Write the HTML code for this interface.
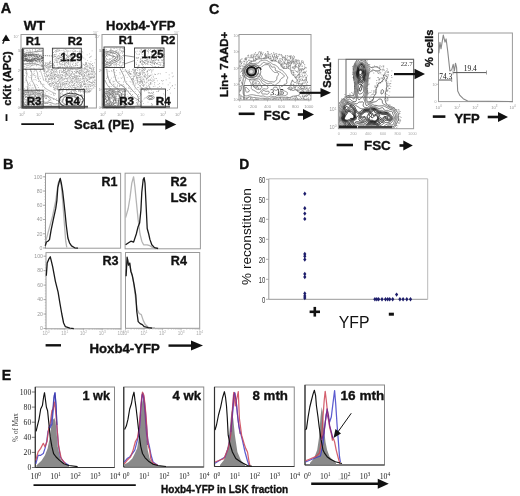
<!DOCTYPE html><html><head><meta charset="utf-8"><style>html,body{margin:0;padding:0;background:#fff;}svg{display:block;will-change:transform;filter:blur(0.3px);}</style></head><body>
<svg width="520" height="496" viewBox="0 0 520 496">
<rect width="520" height="496" fill="#fff"/>
<defs>
<clipPath id="cA1"><rect x="21" y="34.5" width="75.4" height="73.5"/></clipPath>
<clipPath id="cA2"><rect x="102" y="34.5" width="75.5" height="73.5"/></clipPath>
<clipPath id="cC1"><rect x="239" y="34.5" width="72" height="65.5"/></clipPath>
<clipPath id="cC2"><rect x="338.4" y="59.3" width="74.6" height="69.4"/></clipPath>
</defs>
<path d="M49.5,60.8h0.8v0.8h-0.8zM50.2,60.9h0.8v0.8h-0.8zM44.8,61.9h0.8v0.8h-0.8zM46.9,62.4h0.8v0.8h-0.8zM48.8,62.3h0.8v0.8h-0.8zM49.6,61.9h0.8v0.8h-0.8zM86.3,62.5h0.8v0.8h-0.8zM45.2,63.2h0.8v0.8h-0.8zM46.0,62.7h0.8v0.8h-0.8zM47.7,63.3h0.8v0.8h-0.8zM49.4,62.6h0.8v0.8h-0.8zM50.2,62.9h0.8v0.8h-0.8zM50.7,63.0h0.8v0.8h-0.8zM52.4,63.2h0.8v0.8h-0.8zM85.3,62.6h0.8v0.8h-0.8zM86.1,62.8h0.8v0.8h-0.8zM88.3,62.7h0.8v0.8h-0.8zM89.0,63.4h0.8v0.8h-0.8zM91.9,63.2h0.8v0.8h-0.8zM45.1,64.2h0.8v0.8h-0.8zM47.4,64.0h0.8v0.8h-0.8zM48.4,64.1h0.8v0.8h-0.8zM48.9,63.6h0.8v0.8h-0.8zM51.9,63.8h0.8v0.8h-0.8zM52.9,64.1h0.8v0.8h-0.8zM82.4,63.8h0.8v0.8h-0.8zM83.0,64.3h0.8v0.8h-0.8zM85.1,64.3h0.8v0.8h-0.8zM85.7,63.6h0.8v0.8h-0.8zM89.4,63.7h0.8v0.8h-0.8zM90.2,63.5h0.8v0.8h-0.8zM91.2,64.0h0.8v0.8h-0.8zM44.2,64.7h0.8v0.8h-0.8zM45.2,64.8h0.8v0.8h-0.8zM45.8,65.1h0.8v0.8h-0.8zM46.9,64.6h0.8v0.8h-0.8zM49.3,65.4h0.8v0.8h-0.8zM50.0,65.0h0.8v0.8h-0.8zM51.4,65.1h0.8v0.8h-0.8zM52.3,64.8h0.8v0.8h-0.8zM53.4,64.9h0.8v0.8h-0.8zM54.0,65.2h0.8v0.8h-0.8zM81.3,65.3h0.8v0.8h-0.8zM81.7,65.2h0.8v0.8h-0.8zM84.2,64.7h0.8v0.8h-0.8zM84.5,65.2h0.8v0.8h-0.8zM85.9,64.5h0.8v0.8h-0.8zM87.3,64.8h0.8v0.8h-0.8zM92.2,64.9h0.8v0.8h-0.8zM44.1,65.5h0.8v0.8h-0.8zM45.0,66.3h0.8v0.8h-0.8zM46.5,65.7h0.8v0.8h-0.8zM47.5,66.4h0.8v0.8h-0.8zM48.0,65.8h0.8v0.8h-0.8zM49.4,66.1h0.8v0.8h-0.8zM49.8,66.3h0.8v0.8h-0.8zM52.9,66.4h0.8v0.8h-0.8zM79.9,66.3h0.8v0.8h-0.8zM81.4,66.4h0.8v0.8h-0.8zM81.8,66.4h0.8v0.8h-0.8zM85.4,66.0h0.8v0.8h-0.8zM86.3,66.2h0.8v0.8h-0.8zM87.3,65.8h0.8v0.8h-0.8zM88.6,65.6h0.8v0.8h-0.8zM89.9,65.6h0.8v0.8h-0.8zM92.2,65.5h0.8v0.8h-0.8zM92.7,65.5h0.8v0.8h-0.8zM43.4,66.6h0.8v0.8h-0.8zM44.6,67.4h0.8v0.8h-0.8zM46.2,67.3h0.8v0.8h-0.8zM46.7,66.8h0.8v0.8h-0.8zM48.1,67.2h0.8v0.8h-0.8zM49.1,66.9h0.8v0.8h-0.8zM50.2,67.0h0.8v0.8h-0.8zM50.6,66.6h0.8v0.8h-0.8zM52.3,67.3h0.8v0.8h-0.8zM53.2,67.2h0.8v0.8h-0.8zM54.2,66.9h0.8v0.8h-0.8zM57.7,67.4h0.8v0.8h-0.8zM58.8,67.2h0.8v0.8h-0.8zM59.8,67.2h0.8v0.8h-0.8zM77.9,67.4h0.8v0.8h-0.8zM80.3,67.2h0.8v0.8h-0.8zM81.1,67.2h0.8v0.8h-0.8zM82.0,66.8h0.8v0.8h-0.8zM84.3,67.3h0.8v0.8h-0.8zM84.6,67.5h0.8v0.8h-0.8zM86.8,66.8h0.8v0.8h-0.8zM88.8,67.1h0.8v0.8h-0.8zM89.8,67.3h0.8v0.8h-0.8zM91.7,66.9h0.8v0.8h-0.8zM93.4,67.4h0.8v0.8h-0.8zM93.7,67.0h0.8v0.8h-0.8zM43.3,68.3h0.8v0.8h-0.8zM44.0,68.5h0.8v0.8h-0.8zM44.7,67.6h0.8v0.8h-0.8zM46.0,67.5h0.8v0.8h-0.8zM47.3,68.0h0.8v0.8h-0.8zM47.7,67.9h0.8v0.8h-0.8zM48.8,68.5h0.8v0.8h-0.8zM57.3,67.6h0.8v0.8h-0.8zM58.1,68.3h0.8v0.8h-0.8zM64.3,68.2h0.8v0.8h-0.8zM79.1,67.6h0.8v0.8h-0.8zM79.9,68.4h0.8v0.8h-0.8zM81.9,68.3h0.8v0.8h-0.8zM83.2,68.4h0.8v0.8h-0.8zM84.4,68.0h0.8v0.8h-0.8zM84.7,67.6h0.8v0.8h-0.8zM85.6,67.7h0.8v0.8h-0.8zM89.4,68.1h0.8v0.8h-0.8zM90.0,68.1h0.8v0.8h-0.8zM91.4,67.9h0.8v0.8h-0.8zM93.1,67.9h0.8v0.8h-0.8zM43.0,69.0h0.8v0.8h-0.8zM43.7,69.4h0.8v0.8h-0.8zM44.6,69.2h0.8v0.8h-0.8zM47.5,69.5h0.8v0.8h-0.8zM48.5,69.0h0.8v0.8h-0.8zM50.9,69.0h0.8v0.8h-0.8zM51.8,69.0h0.8v0.8h-0.8zM53.1,68.5h0.8v0.8h-0.8zM54.4,69.3h0.8v0.8h-0.8zM55.1,68.8h0.8v0.8h-0.8zM55.9,68.5h0.8v0.8h-0.8zM56.6,69.0h0.8v0.8h-0.8zM62.9,69.1h0.8v0.8h-0.8zM65.0,69.1h0.8v0.8h-0.8zM65.6,68.8h0.8v0.8h-0.8zM67.9,69.2h0.8v0.8h-0.8zM68.8,68.6h0.8v0.8h-0.8zM69.9,68.5h0.8v0.8h-0.8zM70.6,68.8h0.8v0.8h-0.8zM72.3,68.9h0.8v0.8h-0.8zM73.0,68.7h0.8v0.8h-0.8zM74.4,68.6h0.8v0.8h-0.8zM74.6,68.7h0.8v0.8h-0.8zM76.0,69.3h0.8v0.8h-0.8zM77.1,69.3h0.8v0.8h-0.8zM79.7,68.8h0.8v0.8h-0.8zM81.2,68.9h0.8v0.8h-0.8zM81.8,68.5h0.8v0.8h-0.8zM84.3,68.8h0.8v0.8h-0.8zM85.0,68.7h0.8v0.8h-0.8zM86.2,68.9h0.8v0.8h-0.8zM86.9,68.7h0.8v0.8h-0.8zM87.6,69.0h0.8v0.8h-0.8zM91.3,68.8h0.8v0.8h-0.8zM91.6,69.3h0.8v0.8h-0.8zM93.4,68.9h0.8v0.8h-0.8zM43.3,70.2h0.8v0.8h-0.8zM44.0,69.7h0.8v0.8h-0.8zM44.6,70.3h0.8v0.8h-0.8zM47.7,70.1h0.8v0.8h-0.8zM49.6,69.6h0.8v0.8h-0.8zM51.0,69.6h0.8v0.8h-0.8zM52.0,69.6h0.8v0.8h-0.8zM52.6,70.2h0.8v0.8h-0.8zM56.0,70.2h0.8v0.8h-0.8zM59.0,70.2h0.8v0.8h-0.8zM60.4,69.8h0.8v0.8h-0.8zM60.9,69.7h0.8v0.8h-0.8zM63.0,70.1h0.8v0.8h-0.8zM64.1,70.3h0.8v0.8h-0.8zM64.9,69.6h0.8v0.8h-0.8zM67.2,69.6h0.8v0.8h-0.8zM68.5,69.9h0.8v0.8h-0.8zM69.2,70.5h0.8v0.8h-0.8zM69.9,69.6h0.8v0.8h-0.8zM71.5,69.5h0.8v0.8h-0.8zM75.1,69.5h0.8v0.8h-0.8zM76.5,70.3h0.8v0.8h-0.8zM78.3,69.5h0.8v0.8h-0.8zM79.0,70.3h0.8v0.8h-0.8zM80.0,70.4h0.8v0.8h-0.8zM80.8,70.1h0.8v0.8h-0.8zM81.9,69.7h0.8v0.8h-0.8zM83.7,69.7h0.8v0.8h-0.8zM86.8,70.2h0.8v0.8h-0.8zM87.5,70.4h0.8v0.8h-0.8zM89.4,69.9h0.8v0.8h-0.8zM91.2,70.4h0.8v0.8h-0.8zM91.7,70.5h0.8v0.8h-0.8zM93.1,69.6h0.8v0.8h-0.8zM43.2,70.7h0.8v0.8h-0.8zM44.3,71.1h0.8v0.8h-0.8zM45.9,71.0h0.8v0.8h-0.8zM47.4,71.0h0.8v0.8h-0.8zM47.6,71.1h0.8v0.8h-0.8zM50.0,71.5h0.8v0.8h-0.8zM50.7,71.2h0.8v0.8h-0.8zM53.2,71.2h0.8v0.8h-0.8zM54.3,70.6h0.8v0.8h-0.8zM55.4,71.1h0.8v0.8h-0.8zM55.7,71.3h0.8v0.8h-0.8zM57.4,71.4h0.8v0.8h-0.8zM59.3,71.0h0.8v0.8h-0.8zM61.1,71.5h0.8v0.8h-0.8zM62.5,70.9h0.8v0.8h-0.8zM63.0,70.6h0.8v0.8h-0.8zM63.8,70.5h0.8v0.8h-0.8zM65.0,71.0h0.8v0.8h-0.8zM66.3,70.9h0.8v0.8h-0.8zM67.4,70.8h0.8v0.8h-0.8zM68.1,70.5h0.8v0.8h-0.8zM69.5,71.5h0.8v0.8h-0.8zM69.5,71.4h0.8v0.8h-0.8zM71.1,70.9h0.8v0.8h-0.8zM72.3,71.2h0.8v0.8h-0.8zM74.3,71.1h0.8v0.8h-0.8zM76.4,71.2h0.8v0.8h-0.8zM77.0,71.1h0.8v0.8h-0.8zM77.5,71.2h0.8v0.8h-0.8zM78.8,71.0h0.8v0.8h-0.8zM79.7,70.5h0.8v0.8h-0.8zM81.5,71.0h0.8v0.8h-0.8zM82.6,70.8h0.8v0.8h-0.8zM85.5,71.4h0.8v0.8h-0.8zM86.0,70.9h0.8v0.8h-0.8zM87.4,71.2h0.8v0.8h-0.8zM88.2,70.7h0.8v0.8h-0.8zM89.3,71.4h0.8v0.8h-0.8zM90.8,71.0h0.8v0.8h-0.8zM91.8,71.0h0.8v0.8h-0.8zM92.8,70.8h0.8v0.8h-0.8zM93.9,71.0h0.8v0.8h-0.8zM43.9,71.5h0.8v0.8h-0.8zM44.7,72.4h0.8v0.8h-0.8zM45.8,72.4h0.8v0.8h-0.8zM46.6,71.7h0.8v0.8h-0.8zM48.8,71.9h0.8v0.8h-0.8zM51.2,72.0h0.8v0.8h-0.8zM51.8,72.2h0.8v0.8h-0.8zM53.0,71.6h0.8v0.8h-0.8zM54.6,72.0h0.8v0.8h-0.8zM56.4,72.3h0.8v0.8h-0.8zM59.2,72.0h0.8v0.8h-0.8zM61.2,72.0h0.8v0.8h-0.8zM62.2,71.6h0.8v0.8h-0.8zM62.6,71.9h0.8v0.8h-0.8zM63.9,72.1h0.8v0.8h-0.8zM65.4,72.3h0.8v0.8h-0.8zM66.0,72.5h0.8v0.8h-0.8zM66.7,71.5h0.8v0.8h-0.8zM68.5,72.0h0.8v0.8h-0.8zM68.5,72.0h0.8v0.8h-0.8zM72.0,72.0h0.8v0.8h-0.8zM75.1,72.4h0.8v0.8h-0.8zM75.7,71.6h0.8v0.8h-0.8zM76.6,72.5h0.8v0.8h-0.8zM78.3,72.1h0.8v0.8h-0.8zM79.5,72.3h0.8v0.8h-0.8zM80.1,72.0h0.8v0.8h-0.8zM80.9,71.8h0.8v0.8h-0.8zM83.4,71.6h0.8v0.8h-0.8zM84.0,71.9h0.8v0.8h-0.8zM84.6,72.2h0.8v0.8h-0.8zM86.3,72.2h0.8v0.8h-0.8zM87.6,71.6h0.8v0.8h-0.8zM91.6,71.6h0.8v0.8h-0.8zM93.5,71.7h0.8v0.8h-0.8zM93.9,71.9h0.8v0.8h-0.8zM43.6,73.0h0.8v0.8h-0.8zM44.7,72.9h0.8v0.8h-0.8zM45.9,72.5h0.8v0.8h-0.8zM50.2,73.4h0.8v0.8h-0.8zM51.2,73.1h0.8v0.8h-0.8zM52.3,73.4h0.8v0.8h-0.8zM53.5,72.8h0.8v0.8h-0.8zM54.6,73.5h0.8v0.8h-0.8zM57.2,73.5h0.8v0.8h-0.8zM59.4,72.8h0.8v0.8h-0.8zM63.3,72.7h0.8v0.8h-0.8zM64.6,72.5h0.8v0.8h-0.8zM65.8,73.2h0.8v0.8h-0.8zM66.6,73.3h0.8v0.8h-0.8zM68.4,73.4h0.8v0.8h-0.8zM69.5,73.3h0.8v0.8h-0.8zM71.1,73.3h0.8v0.8h-0.8zM71.9,72.7h0.8v0.8h-0.8zM73.5,73.2h0.8v0.8h-0.8zM74.0,73.4h0.8v0.8h-0.8zM75.9,72.6h0.8v0.8h-0.8zM78.5,72.9h0.8v0.8h-0.8zM79.3,72.9h0.8v0.8h-0.8zM79.9,73.2h0.8v0.8h-0.8zM81.4,73.4h0.8v0.8h-0.8zM81.9,72.6h0.8v0.8h-0.8zM83.3,72.9h0.8v0.8h-0.8zM85.4,73.0h0.8v0.8h-0.8zM85.8,72.8h0.8v0.8h-0.8zM88.3,72.9h0.8v0.8h-0.8zM89.7,72.7h0.8v0.8h-0.8zM90.6,73.4h0.8v0.8h-0.8zM91.6,73.5h0.8v0.8h-0.8zM92.5,72.7h0.8v0.8h-0.8zM94.8,73.2h0.8v0.8h-0.8zM46.3,74.1h0.8v0.8h-0.8zM48.5,74.0h0.8v0.8h-0.8zM48.6,73.7h0.8v0.8h-0.8zM49.9,73.7h0.8v0.8h-0.8zM50.6,73.8h0.8v0.8h-0.8zM52.6,74.4h0.8v0.8h-0.8zM53.9,74.3h0.8v0.8h-0.8zM55.3,73.9h0.8v0.8h-0.8zM55.6,74.1h0.8v0.8h-0.8zM57.8,74.2h0.8v0.8h-0.8zM59.6,74.4h0.8v0.8h-0.8zM60.7,74.1h0.8v0.8h-0.8zM62.1,74.2h0.8v0.8h-0.8zM65.0,73.7h0.8v0.8h-0.8zM65.7,74.3h0.8v0.8h-0.8zM67.0,73.9h0.8v0.8h-0.8zM68.5,73.6h0.8v0.8h-0.8zM69.9,74.3h0.8v0.8h-0.8zM71.3,74.2h0.8v0.8h-0.8zM72.9,74.2h0.8v0.8h-0.8zM74.3,74.5h0.8v0.8h-0.8zM78.9,73.8h0.8v0.8h-0.8zM79.8,74.3h0.8v0.8h-0.8zM81.0,74.1h0.8v0.8h-0.8zM82.4,74.4h0.8v0.8h-0.8zM84.0,73.9h0.8v0.8h-0.8zM86.5,74.0h0.8v0.8h-0.8zM88.0,74.1h0.8v0.8h-0.8zM88.9,74.0h0.8v0.8h-0.8zM90.4,73.7h0.8v0.8h-0.8zM92.2,73.9h0.8v0.8h-0.8zM93.7,73.7h0.8v0.8h-0.8zM94.8,73.8h0.8v0.8h-0.8zM44.3,74.5h0.8v0.8h-0.8zM46.5,75.3h0.8v0.8h-0.8zM46.9,75.0h0.8v0.8h-0.8zM48.2,75.0h0.8v0.8h-0.8zM50.1,75.1h0.8v0.8h-0.8zM51.7,75.0h0.8v0.8h-0.8zM52.8,74.7h0.8v0.8h-0.8zM54.0,75.2h0.8v0.8h-0.8zM54.6,74.6h0.8v0.8h-0.8zM56.4,75.2h0.8v0.8h-0.8zM57.4,74.9h0.8v0.8h-0.8zM58.1,74.8h0.8v0.8h-0.8zM59.4,75.5h0.8v0.8h-0.8zM61.8,75.4h0.8v0.8h-0.8zM62.5,75.0h0.8v0.8h-0.8zM64.2,74.7h0.8v0.8h-0.8zM65.4,75.2h0.8v0.8h-0.8zM66.5,74.5h0.8v0.8h-0.8zM67.5,75.0h0.8v0.8h-0.8zM67.7,75.3h0.8v0.8h-0.8zM69.5,75.1h0.8v0.8h-0.8zM70.0,75.0h0.8v0.8h-0.8zM71.2,74.7h0.8v0.8h-0.8zM74.0,75.5h0.8v0.8h-0.8zM75.3,75.2h0.8v0.8h-0.8zM75.9,75.4h0.8v0.8h-0.8zM76.6,75.2h0.8v0.8h-0.8zM78.6,75.3h0.8v0.8h-0.8zM81.0,75.2h0.8v0.8h-0.8zM82.0,74.7h0.8v0.8h-0.8zM83.7,74.6h0.8v0.8h-0.8zM84.5,75.3h0.8v0.8h-0.8zM86.5,75.3h0.8v0.8h-0.8zM87.0,75.4h0.8v0.8h-0.8zM88.2,74.7h0.8v0.8h-0.8zM88.7,74.7h0.8v0.8h-0.8zM90.8,74.5h0.8v0.8h-0.8zM93.0,75.4h0.8v0.8h-0.8zM94.0,75.5h0.8v0.8h-0.8zM44.3,75.6h0.8v0.8h-0.8zM45.4,76.0h0.8v0.8h-0.8zM45.7,76.1h0.8v0.8h-0.8zM47.2,76.0h0.8v0.8h-0.8zM48.0,75.5h0.8v0.8h-0.8zM49.4,75.7h0.8v0.8h-0.8zM49.6,76.0h0.8v0.8h-0.8zM51.2,75.6h0.8v0.8h-0.8zM52.4,76.0h0.8v0.8h-0.8zM52.9,75.9h0.8v0.8h-0.8zM53.7,76.4h0.8v0.8h-0.8zM55.3,75.9h0.8v0.8h-0.8zM56.1,75.9h0.8v0.8h-0.8zM57.1,76.4h0.8v0.8h-0.8zM58.4,75.7h0.8v0.8h-0.8zM60.1,75.5h0.8v0.8h-0.8zM60.7,76.2h0.8v0.8h-0.8zM62.7,75.5h0.8v0.8h-0.8zM64.6,76.3h0.8v0.8h-0.8zM65.7,75.8h0.8v0.8h-0.8zM69.1,76.1h0.8v0.8h-0.8zM71.2,76.2h0.8v0.8h-0.8zM72.0,75.9h0.8v0.8h-0.8zM73.1,76.3h0.8v0.8h-0.8zM74.1,76.4h0.8v0.8h-0.8zM75.2,76.5h0.8v0.8h-0.8zM75.8,76.3h0.8v0.8h-0.8zM77.3,76.1h0.8v0.8h-0.8zM77.7,75.7h0.8v0.8h-0.8zM79.0,76.2h0.8v0.8h-0.8zM79.6,76.1h0.8v0.8h-0.8zM81.9,76.0h0.8v0.8h-0.8zM83.3,76.1h0.8v0.8h-0.8zM83.8,75.6h0.8v0.8h-0.8zM84.6,75.8h0.8v0.8h-0.8zM86.3,75.7h0.8v0.8h-0.8zM87.6,76.5h0.8v0.8h-0.8zM88.7,76.3h0.8v0.8h-0.8zM89.8,76.5h0.8v0.8h-0.8zM91.2,76.5h0.8v0.8h-0.8zM92.4,75.9h0.8v0.8h-0.8zM92.9,75.5h0.8v0.8h-0.8zM94.4,76.5h0.8v0.8h-0.8zM45.4,77.4h0.8v0.8h-0.8zM46.9,76.7h0.8v0.8h-0.8zM49.6,77.0h0.8v0.8h-0.8zM50.8,77.1h0.8v0.8h-0.8zM52.3,77.5h0.8v0.8h-0.8zM53.5,77.0h0.8v0.8h-0.8zM54.9,77.4h0.8v0.8h-0.8zM57.3,77.2h0.8v0.8h-0.8zM58.2,77.3h0.8v0.8h-0.8zM59.1,76.7h0.8v0.8h-0.8zM61.0,77.1h0.8v0.8h-0.8zM62.3,77.3h0.8v0.8h-0.8zM65.3,76.6h0.8v0.8h-0.8zM67.4,77.5h0.8v0.8h-0.8zM68.2,76.7h0.8v0.8h-0.8zM69.3,76.6h0.8v0.8h-0.8zM70.1,77.3h0.8v0.8h-0.8zM72.3,77.4h0.8v0.8h-0.8zM72.6,77.2h0.8v0.8h-0.8zM74.0,77.3h0.8v0.8h-0.8zM75.3,77.5h0.8v0.8h-0.8zM75.8,77.2h0.8v0.8h-0.8zM77.6,77.5h0.8v0.8h-0.8zM82.0,77.5h0.8v0.8h-0.8zM83.2,77.4h0.8v0.8h-0.8zM85.3,76.9h0.8v0.8h-0.8zM87.9,77.4h0.8v0.8h-0.8zM89.3,76.9h0.8v0.8h-0.8zM90.1,77.2h0.8v0.8h-0.8zM90.6,77.2h0.8v0.8h-0.8zM91.6,77.0h0.8v0.8h-0.8zM93.2,77.0h0.8v0.8h-0.8zM93.9,76.6h0.8v0.8h-0.8zM45.4,78.0h0.8v0.8h-0.8zM48.1,78.3h0.8v0.8h-0.8zM49.3,78.3h0.8v0.8h-0.8zM50.5,78.0h0.8v0.8h-0.8zM51.5,78.1h0.8v0.8h-0.8zM51.8,77.9h0.8v0.8h-0.8zM54.0,77.7h0.8v0.8h-0.8zM54.7,78.3h0.8v0.8h-0.8zM59.1,78.4h0.8v0.8h-0.8zM60.3,77.6h0.8v0.8h-0.8zM60.7,77.9h0.8v0.8h-0.8zM61.8,77.8h0.8v0.8h-0.8zM63.5,78.2h0.8v0.8h-0.8zM63.9,78.0h0.8v0.8h-0.8zM65.2,77.9h0.8v0.8h-0.8zM66.2,77.9h0.8v0.8h-0.8zM67.0,78.4h0.8v0.8h-0.8zM68.9,78.4h0.8v0.8h-0.8zM70.2,78.4h0.8v0.8h-0.8zM70.8,78.4h0.8v0.8h-0.8zM72.2,78.1h0.8v0.8h-0.8zM73.2,78.0h0.8v0.8h-0.8zM75.3,78.0h0.8v0.8h-0.8zM76.3,77.6h0.8v0.8h-0.8zM76.7,78.5h0.8v0.8h-0.8zM78.5,78.3h0.8v0.8h-0.8zM80.0,78.2h0.8v0.8h-0.8zM81.8,78.2h0.8v0.8h-0.8zM83.2,78.2h0.8v0.8h-0.8zM84.5,77.7h0.8v0.8h-0.8zM84.7,78.2h0.8v0.8h-0.8zM86.4,78.0h0.8v0.8h-0.8zM89.3,77.9h0.8v0.8h-0.8zM90.4,77.5h0.8v0.8h-0.8zM91.1,77.8h0.8v0.8h-0.8zM92.4,77.5h0.8v0.8h-0.8zM92.7,77.5h0.8v0.8h-0.8zM93.5,77.5h0.8v0.8h-0.8zM45.3,78.8h0.8v0.8h-0.8zM45.7,78.6h0.8v0.8h-0.8zM48.1,79.2h0.8v0.8h-0.8zM49.0,79.3h0.8v0.8h-0.8zM49.8,79.2h0.8v0.8h-0.8zM50.9,79.5h0.8v0.8h-0.8zM52.2,78.7h0.8v0.8h-0.8zM52.8,78.7h0.8v0.8h-0.8zM54.0,78.6h0.8v0.8h-0.8zM55.8,79.4h0.8v0.8h-0.8zM57.8,78.6h0.8v0.8h-0.8zM59.0,79.5h0.8v0.8h-0.8zM60.2,78.8h0.8v0.8h-0.8zM61.6,78.8h0.8v0.8h-0.8zM62.7,79.2h0.8v0.8h-0.8zM64.3,78.9h0.8v0.8h-0.8zM66.5,78.7h0.8v0.8h-0.8zM67.5,78.6h0.8v0.8h-0.8zM70.2,78.8h0.8v0.8h-0.8zM71.1,78.8h0.8v0.8h-0.8zM72.4,78.7h0.8v0.8h-0.8zM73.8,78.8h0.8v0.8h-0.8zM75.0,79.3h0.8v0.8h-0.8zM76.4,79.3h0.8v0.8h-0.8zM76.5,78.6h0.8v0.8h-0.8zM77.9,78.5h0.8v0.8h-0.8zM80.3,79.4h0.8v0.8h-0.8zM81.7,79.3h0.8v0.8h-0.8zM83.5,78.7h0.8v0.8h-0.8zM86.3,78.8h0.8v0.8h-0.8zM87.3,79.3h0.8v0.8h-0.8zM87.9,79.4h0.8v0.8h-0.8zM89.2,79.2h0.8v0.8h-0.8zM90.2,78.5h0.8v0.8h-0.8zM94.3,79.4h0.8v0.8h-0.8zM45.0,79.7h0.8v0.8h-0.8zM45.5,79.6h0.8v0.8h-0.8zM48.2,79.8h0.8v0.8h-0.8zM51.6,80.2h0.8v0.8h-0.8zM54.5,79.8h0.8v0.8h-0.8zM57.9,80.2h0.8v0.8h-0.8zM58.7,79.7h0.8v0.8h-0.8zM61.0,80.4h0.8v0.8h-0.8zM62.2,79.7h0.8v0.8h-0.8zM62.9,79.8h0.8v0.8h-0.8zM67.2,80.2h0.8v0.8h-0.8zM70.9,80.3h0.8v0.8h-0.8zM71.6,80.0h0.8v0.8h-0.8zM74.6,80.3h0.8v0.8h-0.8zM76.2,80.4h0.8v0.8h-0.8zM77.4,79.7h0.8v0.8h-0.8zM78.3,79.7h0.8v0.8h-0.8zM79.1,79.8h0.8v0.8h-0.8zM79.8,80.3h0.8v0.8h-0.8zM83.3,80.3h0.8v0.8h-0.8zM83.9,80.4h0.8v0.8h-0.8zM84.6,79.5h0.8v0.8h-0.8zM86.3,80.0h0.8v0.8h-0.8zM87.0,80.1h0.8v0.8h-0.8zM92.4,79.7h0.8v0.8h-0.8zM94.8,79.8h0.8v0.8h-0.8zM45.8,81.1h0.8v0.8h-0.8zM46.8,80.7h0.8v0.8h-0.8zM48.1,81.5h0.8v0.8h-0.8zM48.7,81.1h0.8v0.8h-0.8zM50.9,81.4h0.8v0.8h-0.8zM53.4,80.9h0.8v0.8h-0.8zM54.9,81.4h0.8v0.8h-0.8zM57.2,81.1h0.8v0.8h-0.8zM58.1,80.7h0.8v0.8h-0.8zM59.2,81.4h0.8v0.8h-0.8zM60.0,80.7h0.8v0.8h-0.8zM64.2,81.4h0.8v0.8h-0.8zM64.8,80.9h0.8v0.8h-0.8zM66.1,81.1h0.8v0.8h-0.8zM67.3,81.4h0.8v0.8h-0.8zM67.5,81.0h0.8v0.8h-0.8zM68.6,80.8h0.8v0.8h-0.8zM70.1,80.7h0.8v0.8h-0.8zM70.6,81.2h0.8v0.8h-0.8zM72.4,81.4h0.8v0.8h-0.8zM72.7,80.7h0.8v0.8h-0.8zM74.1,80.6h0.8v0.8h-0.8zM75.4,81.4h0.8v0.8h-0.8zM76.2,80.9h0.8v0.8h-0.8zM77.5,81.3h0.8v0.8h-0.8zM77.7,81.2h0.8v0.8h-0.8zM78.9,81.4h0.8v0.8h-0.8zM82.1,81.3h0.8v0.8h-0.8zM83.3,80.8h0.8v0.8h-0.8zM84.1,81.2h0.8v0.8h-0.8zM86.0,81.0h0.8v0.8h-0.8zM88.5,81.1h0.8v0.8h-0.8zM89.4,81.2h0.8v0.8h-0.8zM92.6,81.3h0.8v0.8h-0.8zM94.4,80.5h0.8v0.8h-0.8zM47.3,82.3h0.8v0.8h-0.8zM47.8,81.5h0.8v0.8h-0.8zM50.8,81.5h0.8v0.8h-0.8zM52.3,82.3h0.8v0.8h-0.8zM53.7,81.9h0.8v0.8h-0.8zM54.8,81.6h0.8v0.8h-0.8zM56.2,81.7h0.8v0.8h-0.8zM59.0,82.0h0.8v0.8h-0.8zM60.5,82.5h0.8v0.8h-0.8zM61.8,81.8h0.8v0.8h-0.8zM63.0,82.2h0.8v0.8h-0.8zM69.1,81.9h0.8v0.8h-0.8zM69.5,82.2h0.8v0.8h-0.8zM71.3,82.2h0.8v0.8h-0.8zM71.9,81.5h0.8v0.8h-0.8zM72.5,81.9h0.8v0.8h-0.8zM76.3,82.3h0.8v0.8h-0.8zM77.3,82.3h0.8v0.8h-0.8zM78.8,82.4h0.8v0.8h-0.8zM80.2,82.1h0.8v0.8h-0.8zM81.0,81.5h0.8v0.8h-0.8zM81.8,82.2h0.8v0.8h-0.8zM83.5,82.4h0.8v0.8h-0.8zM84.4,81.8h0.8v0.8h-0.8zM87.0,82.4h0.8v0.8h-0.8zM88.7,82.2h0.8v0.8h-0.8zM90.3,82.1h0.8v0.8h-0.8zM91.1,82.2h0.8v0.8h-0.8zM92.2,82.0h0.8v0.8h-0.8zM93.1,81.6h0.8v0.8h-0.8zM94.1,82.0h0.8v0.8h-0.8zM47.5,82.6h0.8v0.8h-0.8zM49.2,83.0h0.8v0.8h-0.8zM49.7,83.1h0.8v0.8h-0.8zM51.4,82.7h0.8v0.8h-0.8zM51.9,82.7h0.8v0.8h-0.8zM53.0,83.1h0.8v0.8h-0.8zM55.4,83.2h0.8v0.8h-0.8zM55.5,82.5h0.8v0.8h-0.8zM56.5,83.2h0.8v0.8h-0.8zM58.0,83.3h0.8v0.8h-0.8zM58.5,83.4h0.8v0.8h-0.8zM59.6,82.7h0.8v0.8h-0.8zM62.0,82.7h0.8v0.8h-0.8zM62.6,83.3h0.8v0.8h-0.8zM64.4,83.2h0.8v0.8h-0.8zM65.2,82.8h0.8v0.8h-0.8zM65.8,82.7h0.8v0.8h-0.8zM66.6,83.0h0.8v0.8h-0.8zM68.4,82.7h0.8v0.8h-0.8zM69.5,83.0h0.8v0.8h-0.8zM71.8,82.8h0.8v0.8h-0.8zM73.9,83.1h0.8v0.8h-0.8zM74.7,82.8h0.8v0.8h-0.8zM77.0,83.5h0.8v0.8h-0.8zM78.5,82.5h0.8v0.8h-0.8zM79.1,83.4h0.8v0.8h-0.8zM80.9,83.2h0.8v0.8h-0.8zM83.4,83.5h0.8v0.8h-0.8zM84.5,82.9h0.8v0.8h-0.8zM84.8,83.4h0.8v0.8h-0.8zM91.0,83.5h0.8v0.8h-0.8zM91.9,83.3h0.8v0.8h-0.8zM94.5,82.6h0.8v0.8h-0.8zM48.5,84.1h0.8v0.8h-0.8zM49.3,83.9h0.8v0.8h-0.8zM50.4,83.5h0.8v0.8h-0.8zM52.0,83.6h0.8v0.8h-0.8zM54.3,84.3h0.8v0.8h-0.8zM55.7,83.6h0.8v0.8h-0.8zM57.5,84.2h0.8v0.8h-0.8zM57.6,83.6h0.8v0.8h-0.8zM60.0,84.3h0.8v0.8h-0.8zM60.6,83.6h0.8v0.8h-0.8zM61.8,84.3h0.8v0.8h-0.8zM63.3,84.0h0.8v0.8h-0.8zM63.9,83.6h0.8v0.8h-0.8zM66.1,83.6h0.8v0.8h-0.8zM68.1,83.9h0.8v0.8h-0.8zM73.3,83.9h0.8v0.8h-0.8zM73.9,83.8h0.8v0.8h-0.8zM76.2,84.4h0.8v0.8h-0.8zM78.2,84.0h0.8v0.8h-0.8zM80.0,83.9h0.8v0.8h-0.8zM81.0,84.0h0.8v0.8h-0.8zM83.2,83.6h0.8v0.8h-0.8zM84.1,84.1h0.8v0.8h-0.8zM85.4,83.9h0.8v0.8h-0.8zM85.7,83.6h0.8v0.8h-0.8zM87.4,83.9h0.8v0.8h-0.8zM88.4,83.8h0.8v0.8h-0.8zM89.0,84.2h0.8v0.8h-0.8zM89.9,84.0h0.8v0.8h-0.8zM93.2,84.2h0.8v0.8h-0.8zM94.6,84.2h0.8v0.8h-0.8zM49.4,85.0h0.8v0.8h-0.8zM49.8,85.4h0.8v0.8h-0.8zM51.2,84.6h0.8v0.8h-0.8zM52.7,85.2h0.8v0.8h-0.8zM54.1,84.9h0.8v0.8h-0.8zM57.7,85.0h0.8v0.8h-0.8zM60.0,85.3h0.8v0.8h-0.8zM62.2,85.0h0.8v0.8h-0.8zM62.6,84.6h0.8v0.8h-0.8zM64.3,84.8h0.8v0.8h-0.8zM65.3,84.6h0.8v0.8h-0.8zM67.2,84.7h0.8v0.8h-0.8zM69.1,84.7h0.8v0.8h-0.8zM69.6,84.9h0.8v0.8h-0.8zM71.1,84.6h0.8v0.8h-0.8zM72.2,85.2h0.8v0.8h-0.8zM73.0,85.1h0.8v0.8h-0.8zM74.0,85.4h0.8v0.8h-0.8zM76.6,85.4h0.8v0.8h-0.8zM79.4,85.0h0.8v0.8h-0.8zM80.1,85.4h0.8v0.8h-0.8zM80.8,85.1h0.8v0.8h-0.8zM81.7,85.4h0.8v0.8h-0.8zM83.3,84.5h0.8v0.8h-0.8zM88.6,84.9h0.8v0.8h-0.8zM90.5,85.2h0.8v0.8h-0.8zM90.7,85.4h0.8v0.8h-0.8zM92.3,84.8h0.8v0.8h-0.8zM92.8,84.7h0.8v0.8h-0.8zM50.6,86.1h0.8v0.8h-0.8zM52.9,85.6h0.8v0.8h-0.8zM54.8,85.7h0.8v0.8h-0.8zM56.0,85.6h0.8v0.8h-0.8zM56.8,85.9h0.8v0.8h-0.8zM57.5,85.8h0.8v0.8h-0.8zM58.8,85.9h0.8v0.8h-0.8zM60.1,86.3h0.8v0.8h-0.8zM60.5,85.5h0.8v0.8h-0.8zM62.4,86.4h0.8v0.8h-0.8zM64.5,86.2h0.8v0.8h-0.8zM68.2,86.3h0.8v0.8h-0.8zM69.4,86.5h0.8v0.8h-0.8zM69.9,86.2h0.8v0.8h-0.8zM72.0,85.8h0.8v0.8h-0.8zM74.6,85.5h0.8v0.8h-0.8zM77.3,86.0h0.8v0.8h-0.8zM77.7,86.1h0.8v0.8h-0.8zM79.8,86.1h0.8v0.8h-0.8zM80.8,86.2h0.8v0.8h-0.8zM82.0,85.9h0.8v0.8h-0.8zM84.1,85.9h0.8v0.8h-0.8zM84.9,86.1h0.8v0.8h-0.8zM85.5,85.6h0.8v0.8h-0.8zM87.3,85.8h0.8v0.8h-0.8zM87.9,85.9h0.8v0.8h-0.8zM89.9,86.1h0.8v0.8h-0.8zM91.8,85.5h0.8v0.8h-0.8zM94.0,85.5h0.8v0.8h-0.8zM94.7,86.2h0.8v0.8h-0.8zM53.2,87.1h0.8v0.8h-0.8zM54.9,86.8h0.8v0.8h-0.8zM56.8,87.1h0.8v0.8h-0.8zM57.9,86.7h0.8v0.8h-0.8zM58.7,86.8h0.8v0.8h-0.8zM60.5,87.3h0.8v0.8h-0.8zM60.9,86.6h0.8v0.8h-0.8zM64.4,86.9h0.8v0.8h-0.8zM66.3,87.4h0.8v0.8h-0.8zM67.4,87.3h0.8v0.8h-0.8zM70.4,86.8h0.8v0.8h-0.8zM72.7,86.9h0.8v0.8h-0.8zM73.8,87.1h0.8v0.8h-0.8zM75.0,87.2h0.8v0.8h-0.8zM76.2,87.4h0.8v0.8h-0.8zM78.7,87.4h0.8v0.8h-0.8zM80.1,87.2h0.8v0.8h-0.8zM81.1,87.4h0.8v0.8h-0.8zM86.0,86.7h0.8v0.8h-0.8zM88.4,86.8h0.8v0.8h-0.8zM92.9,86.7h0.8v0.8h-0.8zM53.8,87.5h0.8v0.8h-0.8zM55.1,88.3h0.8v0.8h-0.8zM56.5,87.8h0.8v0.8h-0.8zM56.7,88.4h0.8v0.8h-0.8zM57.5,88.0h0.8v0.8h-0.8zM60.2,88.1h0.8v0.8h-0.8zM61.5,88.3h0.8v0.8h-0.8zM63.0,88.1h0.8v0.8h-0.8zM64.9,87.5h0.8v0.8h-0.8zM68.3,88.4h0.8v0.8h-0.8zM68.7,88.1h0.8v0.8h-0.8zM71.3,87.6h0.8v0.8h-0.8zM71.6,88.0h0.8v0.8h-0.8zM74.2,87.8h0.8v0.8h-0.8zM74.7,88.1h0.8v0.8h-0.8zM75.6,87.7h0.8v0.8h-0.8zM77.0,87.7h0.8v0.8h-0.8zM77.8,87.7h0.8v0.8h-0.8zM79.8,87.8h0.8v0.8h-0.8zM81.5,88.1h0.8v0.8h-0.8zM82.9,87.9h0.8v0.8h-0.8zM83.5,88.1h0.8v0.8h-0.8zM84.5,87.5h0.8v0.8h-0.8zM85.8,88.0h0.8v0.8h-0.8zM87.6,87.8h0.8v0.8h-0.8zM89.1,88.4h0.8v0.8h-0.8zM90.4,88.3h0.8v0.8h-0.8zM91.9,88.5h0.8v0.8h-0.8zM93.5,87.8h0.8v0.8h-0.8zM53.5,88.9h0.8v0.8h-0.8zM54.0,88.6h0.8v0.8h-0.8zM56.5,88.9h0.8v0.8h-0.8zM56.9,89.4h0.8v0.8h-0.8zM57.5,89.0h0.8v0.8h-0.8zM58.6,89.3h0.8v0.8h-0.8zM61.3,88.7h0.8v0.8h-0.8zM62.2,89.5h0.8v0.8h-0.8zM63.1,88.9h0.8v0.8h-0.8zM64.2,89.3h0.8v0.8h-0.8zM65.8,88.7h0.8v0.8h-0.8zM69.5,89.5h0.8v0.8h-0.8zM70.5,88.9h0.8v0.8h-0.8zM72.5,89.1h0.8v0.8h-0.8zM73.1,89.4h0.8v0.8h-0.8zM75.4,89.2h0.8v0.8h-0.8zM75.5,88.6h0.8v0.8h-0.8zM77.1,89.2h0.8v0.8h-0.8zM78.9,88.6h0.8v0.8h-0.8zM82.1,89.4h0.8v0.8h-0.8zM83.3,88.8h0.8v0.8h-0.8zM83.9,88.9h0.8v0.8h-0.8zM84.9,89.4h0.8v0.8h-0.8zM85.9,89.3h0.8v0.8h-0.8zM86.6,88.6h0.8v0.8h-0.8zM88.3,88.8h0.8v0.8h-0.8zM91.2,88.7h0.8v0.8h-0.8zM54.5,89.6h0.8v0.8h-0.8zM55.0,89.7h0.8v0.8h-0.8zM58.1,89.6h0.8v0.8h-0.8zM59.0,89.9h0.8v0.8h-0.8zM59.8,89.8h0.8v0.8h-0.8zM62.4,90.3h0.8v0.8h-0.8zM62.6,90.0h0.8v0.8h-0.8zM66.0,89.8h0.8v0.8h-0.8zM67.2,89.6h0.8v0.8h-0.8zM68.3,89.8h0.8v0.8h-0.8zM69.6,89.7h0.8v0.8h-0.8zM71.5,90.1h0.8v0.8h-0.8zM72.7,89.9h0.8v0.8h-0.8zM74.4,90.1h0.8v0.8h-0.8zM75.1,89.9h0.8v0.8h-0.8zM78.3,90.1h0.8v0.8h-0.8zM78.6,89.9h0.8v0.8h-0.8zM80.1,89.6h0.8v0.8h-0.8zM82.0,89.6h0.8v0.8h-0.8zM82.9,90.0h0.8v0.8h-0.8zM84.9,90.0h0.8v0.8h-0.8zM87.3,90.0h0.8v0.8h-0.8zM87.6,89.8h0.8v0.8h-0.8zM89.1,90.4h0.8v0.8h-0.8zM89.6,89.8h0.8v0.8h-0.8zM90.5,89.9h0.8v0.8h-0.8zM73.2,90.7h0.8v0.8h-0.8zM74.8,90.7h0.8v0.8h-0.8zM78.3,90.9h0.8v0.8h-0.8zM79.4,90.7h0.8v0.8h-0.8zM80.4,90.5h0.8v0.8h-0.8zM81.0,90.7h0.8v0.8h-0.8zM83.1,91.1h0.8v0.8h-0.8zM85.1,91.1h0.8v0.8h-0.8zM86.1,90.8h0.8v0.8h-0.8zM86.6,91.0h0.8v0.8h-0.8zM88.1,91.0h0.8v0.8h-0.8zM88.9,91.0h0.8v0.8h-0.8zM90.3,91.0h0.8v0.8h-0.8zM80.2,91.6h0.8v0.8h-0.8zM82.7,91.6h0.8v0.8h-0.8zM83.9,91.7h0.8v0.8h-0.8zM84.8,92.0h0.8v0.8h-0.8zM86.5,92.4h0.8v0.8h-0.8zM86.8,91.7h0.8v0.8h-0.8zM88.2,91.8h0.8v0.8h-0.8zM89.0,91.7h0.8v0.8h-0.8zM83.1,92.7h0.8v0.8h-0.8z" fill="#969696" clip-path="url(#cA1)"/>
<path d="M53.4,49.2h0.8v0.8h-0.8zM55.9,49.8h0.8v0.8h-0.8zM56.6,49.6h0.8v0.8h-0.8zM57.5,49.3h0.8v0.8h-0.8zM58.8,49.4h0.8v0.8h-0.8zM59.4,49.9h0.8v0.8h-0.8zM63.6,49.4h0.8v0.8h-0.8zM65.4,49.1h0.8v0.8h-0.8zM66.6,49.7h0.8v0.8h-0.8zM73.5,49.2h0.8v0.8h-0.8zM79.3,49.7h0.8v0.8h-0.8zM55.1,50.3h0.8v0.8h-0.8zM56.3,50.8h0.8v0.8h-0.8zM57.8,50.6h0.8v0.8h-0.8zM58.8,50.0h0.8v0.8h-0.8zM59.5,50.4h0.8v0.8h-0.8zM61.5,50.2h0.8v0.8h-0.8zM63.3,50.4h0.8v0.8h-0.8zM66.3,50.4h0.8v0.8h-0.8zM67.7,50.6h0.8v0.8h-0.8zM68.1,50.7h0.8v0.8h-0.8zM69.5,50.7h0.8v0.8h-0.8zM70.5,50.4h0.8v0.8h-0.8zM72.3,50.4h0.8v0.8h-0.8zM73.9,51.0h0.8v0.8h-0.8zM74.6,50.0h0.8v0.8h-0.8zM75.2,50.6h0.8v0.8h-0.8zM76.6,51.0h0.8v0.8h-0.8zM77.1,50.9h0.8v0.8h-0.8zM78.7,50.9h0.8v0.8h-0.8zM79.5,51.0h0.8v0.8h-0.8zM80.8,50.7h0.8v0.8h-0.8zM53.2,51.9h0.8v0.8h-0.8zM54.4,51.0h0.8v0.8h-0.8zM55.2,51.8h0.8v0.8h-0.8zM56.1,51.5h0.8v0.8h-0.8zM57.5,51.1h0.8v0.8h-0.8zM63.0,52.0h0.8v0.8h-0.8zM64.4,51.1h0.8v0.8h-0.8zM65.6,51.5h0.8v0.8h-0.8zM67.2,51.6h0.8v0.8h-0.8zM72.8,51.3h0.8v0.8h-0.8zM73.3,51.7h0.8v0.8h-0.8zM74.8,51.4h0.8v0.8h-0.8zM53.0,52.3h0.8v0.8h-0.8zM60.7,52.8h0.8v0.8h-0.8zM61.9,52.8h0.8v0.8h-0.8zM64.0,52.4h0.8v0.8h-0.8zM64.5,52.9h0.8v0.8h-0.8zM74.8,52.9h0.8v0.8h-0.8zM78.5,52.7h0.8v0.8h-0.8zM79.6,52.6h0.8v0.8h-0.8zM54.2,53.9h0.8v0.8h-0.8zM56.2,53.7h0.8v0.8h-0.8zM59.3,53.1h0.8v0.8h-0.8zM63.4,53.5h0.8v0.8h-0.8zM65.0,53.9h0.8v0.8h-0.8zM66.7,53.9h0.8v0.8h-0.8zM67.1,53.4h0.8v0.8h-0.8zM70.0,54.0h0.8v0.8h-0.8zM73.0,53.0h0.8v0.8h-0.8zM75.1,53.3h0.8v0.8h-0.8zM77.8,53.9h0.8v0.8h-0.8zM78.4,53.9h0.8v0.8h-0.8zM79.3,53.9h0.8v0.8h-0.8zM53.3,54.4h0.8v0.8h-0.8zM54.0,54.2h0.8v0.8h-0.8zM55.2,54.3h0.8v0.8h-0.8zM59.3,54.8h0.8v0.8h-0.8zM61.7,54.6h0.8v0.8h-0.8zM63.7,54.7h0.8v0.8h-0.8zM64.2,54.1h0.8v0.8h-0.8zM65.0,54.5h0.8v0.8h-0.8zM66.1,54.8h0.8v0.8h-0.8zM69.5,54.7h0.8v0.8h-0.8zM72.1,54.6h0.8v0.8h-0.8zM73.9,54.6h0.8v0.8h-0.8zM77.6,54.6h0.8v0.8h-0.8zM53.0,55.7h0.8v0.8h-0.8zM54.4,55.2h0.8v0.8h-0.8zM56.5,55.8h0.8v0.8h-0.8zM57.1,55.8h0.8v0.8h-0.8zM58.2,55.1h0.8v0.8h-0.8zM63.8,55.8h0.8v0.8h-0.8zM66.3,55.4h0.8v0.8h-0.8zM67.7,55.1h0.8v0.8h-0.8zM70.5,55.8h0.8v0.8h-0.8zM71.9,55.4h0.8v0.8h-0.8zM72.0,55.1h0.8v0.8h-0.8zM75.3,55.6h0.8v0.8h-0.8zM77.4,55.4h0.8v0.8h-0.8zM78.9,55.9h0.8v0.8h-0.8zM80.5,55.9h0.8v0.8h-0.8zM53.1,56.9h0.8v0.8h-0.8zM54.3,56.4h0.8v0.8h-0.8zM57.1,56.0h0.8v0.8h-0.8zM58.3,56.4h0.8v0.8h-0.8zM59.1,56.0h0.8v0.8h-0.8zM63.8,56.8h0.8v0.8h-0.8zM67.3,56.3h0.8v0.8h-0.8zM68.3,56.7h0.8v0.8h-0.8zM69.2,56.2h0.8v0.8h-0.8zM71.3,56.7h0.8v0.8h-0.8zM72.3,56.8h0.8v0.8h-0.8zM74.3,56.5h0.8v0.8h-0.8zM76.3,56.0h0.8v0.8h-0.8zM77.3,56.4h0.8v0.8h-0.8zM78.0,56.7h0.8v0.8h-0.8zM55.7,57.7h0.8v0.8h-0.8zM59.9,57.1h0.8v0.8h-0.8zM60.6,57.1h0.8v0.8h-0.8zM62.8,57.6h0.8v0.8h-0.8zM66.5,57.4h0.8v0.8h-0.8zM67.8,57.0h0.8v0.8h-0.8zM71.0,57.6h0.8v0.8h-0.8zM72.9,57.9h0.8v0.8h-0.8zM76.6,57.7h0.8v0.8h-0.8zM77.3,57.4h0.8v0.8h-0.8zM78.9,57.2h0.8v0.8h-0.8zM54.8,58.6h0.8v0.8h-0.8zM57.6,58.1h0.8v0.8h-0.8zM58.3,58.8h0.8v0.8h-0.8zM63.2,58.2h0.8v0.8h-0.8zM64.9,58.0h0.8v0.8h-0.8zM65.9,58.8h0.8v0.8h-0.8zM66.7,58.8h0.8v0.8h-0.8zM68.7,58.2h0.8v0.8h-0.8zM70.1,58.9h0.8v0.8h-0.8zM76.8,59.0h0.8v0.8h-0.8zM78.7,58.5h0.8v0.8h-0.8zM80.9,58.3h0.8v0.8h-0.8zM53.7,59.5h0.8v0.8h-0.8zM55.7,59.5h0.8v0.8h-0.8zM57.5,59.6h0.8v0.8h-0.8zM59.8,59.3h0.8v0.8h-0.8zM61.0,59.4h0.8v0.8h-0.8zM61.0,59.7h0.8v0.8h-0.8zM63.5,59.9h0.8v0.8h-0.8zM64.1,59.9h0.8v0.8h-0.8zM66.9,59.2h0.8v0.8h-0.8zM70.5,59.5h0.8v0.8h-0.8zM72.2,59.1h0.8v0.8h-0.8zM74.7,60.0h0.8v0.8h-0.8zM76.0,59.7h0.8v0.8h-0.8zM79.9,59.6h0.8v0.8h-0.8zM55.4,60.3h0.8v0.8h-0.8zM60.3,60.7h0.8v0.8h-0.8zM62.9,60.7h0.8v0.8h-0.8zM63.8,60.2h0.8v0.8h-0.8zM64.4,60.5h0.8v0.8h-0.8zM68.3,61.0h0.8v0.8h-0.8zM69.2,60.0h0.8v0.8h-0.8zM73.2,60.2h0.8v0.8h-0.8zM77.8,60.0h0.8v0.8h-0.8zM79.8,60.3h0.8v0.8h-0.8zM53.6,61.5h0.8v0.8h-0.8zM54.0,61.8h0.8v0.8h-0.8zM55.8,61.5h0.8v0.8h-0.8zM56.3,61.5h0.8v0.8h-0.8zM63.6,61.3h0.8v0.8h-0.8zM68.2,61.9h0.8v0.8h-0.8zM69.6,61.5h0.8v0.8h-0.8zM70.5,61.8h0.8v0.8h-0.8zM72.8,61.6h0.8v0.8h-0.8zM76.8,61.4h0.8v0.8h-0.8zM78.1,61.8h0.8v0.8h-0.8zM80.0,61.5h0.8v0.8h-0.8zM53.0,63.0h0.8v0.8h-0.8zM54.5,62.2h0.8v0.8h-0.8zM56.3,62.2h0.8v0.8h-0.8zM64.7,62.7h0.8v0.8h-0.8zM68.3,62.6h0.8v0.8h-0.8zM75.6,62.6h0.8v0.8h-0.8zM77.0,62.4h0.8v0.8h-0.8zM53.5,63.8h0.8v0.8h-0.8zM56.9,63.8h0.8v0.8h-0.8zM59.0,63.8h0.8v0.8h-0.8zM61.5,63.9h0.8v0.8h-0.8zM62.2,63.8h0.8v0.8h-0.8zM63.4,64.0h0.8v0.8h-0.8zM64.1,63.8h0.8v0.8h-0.8zM65.5,63.9h0.8v0.8h-0.8zM68.0,63.9h0.8v0.8h-0.8zM69.5,63.7h0.8v0.8h-0.8zM70.3,63.4h0.8v0.8h-0.8zM72.6,63.3h0.8v0.8h-0.8zM75.2,63.1h0.8v0.8h-0.8zM76.6,63.7h0.8v0.8h-0.8zM53.5,64.9h0.8v0.8h-0.8zM56.8,64.8h0.8v0.8h-0.8zM60.0,64.3h0.8v0.8h-0.8zM60.6,64.8h0.8v0.8h-0.8zM61.8,64.6h0.8v0.8h-0.8zM63.9,64.1h0.8v0.8h-0.8zM64.0,65.0h0.8v0.8h-0.8zM66.7,65.0h0.8v0.8h-0.8zM67.9,64.2h0.8v0.8h-0.8zM69.8,64.7h0.8v0.8h-0.8zM72.2,64.1h0.8v0.8h-0.8zM75.6,64.3h0.8v0.8h-0.8zM77.4,65.0h0.8v0.8h-0.8zM79.5,64.5h0.8v0.8h-0.8zM59.7,65.9h0.8v0.8h-0.8zM64.4,65.1h0.8v0.8h-0.8zM66.3,65.8h0.8v0.8h-0.8zM67.2,66.0h0.8v0.8h-0.8zM69.7,65.2h0.8v0.8h-0.8zM71.0,65.9h0.8v0.8h-0.8zM72.6,65.7h0.8v0.8h-0.8zM73.5,65.2h0.8v0.8h-0.8zM74.9,65.5h0.8v0.8h-0.8zM75.2,65.1h0.8v0.8h-0.8zM76.7,65.1h0.8v0.8h-0.8zM54.1,66.4h0.8v0.8h-0.8zM57.8,67.0h0.8v0.8h-0.8zM58.4,66.6h0.8v0.8h-0.8zM60.0,66.8h0.8v0.8h-0.8zM62.4,66.4h0.8v0.8h-0.8zM64.9,66.3h0.8v0.8h-0.8zM67.3,66.4h0.8v0.8h-0.8zM69.1,66.1h0.8v0.8h-0.8zM70.0,66.4h0.8v0.8h-0.8zM71.3,66.8h0.8v0.8h-0.8zM73.6,66.4h0.8v0.8h-0.8zM56.8,67.8h0.8v0.8h-0.8zM57.9,67.7h0.8v0.8h-0.8zM62.3,67.2h0.8v0.8h-0.8zM63.3,67.8h0.8v0.8h-0.8zM64.8,67.9h0.8v0.8h-0.8zM66.5,67.1h0.8v0.8h-0.8zM70.9,67.9h0.8v0.8h-0.8zM72.3,68.0h0.8v0.8h-0.8zM76.9,67.2h0.8v0.8h-0.8zM77.2,67.5h0.8v0.8h-0.8zM78.6,67.9h0.8v0.8h-0.8zM79.7,67.4h0.8v0.8h-0.8z" fill="#a8a8a8" />
<path d="M60.6,54.7h0.8v0.8h-0.8zM55.2,56.0h0.8v0.8h-0.8zM60.5,55.7h0.8v0.8h-0.8zM63.7,55.1h0.8v0.8h-0.8zM66.0,55.1h0.8v0.8h-0.8zM67.6,55.8h0.8v0.8h-0.8zM69.5,55.6h0.8v0.8h-0.8zM54.3,56.2h0.8v0.8h-0.8zM61.9,56.1h0.8v0.8h-0.8zM62.8,56.3h0.8v0.8h-0.8zM67.5,56.3h0.8v0.8h-0.8zM70.4,56.6h0.8v0.8h-0.8zM72.0,56.5h0.8v0.8h-0.8zM56.0,57.4h0.8v0.8h-0.8zM57.1,57.8h0.8v0.8h-0.8zM59.1,57.6h0.8v0.8h-0.8zM60.8,57.2h0.8v0.8h-0.8zM62.2,57.8h0.8v0.8h-0.8zM64.0,57.6h0.8v0.8h-0.8zM66.1,57.7h0.8v0.8h-0.8zM67.7,57.1h0.8v0.8h-0.8zM71.0,57.8h0.8v0.8h-0.8zM72.6,57.4h0.8v0.8h-0.8zM73.6,57.3h0.8v0.8h-0.8zM58.3,58.1h0.8v0.8h-0.8zM60.2,59.0h0.8v0.8h-0.8zM61.2,58.7h0.8v0.8h-0.8zM69.9,58.8h0.8v0.8h-0.8zM70.9,58.6h0.8v0.8h-0.8zM71.5,58.5h0.8v0.8h-0.8zM73.0,58.8h0.8v0.8h-0.8zM56.1,59.7h0.8v0.8h-0.8zM71.2,59.4h0.8v0.8h-0.8zM72.1,59.5h0.8v0.8h-0.8zM57.3,60.8h0.8v0.8h-0.8zM59.7,60.7h0.8v0.8h-0.8zM60.0,60.3h0.8v0.8h-0.8zM61.2,61.0h0.8v0.8h-0.8zM62.8,60.9h0.8v0.8h-0.8zM63.8,60.6h0.8v0.8h-0.8zM64.8,60.2h0.8v0.8h-0.8zM65.6,60.3h0.8v0.8h-0.8zM66.6,60.7h0.8v0.8h-0.8zM67.4,60.6h0.8v0.8h-0.8zM70.8,60.7h0.8v0.8h-0.8zM71.6,60.7h0.8v0.8h-0.8zM59.1,61.6h0.8v0.8h-0.8zM60.2,61.2h0.8v0.8h-0.8zM62.4,61.9h0.8v0.8h-0.8zM64.6,61.4h0.8v0.8h-0.8zM70.4,61.3h0.8v0.8h-0.8zM71.9,61.1h0.8v0.8h-0.8zM57.5,62.1h0.8v0.8h-0.8zM59.1,62.8h0.8v0.8h-0.8zM60.6,62.9h0.8v0.8h-0.8zM64.2,62.8h0.8v0.8h-0.8zM65.4,62.7h0.8v0.8h-0.8zM66.1,62.3h0.8v0.8h-0.8zM67.1,62.8h0.8v0.8h-0.8zM68.3,62.7h0.8v0.8h-0.8z" fill="#808080" />
<path d="M91.7,50.5h0.8v0.8h-0.8zM81.7,51.1h0.8v0.8h-0.8zM82.5,52.5h0.8v0.8h-0.8zM89.0,53.5h0.8v0.8h-0.8zM86.8,54.5h0.8v0.8h-0.8zM91.2,55.7h0.8v0.8h-0.8zM89.7,56.7h0.8v0.8h-0.8zM90.2,56.3h0.8v0.8h-0.8zM83.4,57.6h0.8v0.8h-0.8zM89.1,57.3h0.8v0.8h-0.8zM84.8,58.7h0.8v0.8h-0.8zM94.9,59.0h0.8v0.8h-0.8zM87.1,60.0h0.8v0.8h-0.8zM90.5,61.2h0.8v0.8h-0.8zM81.6,62.6h0.8v0.8h-0.8zM85.5,62.2h0.8v0.8h-0.8zM94.1,62.4h0.8v0.8h-0.8z" fill="#b0b0b0" />
<path d="M23.2,49.0h0.8v0.8h-0.8zM24.4,49.0h0.8v0.8h-0.8zM26.0,49.8h0.8v0.8h-0.8zM27.4,49.8h0.8v0.8h-0.8zM29.3,49.4h0.8v0.8h-0.8zM32.1,49.3h0.8v0.8h-0.8zM34.8,49.0h0.8v0.8h-0.8zM35.2,49.5h0.8v0.8h-0.8zM37.8,49.6h0.8v0.8h-0.8zM38.9,49.3h0.8v0.8h-0.8zM39.6,49.1h0.8v0.8h-0.8zM40.9,49.5h0.8v0.8h-0.8zM41.7,49.9h0.8v0.8h-0.8zM23.2,50.3h0.8v0.8h-0.8zM26.9,50.4h0.8v0.8h-0.8zM29.3,50.7h0.8v0.8h-0.8zM30.1,50.5h0.8v0.8h-0.8zM32.1,50.6h0.8v0.8h-0.8zM35.3,50.6h0.8v0.8h-0.8zM36.9,50.1h0.8v0.8h-0.8zM38.9,50.7h0.8v0.8h-0.8zM23.1,51.6h0.8v0.8h-0.8zM24.3,51.2h0.8v0.8h-0.8zM25.9,51.8h0.8v0.8h-0.8zM26.1,52.0h0.8v0.8h-0.8zM27.9,51.6h0.8v0.8h-0.8zM29.8,51.1h0.8v0.8h-0.8zM34.6,51.1h0.8v0.8h-0.8zM35.7,51.5h0.8v0.8h-0.8zM36.6,51.9h0.8v0.8h-0.8zM38.5,51.0h0.8v0.8h-0.8zM40.6,51.3h0.8v0.8h-0.8zM24.7,53.0h0.8v0.8h-0.8zM30.3,52.7h0.8v0.8h-0.8zM31.6,52.4h0.8v0.8h-0.8zM37.8,52.9h0.8v0.8h-0.8zM41.9,52.4h0.8v0.8h-0.8zM42.5,52.9h0.8v0.8h-0.8zM24.2,53.6h0.8v0.8h-0.8zM25.9,53.7h0.8v0.8h-0.8zM29.7,53.2h0.8v0.8h-0.8zM35.0,54.0h0.8v0.8h-0.8zM40.3,54.0h0.8v0.8h-0.8zM23.4,54.7h0.8v0.8h-0.8zM24.3,55.0h0.8v0.8h-0.8zM30.8,54.3h0.8v0.8h-0.8zM31.9,54.4h0.8v0.8h-0.8zM36.2,54.7h0.8v0.8h-0.8zM40.6,54.0h0.8v0.8h-0.8zM42.3,54.6h0.8v0.8h-0.8zM23.9,55.5h0.8v0.8h-0.8zM29.2,55.9h0.8v0.8h-0.8zM33.5,55.7h0.8v0.8h-0.8zM36.1,55.6h0.8v0.8h-0.8zM37.1,55.3h0.8v0.8h-0.8zM39.1,55.0h0.8v0.8h-0.8zM40.6,55.3h0.8v0.8h-0.8zM24.4,56.6h0.8v0.8h-0.8zM25.2,56.1h0.8v0.8h-0.8zM27.2,56.9h0.8v0.8h-0.8zM28.8,56.8h0.8v0.8h-0.8zM34.5,57.0h0.8v0.8h-0.8zM36.1,56.1h0.8v0.8h-0.8zM39.0,56.2h0.8v0.8h-0.8zM40.8,56.9h0.8v0.8h-0.8zM41.5,56.6h0.8v0.8h-0.8zM24.7,57.0h0.8v0.8h-0.8zM26.9,57.3h0.8v0.8h-0.8zM30.8,58.0h0.8v0.8h-0.8zM31.0,57.8h0.8v0.8h-0.8zM35.2,57.7h0.8v0.8h-0.8zM39.6,57.6h0.8v0.8h-0.8zM40.6,57.3h0.8v0.8h-0.8zM42.5,57.8h0.8v0.8h-0.8zM23.5,58.8h0.8v0.8h-0.8zM24.9,58.8h0.8v0.8h-0.8zM25.7,58.7h0.8v0.8h-0.8zM26.6,58.9h0.8v0.8h-0.8zM27.4,58.4h0.8v0.8h-0.8zM28.3,58.6h0.8v0.8h-0.8zM31.0,59.0h0.8v0.8h-0.8zM33.1,58.2h0.8v0.8h-0.8zM34.3,58.9h0.8v0.8h-0.8zM36.9,58.9h0.8v0.8h-0.8zM39.9,58.0h0.8v0.8h-0.8zM23.5,59.8h0.8v0.8h-0.8zM24.9,59.2h0.8v0.8h-0.8zM27.4,59.2h0.8v0.8h-0.8zM32.0,59.5h0.8v0.8h-0.8zM36.8,59.7h0.8v0.8h-0.8zM37.8,59.7h0.8v0.8h-0.8zM39.2,59.9h0.8v0.8h-0.8zM40.1,59.7h0.8v0.8h-0.8zM23.9,60.5h0.8v0.8h-0.8zM24.4,60.5h0.8v0.8h-0.8zM25.5,60.7h0.8v0.8h-0.8zM30.4,60.1h0.8v0.8h-0.8zM32.5,60.1h0.8v0.8h-0.8zM34.6,60.8h0.8v0.8h-0.8zM36.2,60.1h0.8v0.8h-0.8zM38.5,60.6h0.8v0.8h-0.8zM42.2,60.1h0.8v0.8h-0.8zM23.9,61.1h0.8v0.8h-0.8zM26.0,61.3h0.8v0.8h-0.8zM26.9,61.5h0.8v0.8h-0.8zM28.8,61.6h0.8v0.8h-0.8zM30.0,61.5h0.8v0.8h-0.8zM31.7,61.8h0.8v0.8h-0.8zM33.0,61.3h0.8v0.8h-0.8zM38.4,61.2h0.8v0.8h-0.8zM39.9,62.0h0.8v0.8h-0.8zM40.8,61.5h0.8v0.8h-0.8zM42.1,61.9h0.8v0.8h-0.8zM26.6,62.9h0.8v0.8h-0.8zM29.6,63.0h0.8v0.8h-0.8zM31.2,62.4h0.8v0.8h-0.8zM32.9,62.8h0.8v0.8h-0.8zM34.3,62.6h0.8v0.8h-0.8zM35.6,62.8h0.8v0.8h-0.8zM37.2,62.2h0.8v0.8h-0.8zM38.7,62.2h0.8v0.8h-0.8zM40.6,62.6h0.8v0.8h-0.8zM42.9,63.0h0.8v0.8h-0.8zM23.7,63.7h0.8v0.8h-0.8zM25.1,63.8h0.8v0.8h-0.8zM27.1,63.5h0.8v0.8h-0.8zM28.4,63.6h0.8v0.8h-0.8zM30.4,63.6h0.8v0.8h-0.8zM31.9,63.6h0.8v0.8h-0.8zM32.5,63.4h0.8v0.8h-0.8zM33.9,63.6h0.8v0.8h-0.8zM35.3,63.1h0.8v0.8h-0.8zM36.8,63.7h0.8v0.8h-0.8zM39.6,63.3h0.8v0.8h-0.8zM24.8,64.1h0.8v0.8h-0.8zM26.0,64.6h0.8v0.8h-0.8zM29.5,64.0h0.8v0.8h-0.8zM31.0,64.9h0.8v0.8h-0.8zM32.3,64.9h0.8v0.8h-0.8zM37.2,64.2h0.8v0.8h-0.8zM38.1,64.1h0.8v0.8h-0.8zM40.9,64.3h0.8v0.8h-0.8zM41.5,64.4h0.8v0.8h-0.8zM42.1,64.7h0.8v0.8h-0.8zM24.4,66.0h0.8v0.8h-0.8zM26.6,65.8h0.8v0.8h-0.8zM27.1,65.0h0.8v0.8h-0.8zM28.3,65.1h0.8v0.8h-0.8zM29.6,65.6h0.8v0.8h-0.8zM30.9,65.4h0.8v0.8h-0.8zM31.4,65.2h0.8v0.8h-0.8zM33.5,65.2h0.8v0.8h-0.8zM35.9,65.5h0.8v0.8h-0.8zM36.1,65.2h0.8v0.8h-0.8zM41.0,65.5h0.8v0.8h-0.8zM42.2,65.8h0.8v0.8h-0.8zM23.6,66.4h0.8v0.8h-0.8zM29.8,66.1h0.8v0.8h-0.8zM40.6,66.5h0.8v0.8h-0.8zM41.5,66.3h0.8v0.8h-0.8zM25.8,67.2h0.8v0.8h-0.8zM26.7,67.3h0.8v0.8h-0.8zM28.4,67.2h0.8v0.8h-0.8zM29.6,67.4h0.8v0.8h-0.8zM31.5,68.0h0.8v0.8h-0.8zM33.3,67.8h0.8v0.8h-0.8zM38.6,67.5h0.8v0.8h-0.8zM43.0,67.9h0.8v0.8h-0.8zM24.6,68.3h0.8v0.8h-0.8zM25.8,68.8h0.8v0.8h-0.8zM30.3,68.8h0.8v0.8h-0.8zM34.1,68.6h0.8v0.8h-0.8z" fill="#a8a8a8" />
<path d="M24.7,53.8h0.8v0.8h-0.8zM28.0,53.5h0.8v0.8h-0.8zM29.3,53.9h0.8v0.8h-0.8zM32.2,53.6h0.8v0.8h-0.8zM33.5,53.4h0.8v0.8h-0.8zM23.8,54.0h0.8v0.8h-0.8zM25.4,54.7h0.8v0.8h-0.8zM26.2,54.1h0.8v0.8h-0.8zM27.5,54.8h0.8v0.8h-0.8zM28.3,54.8h0.8v0.8h-0.8zM29.6,54.9h0.8v0.8h-0.8zM30.6,54.1h0.8v0.8h-0.8zM31.3,54.9h0.8v0.8h-0.8zM33.4,54.6h0.8v0.8h-0.8zM35.9,54.3h0.8v0.8h-0.8zM38.4,54.5h0.8v0.8h-0.8zM25.0,55.3h0.8v0.8h-0.8zM25.9,55.6h0.8v0.8h-0.8zM26.3,55.8h0.8v0.8h-0.8zM28.0,55.3h0.8v0.8h-0.8zM29.9,55.3h0.8v0.8h-0.8zM30.0,55.2h0.8v0.8h-0.8zM34.2,55.9h0.8v0.8h-0.8zM38.9,56.0h0.8v0.8h-0.8zM39.4,55.7h0.8v0.8h-0.8zM40.8,56.0h0.8v0.8h-0.8zM23.8,56.2h0.8v0.8h-0.8zM24.8,56.2h0.8v0.8h-0.8zM25.5,56.5h0.8v0.8h-0.8zM28.1,56.4h0.8v0.8h-0.8zM29.3,56.9h0.8v0.8h-0.8zM30.4,56.6h0.8v0.8h-0.8zM31.2,56.2h0.8v0.8h-0.8zM32.4,56.5h0.8v0.8h-0.8zM33.4,56.8h0.8v0.8h-0.8zM34.5,56.3h0.8v0.8h-0.8zM35.2,56.7h0.8v0.8h-0.8zM36.6,56.1h0.8v0.8h-0.8zM37.6,56.7h0.8v0.8h-0.8zM38.8,56.5h0.8v0.8h-0.8zM39.2,56.0h0.8v0.8h-0.8zM41.3,56.7h0.8v0.8h-0.8zM42.6,56.9h0.8v0.8h-0.8zM24.8,57.8h0.8v0.8h-0.8zM25.7,57.8h0.8v0.8h-0.8zM26.5,57.9h0.8v0.8h-0.8zM32.1,57.4h0.8v0.8h-0.8zM34.2,58.0h0.8v0.8h-0.8zM35.8,58.0h0.8v0.8h-0.8zM36.1,57.5h0.8v0.8h-0.8zM37.1,57.2h0.8v0.8h-0.8zM38.7,58.0h0.8v0.8h-0.8zM41.7,57.6h0.8v0.8h-0.8zM42.8,57.3h0.8v0.8h-0.8zM24.9,58.1h0.8v0.8h-0.8zM25.8,58.5h0.8v0.8h-0.8zM26.9,58.2h0.8v0.8h-0.8zM29.1,58.6h0.8v0.8h-0.8zM31.4,58.6h0.8v0.8h-0.8zM32.4,58.0h0.8v0.8h-0.8zM33.9,58.5h0.8v0.8h-0.8zM34.6,58.5h0.8v0.8h-0.8zM37.7,58.5h0.8v0.8h-0.8zM38.1,58.6h0.8v0.8h-0.8zM39.6,58.5h0.8v0.8h-0.8zM40.9,58.1h0.8v0.8h-0.8zM42.3,58.4h0.8v0.8h-0.8zM24.7,59.2h0.8v0.8h-0.8zM25.3,59.8h0.8v0.8h-0.8zM26.3,59.5h0.8v0.8h-0.8zM28.0,59.8h0.8v0.8h-0.8zM28.4,59.9h0.8v0.8h-0.8zM29.3,59.9h0.8v0.8h-0.8zM30.2,59.8h0.8v0.8h-0.8zM31.3,59.6h0.8v0.8h-0.8zM32.9,59.3h0.8v0.8h-0.8zM33.6,59.6h0.8v0.8h-0.8zM34.6,59.0h0.8v0.8h-0.8zM35.0,60.0h0.8v0.8h-0.8zM37.2,59.2h0.8v0.8h-0.8zM38.7,59.8h0.8v0.8h-0.8zM39.2,59.4h0.8v0.8h-0.8zM40.9,59.9h0.8v0.8h-0.8zM41.8,59.9h0.8v0.8h-0.8zM42.4,60.0h0.8v0.8h-0.8zM24.5,60.1h0.8v0.8h-0.8zM26.0,60.2h0.8v0.8h-0.8zM26.1,60.2h0.8v0.8h-0.8zM27.6,60.5h0.8v0.8h-0.8zM28.5,60.6h0.8v0.8h-0.8zM29.5,60.7h0.8v0.8h-0.8zM30.6,60.2h0.8v0.8h-0.8zM31.8,60.6h0.8v0.8h-0.8zM32.7,60.8h0.8v0.8h-0.8zM35.5,60.1h0.8v0.8h-0.8zM36.9,60.9h0.8v0.8h-0.8zM39.6,60.7h0.8v0.8h-0.8zM41.0,60.9h0.8v0.8h-0.8zM26.7,61.2h0.8v0.8h-0.8zM27.5,61.1h0.8v0.8h-0.8zM29.3,61.7h0.8v0.8h-0.8zM30.3,61.1h0.8v0.8h-0.8zM31.3,61.1h0.8v0.8h-0.8zM32.1,61.8h0.8v0.8h-0.8zM34.9,61.5h0.8v0.8h-0.8zM36.1,61.0h0.8v0.8h-0.8zM39.2,61.3h0.8v0.8h-0.8z" fill="#6a6a6a" />
<path d="M23.7,90.8h0.8v0.8h-0.8zM25.0,90.7h0.8v0.8h-0.8zM26.9,90.9h0.8v0.8h-0.8zM27.9,91.4h0.8v0.8h-0.8zM28.4,91.3h0.8v0.8h-0.8zM30.9,90.5h0.8v0.8h-0.8zM31.8,91.1h0.8v0.8h-0.8zM32.9,91.5h0.8v0.8h-0.8zM34.0,91.4h0.8v0.8h-0.8zM35.1,91.0h0.8v0.8h-0.8zM37.4,91.1h0.8v0.8h-0.8zM39.6,90.7h0.8v0.8h-0.8zM42.8,90.6h0.8v0.8h-0.8zM24.3,92.0h0.8v0.8h-0.8zM25.6,92.2h0.8v0.8h-0.8zM28.2,92.2h0.8v0.8h-0.8zM30.2,92.4h0.8v0.8h-0.8zM31.7,92.4h0.8v0.8h-0.8zM35.4,92.4h0.8v0.8h-0.8zM36.5,92.0h0.8v0.8h-0.8zM38.4,92.2h0.8v0.8h-0.8zM39.8,92.0h0.8v0.8h-0.8zM41.0,92.1h0.8v0.8h-0.8zM23.0,93.1h0.8v0.8h-0.8zM24.4,93.3h0.8v0.8h-0.8zM26.4,93.2h0.8v0.8h-0.8zM27.7,92.5h0.8v0.8h-0.8zM28.4,92.9h0.8v0.8h-0.8zM31.9,92.7h0.8v0.8h-0.8zM33.2,93.1h0.8v0.8h-0.8zM37.3,92.9h0.8v0.8h-0.8zM39.5,93.1h0.8v0.8h-0.8zM23.7,94.5h0.8v0.8h-0.8zM24.5,93.6h0.8v0.8h-0.8zM25.4,94.1h0.8v0.8h-0.8zM26.7,93.8h0.8v0.8h-0.8zM28.5,94.4h0.8v0.8h-0.8zM30.0,93.8h0.8v0.8h-0.8zM34.1,94.2h0.8v0.8h-0.8zM35.2,94.4h0.8v0.8h-0.8zM37.8,94.4h0.8v0.8h-0.8zM41.9,94.3h0.8v0.8h-0.8zM23.8,94.6h0.8v0.8h-0.8zM24.7,94.5h0.8v0.8h-0.8zM28.7,94.7h0.8v0.8h-0.8zM34.7,94.6h0.8v0.8h-0.8zM35.1,95.2h0.8v0.8h-0.8zM36.8,95.4h0.8v0.8h-0.8zM40.0,94.5h0.8v0.8h-0.8zM42.1,94.5h0.8v0.8h-0.8zM23.2,96.2h0.8v0.8h-0.8zM24.7,96.3h0.8v0.8h-0.8zM25.8,96.2h0.8v0.8h-0.8zM28.8,96.1h0.8v0.8h-0.8zM29.4,95.6h0.8v0.8h-0.8zM33.5,96.3h0.8v0.8h-0.8zM34.1,96.3h0.8v0.8h-0.8zM35.4,96.5h0.8v0.8h-0.8zM38.5,96.5h0.8v0.8h-0.8zM39.3,96.0h0.8v0.8h-0.8zM41.0,96.3h0.8v0.8h-0.8zM42.0,96.2h0.8v0.8h-0.8zM23.1,96.8h0.8v0.8h-0.8zM24.9,96.5h0.8v0.8h-0.8zM25.6,97.1h0.8v0.8h-0.8zM27.5,97.0h0.8v0.8h-0.8zM28.9,97.3h0.8v0.8h-0.8zM34.3,96.7h0.8v0.8h-0.8zM36.8,97.1h0.8v0.8h-0.8zM37.5,97.0h0.8v0.8h-0.8zM38.8,96.7h0.8v0.8h-0.8zM42.4,96.9h0.8v0.8h-0.8zM27.0,97.7h0.8v0.8h-0.8zM28.5,98.0h0.8v0.8h-0.8zM30.1,98.4h0.8v0.8h-0.8zM31.4,97.7h0.8v0.8h-0.8zM32.8,98.0h0.8v0.8h-0.8zM33.7,98.0h0.8v0.8h-0.8zM34.1,97.6h0.8v0.8h-0.8zM37.6,98.2h0.8v0.8h-0.8zM40.6,98.3h0.8v0.8h-0.8zM41.5,98.4h0.8v0.8h-0.8zM42.8,98.0h0.8v0.8h-0.8zM23.9,99.4h0.8v0.8h-0.8zM25.7,99.3h0.8v0.8h-0.8zM28.2,98.7h0.8v0.8h-0.8zM29.7,99.2h0.8v0.8h-0.8zM31.7,98.5h0.8v0.8h-0.8zM33.6,99.4h0.8v0.8h-0.8zM37.0,98.5h0.8v0.8h-0.8zM41.6,98.6h0.8v0.8h-0.8zM24.8,99.5h0.8v0.8h-0.8zM25.9,100.4h0.8v0.8h-0.8zM26.6,99.6h0.8v0.8h-0.8zM27.1,99.8h0.8v0.8h-0.8zM30.3,99.9h0.8v0.8h-0.8zM31.5,100.2h0.8v0.8h-0.8zM32.9,99.6h0.8v0.8h-0.8zM33.7,99.7h0.8v0.8h-0.8zM35.0,99.7h0.8v0.8h-0.8zM35.7,100.4h0.8v0.8h-0.8zM36.0,99.6h0.8v0.8h-0.8zM37.4,100.3h0.8v0.8h-0.8zM38.6,100.4h0.8v0.8h-0.8zM39.9,100.3h0.8v0.8h-0.8zM42.5,99.5h0.8v0.8h-0.8zM26.0,100.8h0.8v0.8h-0.8zM29.1,101.5h0.8v0.8h-0.8zM30.2,100.6h0.8v0.8h-0.8zM31.6,101.2h0.8v0.8h-0.8zM32.6,101.2h0.8v0.8h-0.8zM33.9,100.8h0.8v0.8h-0.8zM34.0,100.6h0.8v0.8h-0.8zM36.6,100.6h0.8v0.8h-0.8zM37.6,101.1h0.8v0.8h-0.8zM38.8,100.6h0.8v0.8h-0.8zM39.6,100.6h0.8v0.8h-0.8zM23.4,101.8h0.8v0.8h-0.8zM24.8,101.7h0.8v0.8h-0.8zM25.4,101.6h0.8v0.8h-0.8zM26.5,102.0h0.8v0.8h-0.8zM27.7,101.8h0.8v0.8h-0.8zM30.6,101.7h0.8v0.8h-0.8zM31.4,101.5h0.8v0.8h-0.8zM34.0,101.6h0.8v0.8h-0.8zM34.4,101.5h0.8v0.8h-0.8zM35.9,102.1h0.8v0.8h-0.8zM38.2,101.7h0.8v0.8h-0.8zM39.8,101.9h0.8v0.8h-0.8zM40.2,102.4h0.8v0.8h-0.8zM41.1,101.7h0.8v0.8h-0.8zM23.9,103.0h0.8v0.8h-0.8zM24.0,102.8h0.8v0.8h-0.8zM25.7,102.8h0.8v0.8h-0.8zM26.6,103.4h0.8v0.8h-0.8zM28.3,102.8h0.8v0.8h-0.8zM36.2,102.8h0.8v0.8h-0.8zM37.7,102.9h0.8v0.8h-0.8zM38.7,103.0h0.8v0.8h-0.8zM39.0,103.3h0.8v0.8h-0.8zM40.5,102.8h0.8v0.8h-0.8zM41.4,103.3h0.8v0.8h-0.8zM23.7,104.1h0.8v0.8h-0.8zM25.1,104.1h0.8v0.8h-0.8zM26.3,104.2h0.8v0.8h-0.8zM29.6,103.6h0.8v0.8h-0.8zM33.5,103.9h0.8v0.8h-0.8zM34.0,103.8h0.8v0.8h-0.8zM35.9,103.8h0.8v0.8h-0.8zM38.0,104.2h0.8v0.8h-0.8zM38.1,104.1h0.8v0.8h-0.8zM40.4,104.0h0.8v0.8h-0.8zM41.8,104.3h0.8v0.8h-0.8zM42.6,103.9h0.8v0.8h-0.8zM23.5,105.5h0.8v0.8h-0.8zM25.9,105.0h0.8v0.8h-0.8zM26.4,105.5h0.8v0.8h-0.8zM28.0,104.9h0.8v0.8h-0.8zM30.8,105.3h0.8v0.8h-0.8zM31.1,104.8h0.8v0.8h-0.8zM33.1,104.6h0.8v0.8h-0.8zM34.3,105.1h0.8v0.8h-0.8zM37.4,105.1h0.8v0.8h-0.8zM38.6,104.6h0.8v0.8h-0.8zM39.1,104.7h0.8v0.8h-0.8zM40.6,104.5h0.8v0.8h-0.8zM41.1,104.8h0.8v0.8h-0.8zM42.5,105.2h0.8v0.8h-0.8zM23.9,106.0h0.8v0.8h-0.8zM24.5,106.5h0.8v0.8h-0.8zM25.1,105.7h0.8v0.8h-0.8zM26.6,106.4h0.8v0.8h-0.8zM28.2,106.4h0.8v0.8h-0.8zM30.3,106.2h0.8v0.8h-0.8zM31.3,106.4h0.8v0.8h-0.8zM32.7,106.0h0.8v0.8h-0.8zM33.9,106.4h0.8v0.8h-0.8zM35.0,105.9h0.8v0.8h-0.8zM36.6,105.8h0.8v0.8h-0.8zM38.4,106.1h0.8v0.8h-0.8zM39.2,106.4h0.8v0.8h-0.8zM23.1,107.5h0.8v0.8h-0.8zM24.5,106.7h0.8v0.8h-0.8zM25.4,106.5h0.8v0.8h-0.8zM26.3,107.5h0.8v0.8h-0.8zM29.6,107.2h0.8v0.8h-0.8zM30.9,107.0h0.8v0.8h-0.8zM31.4,107.2h0.8v0.8h-0.8zM32.5,107.1h0.8v0.8h-0.8zM34.9,107.0h0.8v0.8h-0.8zM36.2,106.8h0.8v0.8h-0.8zM38.4,107.3h0.8v0.8h-0.8zM40.5,106.7h0.8v0.8h-0.8zM24.8,107.8h0.8v0.8h-0.8zM25.9,107.9h0.8v0.8h-0.8zM34.7,107.9h0.8v0.8h-0.8zM37.2,107.9h0.8v0.8h-0.8zM38.3,107.6h0.8v0.8h-0.8zM39.4,107.8h0.8v0.8h-0.8zM41.1,107.8h0.8v0.8h-0.8z" fill="#909090" />
<path d="M60.5,90.1h0.8v0.8h-0.8zM66.1,90.0h0.8v0.8h-0.8zM70.4,91.0h0.8v0.8h-0.8zM74.2,90.6h0.8v0.8h-0.8zM78.9,90.3h0.8v0.8h-0.8zM82.9,90.9h0.8v0.8h-0.8zM60.9,91.8h0.8v0.8h-0.8zM62.4,91.1h0.8v0.8h-0.8zM66.4,91.6h0.8v0.8h-0.8zM69.1,91.9h0.8v0.8h-0.8zM71.0,91.1h0.8v0.8h-0.8zM74.2,91.9h0.8v0.8h-0.8zM74.6,91.9h0.8v0.8h-0.8zM76.0,91.3h0.8v0.8h-0.8zM82.7,91.1h0.8v0.8h-0.8zM60.1,92.8h0.8v0.8h-0.8zM61.8,92.7h0.8v0.8h-0.8zM67.0,92.4h0.8v0.8h-0.8zM71.2,92.3h0.8v0.8h-0.8zM71.6,92.0h0.8v0.8h-0.8zM60.1,93.5h0.8v0.8h-0.8zM61.5,93.8h0.8v0.8h-0.8zM62.6,93.9h0.8v0.8h-0.8zM68.6,93.0h0.8v0.8h-0.8zM75.1,93.1h0.8v0.8h-0.8zM76.1,93.4h0.8v0.8h-0.8zM80.9,93.9h0.8v0.8h-0.8zM60.3,94.7h0.8v0.8h-0.8zM67.9,95.0h0.8v0.8h-0.8zM70.3,94.8h0.8v0.8h-0.8zM74.4,94.5h0.8v0.8h-0.8zM76.4,94.1h0.8v0.8h-0.8zM80.3,94.8h0.8v0.8h-0.8zM82.4,94.6h0.8v0.8h-0.8zM59.8,95.8h0.8v0.8h-0.8zM63.4,95.3h0.8v0.8h-0.8zM65.8,95.1h0.8v0.8h-0.8zM67.7,95.4h0.8v0.8h-0.8zM68.7,95.3h0.8v0.8h-0.8zM71.5,95.5h0.8v0.8h-0.8zM74.5,95.5h0.8v0.8h-0.8zM81.2,95.3h0.8v0.8h-0.8zM82.3,95.0h0.8v0.8h-0.8zM83.2,95.8h0.8v0.8h-0.8zM60.4,96.3h0.8v0.8h-0.8zM64.4,96.2h0.8v0.8h-0.8zM65.6,96.3h0.8v0.8h-0.8zM67.0,96.3h0.8v0.8h-0.8zM67.6,96.9h0.8v0.8h-0.8zM68.5,96.3h0.8v0.8h-0.8zM74.1,96.3h0.8v0.8h-0.8zM75.1,96.3h0.8v0.8h-0.8zM82.1,96.9h0.8v0.8h-0.8zM69.3,97.9h0.8v0.8h-0.8zM74.5,97.2h0.8v0.8h-0.8zM77.6,97.4h0.8v0.8h-0.8zM82.2,97.1h0.8v0.8h-0.8zM60.5,98.9h0.8v0.8h-0.8zM62.7,99.0h0.8v0.8h-0.8zM79.4,98.5h0.8v0.8h-0.8zM83.2,98.1h0.8v0.8h-0.8zM63.0,99.6h0.8v0.8h-0.8zM65.9,99.7h0.8v0.8h-0.8zM75.7,99.0h0.8v0.8h-0.8zM76.6,99.4h0.8v0.8h-0.8zM80.9,99.2h0.8v0.8h-0.8zM83.5,99.9h0.8v0.8h-0.8zM59.8,100.2h0.8v0.8h-0.8zM60.7,100.4h0.8v0.8h-0.8zM69.4,100.0h0.8v0.8h-0.8zM72.6,100.6h0.8v0.8h-0.8zM77.3,100.4h0.8v0.8h-0.8zM77.9,100.2h0.8v0.8h-0.8zM79.2,100.7h0.8v0.8h-0.8zM61.0,101.5h0.8v0.8h-0.8zM62.7,101.5h0.8v0.8h-0.8zM68.2,101.5h0.8v0.8h-0.8zM69.1,101.3h0.8v0.8h-0.8zM71.3,101.3h0.8v0.8h-0.8zM72.0,101.8h0.8v0.8h-0.8zM76.5,101.9h0.8v0.8h-0.8zM77.0,101.1h0.8v0.8h-0.8zM79.6,101.6h0.8v0.8h-0.8zM81.3,101.3h0.8v0.8h-0.8zM82.0,101.1h0.8v0.8h-0.8zM83.3,101.5h0.8v0.8h-0.8zM69.3,102.7h0.8v0.8h-0.8zM71.6,102.9h0.8v0.8h-0.8zM75.5,102.7h0.8v0.8h-0.8zM76.7,102.1h0.8v0.8h-0.8zM83.0,102.7h0.8v0.8h-0.8zM60.2,103.8h0.8v0.8h-0.8zM67.5,103.1h0.8v0.8h-0.8zM71.5,103.3h0.8v0.8h-0.8zM75.2,103.8h0.8v0.8h-0.8zM77.3,103.5h0.8v0.8h-0.8zM78.4,103.7h0.8v0.8h-0.8zM83.3,103.9h0.8v0.8h-0.8zM61.6,104.1h0.8v0.8h-0.8zM63.6,104.0h0.8v0.8h-0.8zM68.6,104.5h0.8v0.8h-0.8zM71.4,104.4h0.8v0.8h-0.8zM74.1,104.7h0.8v0.8h-0.8zM78.2,104.4h0.8v0.8h-0.8zM78.8,104.6h0.8v0.8h-0.8zM81.2,104.6h0.8v0.8h-0.8zM61.7,105.2h0.8v0.8h-0.8zM64.6,105.3h0.8v0.8h-0.8zM65.8,105.2h0.8v0.8h-0.8zM69.4,105.7h0.8v0.8h-0.8zM71.3,105.8h0.8v0.8h-0.8zM72.4,105.4h0.8v0.8h-0.8zM73.9,105.8h0.8v0.8h-0.8zM75.3,105.5h0.8v0.8h-0.8zM76.1,105.4h0.8v0.8h-0.8zM83.1,105.2h0.8v0.8h-0.8zM64.5,106.3h0.8v0.8h-0.8zM64.9,107.0h0.8v0.8h-0.8zM66.3,106.7h0.8v0.8h-0.8zM67.4,106.4h0.8v0.8h-0.8zM67.9,107.0h0.8v0.8h-0.8zM71.4,106.8h0.8v0.8h-0.8zM76.5,106.6h0.8v0.8h-0.8zM76.5,106.4h0.8v0.8h-0.8zM78.1,106.7h0.8v0.8h-0.8zM64.6,107.6h0.8v0.8h-0.8zM66.3,107.7h0.8v0.8h-0.8zM67.2,107.8h0.8v0.8h-0.8zM74.2,107.8h0.8v0.8h-0.8zM77.3,107.9h0.8v0.8h-0.8zM78.4,107.8h0.8v0.8h-0.8zM80.1,107.6h0.8v0.8h-0.8z" fill="#a0a0a0" />
<path d="M25.3,69.1h0.8v0.8h-0.8zM26.4,69.4h0.8v0.8h-0.8zM36.2,69.4h0.8v0.8h-0.8zM40.2,69.2h0.8v0.8h-0.8zM30.5,70.7h0.8v0.8h-0.8zM34.0,70.6h0.8v0.8h-0.8zM30.9,71.1h0.8v0.8h-0.8zM33.4,71.5h0.8v0.8h-0.8zM39.0,71.2h0.8v0.8h-0.8zM25.1,72.5h0.8v0.8h-0.8zM26.2,73.3h0.8v0.8h-0.8zM33.1,73.7h0.8v0.8h-0.8zM34.2,73.2h0.8v0.8h-0.8zM30.3,74.9h0.8v0.8h-0.8zM33.4,74.6h0.8v0.8h-0.8zM34.2,75.0h0.8v0.8h-0.8zM24.1,75.3h0.8v0.8h-0.8zM34.9,75.4h0.8v0.8h-0.8zM35.6,75.8h0.8v0.8h-0.8zM39.5,75.9h0.8v0.8h-0.8zM28.0,76.5h0.8v0.8h-0.8zM29.6,77.1h0.8v0.8h-0.8zM34.9,77.1h0.8v0.8h-0.8zM38.0,77.8h0.8v0.8h-0.8zM37.4,78.3h0.8v0.8h-0.8zM40.2,78.2h0.8v0.8h-0.8zM42.8,78.8h0.8v0.8h-0.8zM33.4,79.5h0.8v0.8h-0.8zM34.7,79.3h0.8v0.8h-0.8zM35.9,79.8h0.8v0.8h-0.8zM25.5,80.2h0.8v0.8h-0.8zM30.6,80.9h0.8v0.8h-0.8zM40.2,80.9h0.8v0.8h-0.8zM24.5,81.7h0.8v0.8h-0.8zM38.2,81.1h0.8v0.8h-0.8zM40.1,81.4h0.8v0.8h-0.8zM29.3,82.4h0.8v0.8h-0.8zM29.4,83.2h0.8v0.8h-0.8zM35.8,83.9h0.8v0.8h-0.8zM40.0,83.5h0.8v0.8h-0.8zM42.7,83.7h0.8v0.8h-0.8zM27.7,84.0h0.8v0.8h-0.8zM30.0,84.4h0.8v0.8h-0.8zM32.1,84.8h0.8v0.8h-0.8zM37.2,84.9h0.8v0.8h-0.8zM42.5,84.2h0.8v0.8h-0.8zM43.7,84.4h0.8v0.8h-0.8zM29.3,85.2h0.8v0.8h-0.8zM30.4,85.4h0.8v0.8h-0.8zM35.0,85.8h0.8v0.8h-0.8zM25.7,86.5h0.8v0.8h-0.8zM26.9,86.5h0.8v0.8h-0.8zM42.2,86.4h0.8v0.8h-0.8zM27.2,87.6h0.8v0.8h-0.8zM28.9,87.2h0.8v0.8h-0.8zM30.7,87.7h0.8v0.8h-0.8zM31.8,87.4h0.8v0.8h-0.8zM32.8,87.6h0.8v0.8h-0.8zM35.4,87.2h0.8v0.8h-0.8zM37.9,87.1h0.8v0.8h-0.8zM24.1,88.3h0.8v0.8h-0.8zM27.6,88.7h0.8v0.8h-0.8zM28.5,88.3h0.8v0.8h-0.8zM39.0,89.0h0.8v0.8h-0.8zM43.9,88.7h0.8v0.8h-0.8zM26.9,89.8h0.8v0.8h-0.8zM31.1,89.5h0.8v0.8h-0.8zM35.3,89.3h0.8v0.8h-0.8zM37.6,89.6h0.8v0.8h-0.8zM44.8,89.8h0.8v0.8h-0.8zM26.0,90.4h0.8v0.8h-0.8zM35.8,90.6h0.8v0.8h-0.8zM39.0,90.8h0.8v0.8h-0.8zM45.9,91.0h0.8v0.8h-0.8zM46.8,91.0h0.8v0.8h-0.8zM27.9,92.0h0.8v0.8h-0.8zM41.4,91.6h0.8v0.8h-0.8zM26.7,92.3h0.8v0.8h-0.8zM27.8,92.3h0.8v0.8h-0.8zM42.0,92.7h0.8v0.8h-0.8zM44.5,92.4h0.8v0.8h-0.8zM48.6,92.8h0.8v0.8h-0.8zM35.8,93.8h0.8v0.8h-0.8zM38.5,93.0h0.8v0.8h-0.8zM45.0,93.5h0.8v0.8h-0.8zM52.8,93.1h0.8v0.8h-0.8zM53.1,93.7h0.8v0.8h-0.8zM54.7,93.4h0.8v0.8h-0.8zM39.0,94.8h0.8v0.8h-0.8zM40.3,94.7h0.8v0.8h-0.8zM50.7,94.1h0.8v0.8h-0.8zM53.1,94.7h0.8v0.8h-0.8zM37.9,95.5h0.8v0.8h-0.8zM41.8,95.3h0.8v0.8h-0.8zM53.9,95.0h0.8v0.8h-0.8zM35.6,96.1h0.8v0.8h-0.8zM37.4,96.4h0.8v0.8h-0.8zM38.2,96.2h0.8v0.8h-0.8zM40.5,96.6h0.8v0.8h-0.8zM41.2,96.9h0.8v0.8h-0.8zM44.0,96.7h0.8v0.8h-0.8zM45.5,97.0h0.8v0.8h-0.8zM40.8,97.1h0.8v0.8h-0.8zM36.3,98.2h0.8v0.8h-0.8zM38.8,98.6h0.8v0.8h-0.8zM56.0,98.2h0.8v0.8h-0.8zM47.9,99.5h0.8v0.8h-0.8zM53.0,99.1h0.8v0.8h-0.8zM37.2,100.0h0.8v0.8h-0.8zM43.3,100.3h0.8v0.8h-0.8zM50.5,100.2h0.8v0.8h-0.8zM56.2,100.3h0.8v0.8h-0.8zM43.0,101.6h0.8v0.8h-0.8zM48.6,101.8h0.8v0.8h-0.8zM51.7,101.7h0.8v0.8h-0.8zM58.0,101.1h0.8v0.8h-0.8zM43.6,102.0h0.8v0.8h-0.8zM49.8,102.2h0.8v0.8h-0.8zM50.6,103.0h0.8v0.8h-0.8zM40.4,103.0h0.8v0.8h-0.8zM41.3,103.4h0.8v0.8h-0.8zM47.2,103.1h0.8v0.8h-0.8zM49.6,103.9h0.8v0.8h-0.8zM56.2,103.2h0.8v0.8h-0.8zM41.2,104.4h0.8v0.8h-0.8zM49.5,104.4h0.8v0.8h-0.8zM50.6,104.1h0.8v0.8h-0.8zM43.4,105.2h0.8v0.8h-0.8zM47.8,105.8h0.8v0.8h-0.8zM50.8,105.1h0.8v0.8h-0.8zM51.6,106.3h0.8v0.8h-0.8zM53.8,106.5h0.8v0.8h-0.8zM45.9,107.7h0.8v0.8h-0.8zM53.4,107.0h0.8v0.8h-0.8z" fill="#b0b0b0" />
<path d="M33.0,60.5 32.0,60.7 31.0,60.8 30.0,60.8 29.0,60.8 28.0,60.7 27.0,60.6 26.0,60.5 25.0,60.5 24.5,60.5 23.5,60.4 22.5,60.0 22.0,59.5 21.8,59.0 21.6,58.0 21.8,57.0 22.0,56.5 22.5,56.0 23.2,55.5 24.0,55.1 24.5,55.0 25.5,54.8 26.5,54.7 27.5,54.6 28.1,54.5 29.0,54.4 30.0,54.3 31.0,54.3 32.0,54.3 33.0,54.3 34.0,54.3 35.0,54.3 36.0,54.4 37.0,54.4 37.5,54.5 38.5,54.9 39.0,55.1 39.8,55.5 40.5,55.8 41.0,56.0 41.9,56.5 42.3,57.0 42.4,58.0 42.0,58.6 41.4,59.0 40.5,59.3 39.5,59.4 39.0,59.5 38.0,59.7 37.0,59.9 36.4,60.0 35.5,60.1 34.5,60.3 33.5,60.4 33.0,60.5Z M31.5,59.5 30.5,59.7 29.5,59.7 28.5,59.7 27.5,59.5 27.0,59.4 26.0,59.3 25.0,59.1 24.5,58.9 24.0,58.5 23.7,57.5 24.0,56.7 24.5,56.3 25.5,56.1 26.5,56.0 27.0,56.0 28.0,55.8 29.0,55.6 29.5,55.5 30.5,55.4 31.5,55.4 32.5,55.5 33.0,55.5 34.0,55.6 35.0,55.8 36.0,55.9 36.8,56.0 37.5,56.3 38.0,56.6 38.5,57.5 38.0,58.0 37.0,58.4 36.5,58.5 35.5,58.6 34.5,58.8 33.9,59.0 33.0,59.2 32.0,59.4 31.5,59.5Z" fill="none" stroke="#555" stroke-width="0.7" stroke-linejoin="round" clip-path="url(#cA1)" />
<path d="M23.0,53.5 C24.2,53.3 27.7,52.8 30.0,52.5 C32.3,52.2 34.8,51.8 37.0,51.5 C39.2,51.2 42.0,51.1 43.0,51.0" fill="none" stroke="#777" stroke-width="0.7" stroke-linejoin="round" />
<path d="M23.0,64.0 C24.2,63.9 27.7,63.4 30.0,63.5 C32.3,63.6 34.8,64.1 37.0,64.5 C39.2,64.9 42.0,65.8 43.0,66.0" fill="none" stroke="#888" stroke-width="0.7" stroke-linejoin="round" />
<path d="M72.0,107.5 71.0,107.8 70.0,107.8 69.0,107.7 68.5,107.5 67.5,107.2 66.8,107.0 66.0,106.8 65.1,106.5 64.5,106.3 63.9,106.0 63.0,105.6 62.5,105.3 62.0,105.0 61.3,104.5 60.8,104.0 60.4,103.5 60.0,102.9 59.5,102.0 59.3,101.5 59.3,100.5 59.5,99.5 59.6,99.0 60.0,98.2 60.4,97.5 61.0,97.0 61.5,96.7 62.0,96.4 62.7,96.0 63.5,95.5 64.0,95.2 64.5,94.9 65.3,94.5 66.0,94.2 66.5,94.0 67.5,93.7 68.3,93.5 69.0,93.4 70.0,93.3 71.0,93.3 72.0,93.5 72.5,93.5 73.5,93.7 74.5,93.7 75.5,93.8 76.4,94.0 77.0,94.2 77.8,94.5 78.5,94.8 79.0,95.0 80.0,95.3 80.5,95.5 81.3,96.0 81.8,96.5 82.1,97.0 82.5,97.8 82.8,98.5 83.1,99.0 83.3,100.0 83.0,101.0 82.7,101.5 82.5,102.0 82.1,103.0 81.9,103.5 81.5,104.1 81.0,104.6 80.5,105.1 80.0,105.5 79.3,106.0 78.6,106.5 78.0,106.8 77.1,107.0 76.8,107.0 76.0,106.9 75.0,106.9 74.0,107.0 73.5,107.1 72.5,107.4 72.0,107.5Z" fill="none" stroke="#444" stroke-width="1.1" stroke-linejoin="round" clip-path="url(#cA1)" />
<path d="M71.5,106.0 70.5,106.1 69.7,106.0 69.0,105.7 68.5,105.5 67.5,105.1 66.9,105.0 66.0,104.8 65.1,104.5 64.5,104.1 64.0,103.8 63.5,103.3 63.0,102.8 62.5,102.0 62.4,101.5 62.5,100.6 62.7,100.0 63.0,99.2 63.3,98.5 63.6,98.0 64.1,97.5 64.5,97.0 65.1,96.5 65.9,96.0 66.5,95.8 67.5,95.6 68.5,95.5 69.0,95.5 70.0,95.3 71.0,95.1 72.0,95.1 73.0,95.1 74.0,95.1 75.0,95.2 76.0,95.5 76.5,95.8 77.0,96.2 77.5,96.6 78.0,97.0 78.8,97.5 79.4,98.0 79.8,98.5 80.1,99.0 80.2,100.0 80.0,100.8 79.7,101.5 79.5,102.0 79.0,102.8 78.5,103.3 78.0,103.8 77.5,104.3 77.0,104.7 76.5,105.1 75.5,105.4 75.0,105.5 74.0,105.6 73.0,105.7 72.0,105.9 71.5,106.0Z M75.5,104.0 74.5,104.3 73.5,104.3 72.5,104.2 71.5,104.1 70.9,104.0 70.1,103.5 69.6,103.0 69.0,102.5 68.5,102.3 67.5,102.1 67.0,102.0 66.1,101.5 65.8,101.0 65.8,100.0 66.0,99.3 66.5,98.5 66.9,98.0 67.5,97.6 68.0,97.4 69.0,97.1 69.5,97.0 70.5,96.7 71.5,96.6 72.5,96.5 73.5,96.6 74.5,96.8 75.0,97.1 75.6,97.5 76.2,98.0 76.9,98.5 77.5,99.0 77.9,99.5 78.0,100.0 78.0,100.5 77.6,101.5 77.2,102.0 76.8,102.5 76.5,103.0 76.0,103.6 75.5,104.0Z" fill="none" stroke="#666" stroke-width="0.8" stroke-linejoin="round" clip-path="url(#cA1)" />
<path d="M21.0,94.4 21.5,94.0 22.0,93.5 22.5,93.0 23.1,92.5 23.7,92.0 24.5,91.5 25.0,91.3 25.7,91.0 26.5,90.8 27.5,90.9 28.1,91.0 29.0,91.2 30.0,91.4 30.5,91.5 31.5,91.6 32.5,91.8 33.5,91.9 34.0,92.0 35.0,92.3 35.6,92.5 36.5,92.8 37.0,93.0 38.0,93.3 39.0,93.5 39.5,93.5 40.5,93.7 41.5,94.0 42.0,94.2 42.9,94.5 43.5,94.7 44.5,95.0 45.0,95.1 46.0,95.3 46.9,95.5 47.5,95.7 48.2,96.0 49.0,96.4 49.5,96.7 50.0,97.0 51.0,97.5 51.5,97.7 52.2,98.0 53.0,98.3 53.5,98.5 54.5,99.0 55.0,99.3 55.5,99.5 56.4,100.0 57.0,100.3 57.6,100.5 58.5,101.0 59.0,101.4 59.4,102.0 59.0,103.0 58.5,103.4 58.0,103.7 57.0,103.9 56.4,104.0 55.5,104.1 54.6,104.0 54.0,103.9 53.0,103.6 52.5,103.4 51.8,103.0 51.0,102.6 50.5,102.5 49.8,102.5 49.0,102.7 48.0,103.0 47.5,103.1 46.5,103.4 46.0,103.5 45.0,103.6 44.5,103.5 43.5,103.2 42.5,103.3 42.0,103.7 41.5,104.4 41.2,105.0 41.0,105.5 40.6,106.5 40.5,107.0 40.0,107.9 39.9,108.0 M22.1,108.0 21.5,107.7 21.0,107.3 21.0,107.3 M21.0,96.7 21.5,96.3 22.0,95.9 22.5,95.3 23.0,94.7 23.5,94.1 24.0,93.5 24.5,93.1 25.0,92.7 25.5,92.5 26.5,92.3 27.5,92.4 28.0,92.5 29.0,92.8 30.0,92.9 30.5,93.0 31.5,93.0 32.5,93.0 33.5,93.0 34.5,93.2 35.2,93.5 36.0,93.9 36.5,94.3 37.0,94.6 38.0,94.9 39.0,94.9 40.0,94.9 40.5,95.1 41.4,95.5 42.0,95.9 42.5,96.1 43.5,96.2 44.5,96.2 45.5,96.1 46.5,96.2 47.3,96.5 48.0,96.9 48.5,97.3 49.0,97.7 49.5,98.2 50.0,98.6 50.5,99.4 50.5,99.5 49.9,100.0 49.3,100.5 48.8,101.0 48.2,101.5 47.5,102.0 47.0,102.2 46.0,102.4 45.0,102.2 44.5,102.0 43.5,101.6 43.0,101.4 42.0,101.4 41.2,101.5 40.5,102.0 40.2,102.5 40.0,103.5 39.9,104.0 39.7,105.0 39.5,105.8 39.3,106.5 39.0,107.0 38.5,107.6 37.8,108.0 37.8,108.0 M26.0,108.0 25.5,107.6 25.0,107.4 24.0,107.1 23.5,107.0 22.5,106.6 22.0,106.3 21.5,105.7 21.0,105.0 21.0,104.9 M21.0,98.6 21.5,98.2 22.0,97.8 22.6,97.5 23.4,97.0 24.0,96.5 24.5,96.0 24.9,95.5 25.3,95.0 25.9,94.5 26.5,94.3 27.5,94.3 28.5,94.4 29.5,94.5 30.0,94.5 31.0,94.6 32.0,94.5 33.0,94.5 34.0,94.8 34.5,95.2 35.0,95.7 35.5,96.4 36.0,97.0 36.5,97.4 37.0,97.5 38.0,97.6 39.0,97.6 40.0,98.0 40.3,98.5 40.0,99.1 39.5,99.5 39.0,100.0 38.5,100.6 38.1,101.5 37.9,102.0 37.8,103.0 37.8,104.0 37.6,105.0 37.3,105.5 36.7,106.0 36.0,106.3 35.3,106.5 34.5,106.6 33.5,106.7 32.5,106.9 31.7,107.0 31.0,107.0 30.0,107.0 29.0,107.1 28.0,107.2 27.0,107.0 26.5,106.8 25.9,106.5 25.0,106.2 24.5,106.0 23.5,105.6 23.0,105.1 22.7,104.5 22.5,103.9 22.3,103.0 22.0,102.3 21.5,101.5 21.1,101.0 21.0,100.9 M46.5,98.6 45.5,98.5 46.0,97.8 46.6,98.0 46.5,98.6Z M28.5,105.6 27.5,105.7 26.5,105.5 26.0,105.4 25.0,105.0 24.5,104.6 24.1,104.0 23.9,103.5 23.7,102.5 23.5,101.9 23.0,101.0 22.7,100.5 22.7,99.5 23.2,99.0 24.0,98.6 24.5,98.3 25.0,97.9 25.5,97.4 26.0,96.7 26.5,96.2 27.0,95.9 28.0,95.7 29.0,95.7 30.0,95.8 31.0,95.9 31.5,96.1 32.5,96.3 33.0,96.6 33.5,97.1 34.0,98.0 34.2,98.5 34.5,99.2 35.0,99.8 35.5,100.1 36.0,100.7 36.2,101.5 36.1,102.5 36.0,103.0 35.5,103.8 35.0,104.1 34.0,104.3 33.0,104.4 32.0,104.5 31.0,104.5 30.5,104.6 29.8,105.0 29.0,105.4 28.5,105.6Z" fill="none" stroke="#777" stroke-width="0.65" stroke-linejoin="round" clip-path="url(#cA1)" />
<line x1="43" y1="55.5" x2="52.5" y2="56" stroke="#777" stroke-width="0.8" stroke-dasharray="1.2,0.8"/>
<path d="M25.5,69.0 C25.8,69.8 26.9,72.3 27.0,74.0 C27.1,75.7 25.8,77.3 26.0,79.0 C26.2,80.7 27.8,82.2 28.0,84.0 C28.2,85.8 27.6,89.0 27.5,90.0" fill="none" stroke="#888" stroke-width="0.7" stroke-linejoin="round" />
<path d="M30.0,69.0 C30.3,69.8 31.8,72.3 32.0,74.0 C32.2,75.7 31.2,77.3 31.5,79.0 C31.8,80.7 33.2,82.3 34.0,84.0 C34.8,85.7 35.0,87.7 36.0,89.0 C37.0,90.3 39.3,91.5 40.0,92.0" fill="none" stroke="#888" stroke-width="0.7" stroke-linejoin="round" />
<path d="M35.0,69.0 C35.4,69.7 37.0,71.5 37.5,73.0 C38.0,74.5 37.4,76.3 38.0,78.0 C38.6,79.7 39.8,81.3 41.0,83.0 C42.2,84.7 43.5,86.7 45.0,88.0 C46.5,89.3 48.2,90.0 50.0,91.0 C51.8,92.0 55.0,93.5 56.0,94.0" fill="none" stroke="#999" stroke-width="0.7" stroke-linejoin="round" />
<path d="M40.0,69.0 C40.3,70.0 41.3,73.0 42.0,75.0 C42.7,77.0 43.7,80.0 44.0,81.0" fill="none" stroke="#aaa" stroke-width="0.7" stroke-linejoin="round" />
<rect x="21.4" y="49" width="2.200000000000003" height="59" fill="#1e1e1e" stroke="none" stroke-width="0" />
<rect x="21" y="105.8" width="67" height="2.4000000000000057" fill="#555" stroke="none" stroke-width="0" />
<rect x="21" y="106.8" width="39" height="1.4000000000000057" fill="#222" stroke="none" stroke-width="0" />
<path d="M136.9,68.2h0.8v0.8h-0.8zM142.2,67.9h0.8v0.8h-0.8zM132.4,69.0h0.8v0.8h-0.8zM136.9,68.5h0.8v0.8h-0.8zM144.9,69.0h0.8v0.8h-0.8zM152.7,68.9h0.8v0.8h-0.8zM127.6,70.5h0.8v0.8h-0.8zM129.2,69.5h0.8v0.8h-0.8zM132.1,69.5h0.8v0.8h-0.8zM133.2,69.8h0.8v0.8h-0.8zM135.0,69.7h0.8v0.8h-0.8zM139.2,69.8h0.8v0.8h-0.8zM141.5,70.3h0.8v0.8h-0.8zM142.3,70.0h0.8v0.8h-0.8zM144.3,69.5h0.8v0.8h-0.8zM151.1,69.8h0.8v0.8h-0.8zM152.4,70.4h0.8v0.8h-0.8zM127.8,70.8h0.8v0.8h-0.8zM128.9,71.2h0.8v0.8h-0.8zM129.3,71.3h0.8v0.8h-0.8zM131.3,70.9h0.8v0.8h-0.8zM142.6,71.3h0.8v0.8h-0.8zM147.1,70.8h0.8v0.8h-0.8zM128.4,72.2h0.8v0.8h-0.8zM129.1,72.4h0.8v0.8h-0.8zM133.0,71.7h0.8v0.8h-0.8zM133.7,71.8h0.8v0.8h-0.8zM136.1,72.1h0.8v0.8h-0.8zM139.6,71.6h0.8v0.8h-0.8zM140.5,72.3h0.8v0.8h-0.8zM142.5,72.0h0.8v0.8h-0.8zM144.3,72.3h0.8v0.8h-0.8zM146.8,71.6h0.8v0.8h-0.8zM151.0,71.6h0.8v0.8h-0.8zM165.7,72.3h0.8v0.8h-0.8zM128.9,73.5h0.8v0.8h-0.8zM129.5,73.0h0.8v0.8h-0.8zM130.3,73.1h0.8v0.8h-0.8zM133.1,72.8h0.8v0.8h-0.8zM134.4,73.5h0.8v0.8h-0.8zM136.0,72.8h0.8v0.8h-0.8zM136.1,73.0h0.8v0.8h-0.8zM137.8,73.2h0.8v0.8h-0.8zM143.9,72.5h0.8v0.8h-0.8zM158.4,72.9h0.8v0.8h-0.8zM160.0,73.5h0.8v0.8h-0.8zM171.7,72.6h0.8v0.8h-0.8zM129.9,74.1h0.8v0.8h-0.8zM131.3,73.7h0.8v0.8h-0.8zM134.0,73.7h0.8v0.8h-0.8zM134.3,73.7h0.8v0.8h-0.8zM136.1,73.8h0.8v0.8h-0.8zM140.2,74.1h0.8v0.8h-0.8zM151.6,73.7h0.8v0.8h-0.8zM154.1,73.7h0.8v0.8h-0.8zM155.1,74.1h0.8v0.8h-0.8zM157.4,73.7h0.8v0.8h-0.8zM132.7,74.8h0.8v0.8h-0.8zM134.5,75.3h0.8v0.8h-0.8zM139.2,74.8h0.8v0.8h-0.8zM144.4,74.8h0.8v0.8h-0.8zM148.3,75.4h0.8v0.8h-0.8zM150.5,75.2h0.8v0.8h-0.8zM168.8,74.5h0.8v0.8h-0.8zM132.8,76.0h0.8v0.8h-0.8zM133.7,76.0h0.8v0.8h-0.8zM134.3,76.0h0.8v0.8h-0.8zM139.8,75.9h0.8v0.8h-0.8zM148.7,76.0h0.8v0.8h-0.8zM149.3,76.3h0.8v0.8h-0.8zM152.7,75.7h0.8v0.8h-0.8zM171.9,76.4h0.8v0.8h-0.8zM172.9,75.8h0.8v0.8h-0.8zM133.3,76.9h0.8v0.8h-0.8zM137.2,76.9h0.8v0.8h-0.8zM139.7,77.4h0.8v0.8h-0.8zM140.1,77.2h0.8v0.8h-0.8zM144.6,76.7h0.8v0.8h-0.8zM148.2,77.2h0.8v0.8h-0.8zM151.1,77.4h0.8v0.8h-0.8zM153.2,76.7h0.8v0.8h-0.8zM131.9,77.9h0.8v0.8h-0.8zM132.3,77.9h0.8v0.8h-0.8zM133.2,78.2h0.8v0.8h-0.8zM135.7,78.4h0.8v0.8h-0.8zM137.6,78.4h0.8v0.8h-0.8zM145.9,77.9h0.8v0.8h-0.8zM146.7,77.6h0.8v0.8h-0.8zM154.6,78.2h0.8v0.8h-0.8zM156.0,78.0h0.8v0.8h-0.8zM168.8,77.7h0.8v0.8h-0.8zM133.1,79.1h0.8v0.8h-0.8zM140.0,79.4h0.8v0.8h-0.8zM141.5,79.4h0.8v0.8h-0.8zM143.5,79.3h0.8v0.8h-0.8zM149.8,78.7h0.8v0.8h-0.8zM152.4,78.7h0.8v0.8h-0.8zM165.8,79.5h0.8v0.8h-0.8zM143.8,80.5h0.8v0.8h-0.8zM145.9,79.5h0.8v0.8h-0.8zM148.5,80.0h0.8v0.8h-0.8zM153.0,79.7h0.8v0.8h-0.8zM154.1,79.8h0.8v0.8h-0.8zM156.9,80.4h0.8v0.8h-0.8zM161.1,80.2h0.8v0.8h-0.8zM162.9,79.9h0.8v0.8h-0.8zM136.8,80.5h0.8v0.8h-0.8zM137.5,81.5h0.8v0.8h-0.8zM141.0,81.1h0.8v0.8h-0.8zM151.7,80.7h0.8v0.8h-0.8zM152.6,80.8h0.8v0.8h-0.8zM161.9,80.8h0.8v0.8h-0.8zM137.0,82.0h0.8v0.8h-0.8zM137.4,81.6h0.8v0.8h-0.8zM140.3,81.5h0.8v0.8h-0.8zM142.3,82.3h0.8v0.8h-0.8zM146.0,81.7h0.8v0.8h-0.8zM154.4,82.1h0.8v0.8h-0.8zM169.6,82.5h0.8v0.8h-0.8zM135.6,82.7h0.8v0.8h-0.8zM136.8,83.5h0.8v0.8h-0.8zM142.4,83.1h0.8v0.8h-0.8zM145.5,83.4h0.8v0.8h-0.8zM150.1,83.1h0.8v0.8h-0.8zM159.0,83.2h0.8v0.8h-0.8zM162.4,83.4h0.8v0.8h-0.8zM138.2,83.9h0.8v0.8h-0.8zM141.3,83.9h0.8v0.8h-0.8zM151.5,83.5h0.8v0.8h-0.8zM154.2,83.8h0.8v0.8h-0.8zM157.7,83.9h0.8v0.8h-0.8zM167.8,84.5h0.8v0.8h-0.8zM174.8,84.4h0.8v0.8h-0.8zM139.6,84.9h0.8v0.8h-0.8zM172.2,85.0h0.8v0.8h-0.8zM143.3,85.8h0.8v0.8h-0.8zM147.5,86.2h0.8v0.8h-0.8zM149.3,85.7h0.8v0.8h-0.8zM152.9,86.2h0.8v0.8h-0.8zM154.6,85.8h0.8v0.8h-0.8zM159.3,86.2h0.8v0.8h-0.8zM171.7,85.7h0.8v0.8h-0.8zM149.1,87.0h0.8v0.8h-0.8zM157.5,87.2h0.8v0.8h-0.8zM161.0,87.2h0.8v0.8h-0.8zM170.0,87.5h0.8v0.8h-0.8zM141.4,88.3h0.8v0.8h-0.8zM142.2,87.7h0.8v0.8h-0.8zM147.0,88.4h0.8v0.8h-0.8zM150.2,87.7h0.8v0.8h-0.8zM174.3,87.9h0.8v0.8h-0.8zM141.5,88.8h0.8v0.8h-0.8zM143.2,88.6h0.8v0.8h-0.8zM145.1,88.9h0.8v0.8h-0.8zM169.0,89.1h0.8v0.8h-0.8zM143.5,89.7h0.8v0.8h-0.8zM145.3,89.8h0.8v0.8h-0.8zM147.2,89.5h0.8v0.8h-0.8zM158.5,90.3h0.8v0.8h-0.8zM167.2,89.9h0.8v0.8h-0.8zM144.3,90.7h0.8v0.8h-0.8zM156.5,91.1h0.8v0.8h-0.8zM157.9,91.3h0.8v0.8h-0.8zM158.1,90.6h0.8v0.8h-0.8zM147.8,91.7h0.8v0.8h-0.8zM153.0,92.1h0.8v0.8h-0.8zM148.5,92.6h0.8v0.8h-0.8zM152.1,93.3h0.8v0.8h-0.8zM169.9,92.7h0.8v0.8h-0.8zM152.7,93.7h0.8v0.8h-0.8z" fill="#a0a0a0" clip-path="url(#cA2)"/>
<path d="M140.6,48.9h0.8v0.8h-0.8zM143.8,49.5h0.8v0.8h-0.8zM145.4,49.1h0.8v0.8h-0.8zM148.0,48.9h0.8v0.8h-0.8zM150.3,49.1h0.8v0.8h-0.8zM154.3,49.3h0.8v0.8h-0.8zM156.8,48.7h0.8v0.8h-0.8zM158.8,49.4h0.8v0.8h-0.8zM159.8,48.5h0.8v0.8h-0.8zM160.0,48.6h0.8v0.8h-0.8zM141.2,49.6h0.8v0.8h-0.8zM144.7,49.8h0.8v0.8h-0.8zM145.1,49.5h0.8v0.8h-0.8zM146.8,50.1h0.8v0.8h-0.8zM148.0,49.7h0.8v0.8h-0.8zM149.3,50.0h0.8v0.8h-0.8zM153.0,50.4h0.8v0.8h-0.8zM153.1,50.1h0.8v0.8h-0.8zM156.7,49.8h0.8v0.8h-0.8zM159.0,50.1h0.8v0.8h-0.8zM160.0,49.6h0.8v0.8h-0.8zM136.8,50.7h0.8v0.8h-0.8zM139.0,50.8h0.8v0.8h-0.8zM140.0,50.7h0.8v0.8h-0.8zM141.6,51.0h0.8v0.8h-0.8zM145.6,50.7h0.8v0.8h-0.8zM147.3,51.1h0.8v0.8h-0.8zM148.2,50.9h0.8v0.8h-0.8zM150.3,51.2h0.8v0.8h-0.8zM152.7,51.4h0.8v0.8h-0.8zM153.2,50.8h0.8v0.8h-0.8zM155.2,50.8h0.8v0.8h-0.8zM158.0,50.5h0.8v0.8h-0.8zM159.8,51.2h0.8v0.8h-0.8zM162.1,50.6h0.8v0.8h-0.8zM163.4,50.8h0.8v0.8h-0.8zM135.3,51.6h0.8v0.8h-0.8zM140.6,52.0h0.8v0.8h-0.8zM143.8,51.6h0.8v0.8h-0.8zM144.2,51.9h0.8v0.8h-0.8zM148.1,51.9h0.8v0.8h-0.8zM156.7,52.4h0.8v0.8h-0.8zM157.8,52.1h0.8v0.8h-0.8zM159.6,52.1h0.8v0.8h-0.8zM136.0,53.5h0.8v0.8h-0.8zM141.2,52.6h0.8v0.8h-0.8zM147.8,53.4h0.8v0.8h-0.8zM150.9,53.4h0.8v0.8h-0.8zM157.6,52.9h0.8v0.8h-0.8zM159.0,52.6h0.8v0.8h-0.8zM159.2,53.1h0.8v0.8h-0.8zM160.8,52.6h0.8v0.8h-0.8zM137.6,54.0h0.8v0.8h-0.8zM138.9,53.5h0.8v0.8h-0.8zM139.1,53.9h0.8v0.8h-0.8zM141.7,54.0h0.8v0.8h-0.8zM151.5,54.2h0.8v0.8h-0.8zM159.0,54.3h0.8v0.8h-0.8zM162.5,53.6h0.8v0.8h-0.8zM163.8,54.0h0.8v0.8h-0.8zM144.1,54.9h0.8v0.8h-0.8zM151.5,55.1h0.8v0.8h-0.8zM152.8,54.7h0.8v0.8h-0.8zM156.3,54.9h0.8v0.8h-0.8zM158.3,54.8h0.8v0.8h-0.8zM161.8,55.4h0.8v0.8h-0.8zM163.2,54.8h0.8v0.8h-0.8zM140.9,56.5h0.8v0.8h-0.8zM145.3,56.0h0.8v0.8h-0.8zM146.8,55.8h0.8v0.8h-0.8zM151.3,55.9h0.8v0.8h-0.8zM153.6,55.5h0.8v0.8h-0.8zM162.2,56.3h0.8v0.8h-0.8zM163.9,55.9h0.8v0.8h-0.8zM135.7,57.4h0.8v0.8h-0.8zM136.3,57.0h0.8v0.8h-0.8zM137.7,57.1h0.8v0.8h-0.8zM138.1,57.1h0.8v0.8h-0.8zM142.4,57.1h0.8v0.8h-0.8zM144.8,57.3h0.8v0.8h-0.8zM145.6,57.5h0.8v0.8h-0.8zM151.0,57.0h0.8v0.8h-0.8zM152.5,57.1h0.8v0.8h-0.8zM154.1,57.5h0.8v0.8h-0.8zM159.2,56.9h0.8v0.8h-0.8zM161.5,56.8h0.8v0.8h-0.8zM163.0,56.9h0.8v0.8h-0.8zM136.4,58.3h0.8v0.8h-0.8zM137.6,58.1h0.8v0.8h-0.8zM146.6,57.8h0.8v0.8h-0.8zM149.3,58.4h0.8v0.8h-0.8zM151.5,58.0h0.8v0.8h-0.8zM153.1,58.2h0.8v0.8h-0.8zM159.8,57.8h0.8v0.8h-0.8zM140.2,59.0h0.8v0.8h-0.8zM151.1,59.5h0.8v0.8h-0.8zM153.8,58.6h0.8v0.8h-0.8zM156.4,58.7h0.8v0.8h-0.8zM161.0,59.4h0.8v0.8h-0.8zM162.6,59.3h0.8v0.8h-0.8zM163.3,59.4h0.8v0.8h-0.8zM137.1,60.3h0.8v0.8h-0.8zM145.1,60.1h0.8v0.8h-0.8zM147.5,59.6h0.8v0.8h-0.8zM153.9,60.3h0.8v0.8h-0.8zM157.9,60.1h0.8v0.8h-0.8zM161.0,59.9h0.8v0.8h-0.8zM162.1,60.1h0.8v0.8h-0.8zM139.7,60.6h0.8v0.8h-0.8zM140.8,60.8h0.8v0.8h-0.8zM145.5,60.5h0.8v0.8h-0.8zM147.5,61.4h0.8v0.8h-0.8zM148.2,61.3h0.8v0.8h-0.8zM150.9,60.5h0.8v0.8h-0.8zM152.2,61.3h0.8v0.8h-0.8zM139.6,61.9h0.8v0.8h-0.8zM143.5,61.8h0.8v0.8h-0.8zM147.8,62.1h0.8v0.8h-0.8zM154.8,62.1h0.8v0.8h-0.8zM155.2,61.9h0.8v0.8h-0.8zM159.3,62.1h0.8v0.8h-0.8zM161.4,61.8h0.8v0.8h-0.8zM162.0,61.8h0.8v0.8h-0.8zM163.6,62.4h0.8v0.8h-0.8zM135.7,62.6h0.8v0.8h-0.8zM141.3,63.0h0.8v0.8h-0.8zM147.2,63.4h0.8v0.8h-0.8zM157.1,63.1h0.8v0.8h-0.8zM160.3,62.6h0.8v0.8h-0.8zM163.2,63.0h0.8v0.8h-0.8zM136.2,64.1h0.8v0.8h-0.8zM138.5,64.4h0.8v0.8h-0.8zM141.8,63.6h0.8v0.8h-0.8zM143.1,63.9h0.8v0.8h-0.8zM145.0,64.0h0.8v0.8h-0.8zM147.8,63.8h0.8v0.8h-0.8zM154.1,64.1h0.8v0.8h-0.8zM156.7,64.0h0.8v0.8h-0.8zM158.3,64.2h0.8v0.8h-0.8zM159.1,64.5h0.8v0.8h-0.8zM160.4,64.1h0.8v0.8h-0.8zM163.7,63.5h0.8v0.8h-0.8zM138.6,65.1h0.8v0.8h-0.8zM142.1,64.8h0.8v0.8h-0.8zM151.5,65.1h0.8v0.8h-0.8zM160.2,65.2h0.8v0.8h-0.8zM162.4,65.4h0.8v0.8h-0.8zM163.3,65.3h0.8v0.8h-0.8zM138.1,65.6h0.8v0.8h-0.8zM143.1,66.3h0.8v0.8h-0.8zM152.0,66.5h0.8v0.8h-0.8zM153.7,66.3h0.8v0.8h-0.8zM155.0,65.9h0.8v0.8h-0.8zM157.9,65.9h0.8v0.8h-0.8zM158.4,66.4h0.8v0.8h-0.8zM161.6,65.8h0.8v0.8h-0.8zM136.9,66.5h0.8v0.8h-0.8zM138.5,66.6h0.8v0.8h-0.8zM140.7,67.3h0.8v0.8h-0.8zM155.6,66.7h0.8v0.8h-0.8zM156.2,66.9h0.8v0.8h-0.8zM161.3,67.1h0.8v0.8h-0.8z" fill="#a8a8a8" />
<path d="M143.8,57.8h0.8v0.8h-0.8zM145.1,57.9h0.8v0.8h-0.8zM146.9,57.4h0.8v0.8h-0.8zM148.8,57.8h0.8v0.8h-0.8zM140.0,58.5h0.8v0.8h-0.8zM141.7,58.1h0.8v0.8h-0.8zM146.7,58.9h0.8v0.8h-0.8zM149.4,58.2h0.8v0.8h-0.8zM150.9,58.8h0.8v0.8h-0.8zM151.2,58.7h0.8v0.8h-0.8zM153.6,58.3h0.8v0.8h-0.8zM141.5,59.7h0.8v0.8h-0.8zM144.3,59.9h0.8v0.8h-0.8zM146.3,59.7h0.8v0.8h-0.8zM153.1,59.9h0.8v0.8h-0.8zM155.6,59.0h0.8v0.8h-0.8zM156.6,59.7h0.8v0.8h-0.8zM158.0,59.4h0.8v0.8h-0.8zM141.8,60.5h0.8v0.8h-0.8zM142.1,60.6h0.8v0.8h-0.8zM145.7,60.8h0.8v0.8h-0.8zM147.5,60.7h0.8v0.8h-0.8zM149.5,60.4h0.8v0.8h-0.8zM150.4,60.9h0.8v0.8h-0.8zM152.0,60.3h0.8v0.8h-0.8zM153.3,60.4h0.8v0.8h-0.8zM155.0,60.0h0.8v0.8h-0.8zM158.5,60.5h0.8v0.8h-0.8zM139.9,61.4h0.8v0.8h-0.8zM140.2,61.1h0.8v0.8h-0.8zM142.7,61.3h0.8v0.8h-0.8zM143.3,61.4h0.8v0.8h-0.8zM144.3,61.9h0.8v0.8h-0.8zM147.3,61.7h0.8v0.8h-0.8zM152.5,61.6h0.8v0.8h-0.8zM154.3,61.6h0.8v0.8h-0.8zM157.6,61.9h0.8v0.8h-0.8zM140.2,62.3h0.8v0.8h-0.8zM141.9,62.4h0.8v0.8h-0.8zM143.7,62.3h0.8v0.8h-0.8zM144.7,62.4h0.8v0.8h-0.8zM146.4,62.9h0.8v0.8h-0.8zM149.8,62.1h0.8v0.8h-0.8zM150.7,62.3h0.8v0.8h-0.8zM151.6,62.5h0.8v0.8h-0.8zM152.6,62.5h0.8v0.8h-0.8zM153.6,63.0h0.8v0.8h-0.8zM141.6,63.9h0.8v0.8h-0.8zM144.5,63.1h0.8v0.8h-0.8zM146.8,63.8h0.8v0.8h-0.8zM149.9,64.0h0.8v0.8h-0.8zM151.7,63.5h0.8v0.8h-0.8zM153.7,63.4h0.8v0.8h-0.8zM154.3,63.3h0.8v0.8h-0.8zM156.1,63.1h0.8v0.8h-0.8z" fill="#888" />
<path d="M104.5,48.4h0.8v0.8h-0.8zM110.5,48.4h0.8v0.8h-0.8zM110.9,48.4h0.8v0.8h-0.8zM112.8,48.2h0.8v0.8h-0.8zM114.4,48.1h0.8v0.8h-0.8zM116.0,47.8h0.8v0.8h-0.8zM119.4,47.9h0.8v0.8h-0.8zM120.1,47.7h0.8v0.8h-0.8zM121.8,48.1h0.8v0.8h-0.8zM123.0,47.7h0.8v0.8h-0.8zM105.8,49.1h0.8v0.8h-0.8zM110.1,48.6h0.8v0.8h-0.8zM110.8,49.5h0.8v0.8h-0.8zM117.5,48.6h0.8v0.8h-0.8zM119.3,49.0h0.8v0.8h-0.8zM123.1,48.5h0.8v0.8h-0.8zM124.4,49.3h0.8v0.8h-0.8zM105.5,50.3h0.8v0.8h-0.8zM109.6,50.1h0.8v0.8h-0.8zM110.5,49.8h0.8v0.8h-0.8zM112.4,50.0h0.8v0.8h-0.8zM116.1,50.2h0.8v0.8h-0.8zM116.7,50.4h0.8v0.8h-0.8zM120.1,49.7h0.8v0.8h-0.8zM121.5,49.9h0.8v0.8h-0.8zM121.6,50.4h0.8v0.8h-0.8zM123.1,49.7h0.8v0.8h-0.8zM123.9,50.5h0.8v0.8h-0.8zM105.4,51.2h0.8v0.8h-0.8zM107.4,50.7h0.8v0.8h-0.8zM107.7,51.2h0.8v0.8h-0.8zM110.8,50.8h0.8v0.8h-0.8zM115.1,50.6h0.8v0.8h-0.8zM116.2,50.6h0.8v0.8h-0.8zM117.9,51.4h0.8v0.8h-0.8zM119.3,50.5h0.8v0.8h-0.8zM121.1,51.0h0.8v0.8h-0.8zM121.7,51.5h0.8v0.8h-0.8zM123.0,51.1h0.8v0.8h-0.8zM123.6,51.4h0.8v0.8h-0.8zM105.4,52.5h0.8v0.8h-0.8zM106.3,51.6h0.8v0.8h-0.8zM107.2,51.6h0.8v0.8h-0.8zM110.2,51.8h0.8v0.8h-0.8zM110.8,52.1h0.8v0.8h-0.8zM111.7,52.1h0.8v0.8h-0.8zM113.1,52.0h0.8v0.8h-0.8zM115.5,52.1h0.8v0.8h-0.8zM118.4,52.2h0.8v0.8h-0.8zM121.8,51.6h0.8v0.8h-0.8zM122.7,51.6h0.8v0.8h-0.8zM124.2,52.3h0.8v0.8h-0.8zM110.0,52.5h0.8v0.8h-0.8zM112.4,53.3h0.8v0.8h-0.8zM113.9,53.2h0.8v0.8h-0.8zM116.7,52.8h0.8v0.8h-0.8zM117.8,53.1h0.8v0.8h-0.8zM120.0,52.5h0.8v0.8h-0.8zM121.9,53.0h0.8v0.8h-0.8zM112.1,54.4h0.8v0.8h-0.8zM117.8,54.1h0.8v0.8h-0.8zM118.9,53.6h0.8v0.8h-0.8zM123.9,54.3h0.8v0.8h-0.8zM106.0,54.6h0.8v0.8h-0.8zM108.4,55.0h0.8v0.8h-0.8zM109.2,54.6h0.8v0.8h-0.8zM110.5,55.0h0.8v0.8h-0.8zM112.2,54.8h0.8v0.8h-0.8zM113.2,55.3h0.8v0.8h-0.8zM117.4,54.9h0.8v0.8h-0.8zM117.6,55.5h0.8v0.8h-0.8zM118.7,55.2h0.8v0.8h-0.8zM119.5,54.9h0.8v0.8h-0.8zM122.4,55.1h0.8v0.8h-0.8zM123.2,54.7h0.8v0.8h-0.8zM123.7,54.7h0.8v0.8h-0.8zM106.0,55.5h0.8v0.8h-0.8zM107.1,56.2h0.8v0.8h-0.8zM113.4,56.1h0.8v0.8h-0.8zM115.7,56.1h0.8v0.8h-0.8zM117.2,56.4h0.8v0.8h-0.8zM118.8,56.2h0.8v0.8h-0.8zM121.0,56.2h0.8v0.8h-0.8zM122.8,55.6h0.8v0.8h-0.8zM123.9,55.8h0.8v0.8h-0.8zM112.3,57.1h0.8v0.8h-0.8zM112.7,57.1h0.8v0.8h-0.8zM115.4,57.2h0.8v0.8h-0.8zM115.7,56.7h0.8v0.8h-0.8zM118.1,56.6h0.8v0.8h-0.8zM119.0,56.7h0.8v0.8h-0.8zM121.9,57.1h0.8v0.8h-0.8zM124.0,56.6h0.8v0.8h-0.8zM106.2,58.1h0.8v0.8h-0.8zM109.4,58.3h0.8v0.8h-0.8zM110.7,58.3h0.8v0.8h-0.8zM111.9,58.4h0.8v0.8h-0.8zM114.2,58.2h0.8v0.8h-0.8zM118.7,58.3h0.8v0.8h-0.8zM121.1,57.7h0.8v0.8h-0.8zM122.4,58.4h0.8v0.8h-0.8zM124.0,57.8h0.8v0.8h-0.8zM106.4,59.1h0.8v0.8h-0.8zM107.4,59.2h0.8v0.8h-0.8zM108.8,59.1h0.8v0.8h-0.8zM109.9,59.0h0.8v0.8h-0.8zM116.0,59.3h0.8v0.8h-0.8zM117.3,59.5h0.8v0.8h-0.8zM118.8,58.6h0.8v0.8h-0.8zM120.3,58.5h0.8v0.8h-0.8zM122.1,58.8h0.8v0.8h-0.8zM105.4,60.4h0.8v0.8h-0.8zM105.6,59.9h0.8v0.8h-0.8zM108.6,59.9h0.8v0.8h-0.8zM111.6,60.2h0.8v0.8h-0.8zM114.0,60.0h0.8v0.8h-0.8zM114.9,60.5h0.8v0.8h-0.8zM118.0,60.3h0.8v0.8h-0.8zM119.7,59.6h0.8v0.8h-0.8zM121.5,59.8h0.8v0.8h-0.8zM123.3,60.5h0.8v0.8h-0.8zM106.5,61.0h0.8v0.8h-0.8zM107.3,61.0h0.8v0.8h-0.8zM115.3,61.5h0.8v0.8h-0.8zM115.9,61.2h0.8v0.8h-0.8zM118.9,60.7h0.8v0.8h-0.8zM120.3,61.1h0.8v0.8h-0.8zM109.3,61.9h0.8v0.8h-0.8zM110.1,62.5h0.8v0.8h-0.8zM112.4,61.8h0.8v0.8h-0.8zM117.4,62.3h0.8v0.8h-0.8zM119.1,61.9h0.8v0.8h-0.8zM120.0,62.4h0.8v0.8h-0.8zM120.6,61.8h0.8v0.8h-0.8zM122.0,62.3h0.8v0.8h-0.8zM123.0,62.1h0.8v0.8h-0.8zM105.9,62.6h0.8v0.8h-0.8zM107.4,63.3h0.8v0.8h-0.8zM108.9,63.2h0.8v0.8h-0.8zM110.5,63.4h0.8v0.8h-0.8zM111.1,62.9h0.8v0.8h-0.8zM114.6,63.3h0.8v0.8h-0.8zM116.0,63.1h0.8v0.8h-0.8zM122.6,63.0h0.8v0.8h-0.8zM124.1,63.0h0.8v0.8h-0.8zM104.7,63.8h0.8v0.8h-0.8zM106.4,63.6h0.8v0.8h-0.8zM110.4,64.4h0.8v0.8h-0.8zM113.2,64.5h0.8v0.8h-0.8zM114.4,63.9h0.8v0.8h-0.8zM114.9,64.2h0.8v0.8h-0.8zM116.4,64.3h0.8v0.8h-0.8zM116.6,64.2h0.8v0.8h-0.8zM118.3,63.9h0.8v0.8h-0.8zM119.1,63.5h0.8v0.8h-0.8zM123.6,64.2h0.8v0.8h-0.8zM105.0,64.9h0.8v0.8h-0.8zM109.4,65.4h0.8v0.8h-0.8zM110.7,64.9h0.8v0.8h-0.8zM115.9,64.7h0.8v0.8h-0.8zM119.1,64.9h0.8v0.8h-0.8zM121.9,64.6h0.8v0.8h-0.8zM123.9,64.7h0.8v0.8h-0.8zM106.3,65.7h0.8v0.8h-0.8zM109.8,65.5h0.8v0.8h-0.8zM114.4,65.6h0.8v0.8h-0.8zM116.3,65.8h0.8v0.8h-0.8zM120.4,65.7h0.8v0.8h-0.8zM121.1,65.6h0.8v0.8h-0.8zM106.7,66.5h0.8v0.8h-0.8zM108.1,67.2h0.8v0.8h-0.8zM109.1,66.6h0.8v0.8h-0.8zM109.9,67.1h0.8v0.8h-0.8zM111.6,66.6h0.8v0.8h-0.8zM113.8,67.1h0.8v0.8h-0.8zM116.9,67.2h0.8v0.8h-0.8zM118.6,66.7h0.8v0.8h-0.8zM121.5,67.1h0.8v0.8h-0.8zM123.5,67.5h0.8v0.8h-0.8zM124.4,66.9h0.8v0.8h-0.8z" fill="#a0a0a0" />
<path d="M106.4,89.6h0.8v0.8h-0.8zM108.4,90.3h0.8v0.8h-0.8zM109.5,89.9h0.8v0.8h-0.8zM109.5,89.5h0.8v0.8h-0.8zM111.7,89.9h0.8v0.8h-0.8zM114.5,89.7h0.8v0.8h-0.8zM117.3,90.0h0.8v0.8h-0.8zM118.7,90.1h0.8v0.8h-0.8zM119.6,90.1h0.8v0.8h-0.8zM121.4,89.7h0.8v0.8h-0.8zM121.7,90.0h0.8v0.8h-0.8zM123.3,89.9h0.8v0.8h-0.8zM125.0,90.4h0.8v0.8h-0.8zM105.7,90.6h0.8v0.8h-0.8zM107.0,90.8h0.8v0.8h-0.8zM108.5,90.8h0.8v0.8h-0.8zM112.4,90.9h0.8v0.8h-0.8zM112.9,91.1h0.8v0.8h-0.8zM113.9,90.7h0.8v0.8h-0.8zM118.4,91.3h0.8v0.8h-0.8zM119.6,90.8h0.8v0.8h-0.8zM120.6,90.5h0.8v0.8h-0.8zM121.9,91.1h0.8v0.8h-0.8zM123.4,90.9h0.8v0.8h-0.8zM123.7,91.2h0.8v0.8h-0.8zM124.7,91.2h0.8v0.8h-0.8zM106.7,92.0h0.8v0.8h-0.8zM108.4,92.4h0.8v0.8h-0.8zM108.7,91.6h0.8v0.8h-0.8zM111.5,92.1h0.8v0.8h-0.8zM112.8,91.8h0.8v0.8h-0.8zM113.8,92.3h0.8v0.8h-0.8zM115.4,91.9h0.8v0.8h-0.8zM117.3,91.9h0.8v0.8h-0.8zM117.9,91.6h0.8v0.8h-0.8zM119.7,92.2h0.8v0.8h-0.8zM122.3,91.8h0.8v0.8h-0.8zM122.5,91.8h0.8v0.8h-0.8zM105.4,93.4h0.8v0.8h-0.8zM106.5,93.3h0.8v0.8h-0.8zM109.6,93.5h0.8v0.8h-0.8zM111.5,92.6h0.8v0.8h-0.8zM112.4,93.2h0.8v0.8h-0.8zM112.7,93.0h0.8v0.8h-0.8zM114.5,92.7h0.8v0.8h-0.8zM116.7,93.3h0.8v0.8h-0.8zM121.1,93.0h0.8v0.8h-0.8zM121.7,93.0h0.8v0.8h-0.8zM105.5,94.0h0.8v0.8h-0.8zM105.9,94.1h0.8v0.8h-0.8zM108.9,93.7h0.8v0.8h-0.8zM110.2,94.2h0.8v0.8h-0.8zM110.8,94.5h0.8v0.8h-0.8zM112.1,94.3h0.8v0.8h-0.8zM113.2,93.9h0.8v0.8h-0.8zM114.8,93.9h0.8v0.8h-0.8zM115.7,94.0h0.8v0.8h-0.8zM117.2,93.9h0.8v0.8h-0.8zM119.6,94.0h0.8v0.8h-0.8zM121.4,94.4h0.8v0.8h-0.8zM122.0,94.3h0.8v0.8h-0.8zM123.0,93.9h0.8v0.8h-0.8zM124.8,94.3h0.8v0.8h-0.8zM105.1,95.4h0.8v0.8h-0.8zM106.6,94.9h0.8v0.8h-0.8zM109.5,95.3h0.8v0.8h-0.8zM111.7,94.9h0.8v0.8h-0.8zM112.8,94.9h0.8v0.8h-0.8zM115.6,95.3h0.8v0.8h-0.8zM118.4,94.8h0.8v0.8h-0.8zM119.4,95.4h0.8v0.8h-0.8zM120.6,94.7h0.8v0.8h-0.8zM124.5,94.8h0.8v0.8h-0.8zM104.7,95.8h0.8v0.8h-0.8zM105.6,96.0h0.8v0.8h-0.8zM107.2,95.7h0.8v0.8h-0.8zM107.7,96.4h0.8v0.8h-0.8zM110.8,96.2h0.8v0.8h-0.8zM112.3,96.1h0.8v0.8h-0.8zM114.0,96.4h0.8v0.8h-0.8zM115.2,95.7h0.8v0.8h-0.8zM115.8,95.9h0.8v0.8h-0.8zM117.8,95.8h0.8v0.8h-0.8zM119.3,95.9h0.8v0.8h-0.8zM119.8,96.1h0.8v0.8h-0.8zM124.1,95.6h0.8v0.8h-0.8zM124.7,95.7h0.8v0.8h-0.8zM105.4,97.3h0.8v0.8h-0.8zM108.4,96.6h0.8v0.8h-0.8zM109.3,97.1h0.8v0.8h-0.8zM110.3,96.8h0.8v0.8h-0.8zM110.6,97.0h0.8v0.8h-0.8zM111.7,96.7h0.8v0.8h-0.8zM113.2,97.2h0.8v0.8h-0.8zM114.0,97.3h0.8v0.8h-0.8zM115.7,96.7h0.8v0.8h-0.8zM118.8,97.4h0.8v0.8h-0.8zM121.7,96.7h0.8v0.8h-0.8zM123.4,96.6h0.8v0.8h-0.8zM104.9,98.3h0.8v0.8h-0.8zM105.5,98.5h0.8v0.8h-0.8zM108.8,98.3h0.8v0.8h-0.8zM110.5,97.7h0.8v0.8h-0.8zM111.4,98.3h0.8v0.8h-0.8zM111.8,97.6h0.8v0.8h-0.8zM114.2,98.3h0.8v0.8h-0.8zM114.9,98.3h0.8v0.8h-0.8zM116.4,98.2h0.8v0.8h-0.8zM117.7,98.0h0.8v0.8h-0.8zM119.0,98.4h0.8v0.8h-0.8zM120.0,98.0h0.8v0.8h-0.8zM120.5,97.8h0.8v0.8h-0.8zM122.1,98.2h0.8v0.8h-0.8zM123.1,97.9h0.8v0.8h-0.8zM124.4,97.5h0.8v0.8h-0.8zM105.1,99.2h0.8v0.8h-0.8zM106.0,99.2h0.8v0.8h-0.8zM107.9,98.7h0.8v0.8h-0.8zM109.5,99.0h0.8v0.8h-0.8zM109.8,98.6h0.8v0.8h-0.8zM114.4,99.2h0.8v0.8h-0.8zM114.7,99.1h0.8v0.8h-0.8zM118.5,98.6h0.8v0.8h-0.8zM121.4,98.5h0.8v0.8h-0.8zM122.6,99.4h0.8v0.8h-0.8zM124.0,99.3h0.8v0.8h-0.8zM106.4,100.1h0.8v0.8h-0.8zM108.4,100.0h0.8v0.8h-0.8zM109.8,99.7h0.8v0.8h-0.8zM112.4,99.5h0.8v0.8h-0.8zM113.2,99.8h0.8v0.8h-0.8zM114.3,99.8h0.8v0.8h-0.8zM114.9,99.9h0.8v0.8h-0.8zM115.8,99.5h0.8v0.8h-0.8zM117.3,99.8h0.8v0.8h-0.8zM118.0,100.3h0.8v0.8h-0.8zM119.1,100.0h0.8v0.8h-0.8zM121.8,99.7h0.8v0.8h-0.8zM105.5,101.2h0.8v0.8h-0.8zM105.9,100.8h0.8v0.8h-0.8zM107.6,100.7h0.8v0.8h-0.8zM109.6,100.9h0.8v0.8h-0.8zM110.9,101.2h0.8v0.8h-0.8zM112.9,100.6h0.8v0.8h-0.8zM115.2,100.5h0.8v0.8h-0.8zM116.3,100.5h0.8v0.8h-0.8zM118.1,100.8h0.8v0.8h-0.8zM118.6,101.3h0.8v0.8h-0.8zM122.4,100.9h0.8v0.8h-0.8zM104.9,102.0h0.8v0.8h-0.8zM108.4,102.3h0.8v0.8h-0.8zM108.7,101.6h0.8v0.8h-0.8zM109.8,102.4h0.8v0.8h-0.8zM111.2,102.0h0.8v0.8h-0.8zM113.3,102.2h0.8v0.8h-0.8zM114.7,102.1h0.8v0.8h-0.8zM116.8,101.9h0.8v0.8h-0.8zM118.6,102.1h0.8v0.8h-0.8zM121.0,102.2h0.8v0.8h-0.8zM121.6,101.6h0.8v0.8h-0.8zM106.9,102.8h0.8v0.8h-0.8zM107.5,103.1h0.8v0.8h-0.8zM109.3,103.5h0.8v0.8h-0.8zM110.4,103.4h0.8v0.8h-0.8zM112.3,102.8h0.8v0.8h-0.8zM112.6,103.4h0.8v0.8h-0.8zM116.4,103.0h0.8v0.8h-0.8zM119.7,103.3h0.8v0.8h-0.8zM122.2,102.9h0.8v0.8h-0.8zM123.5,103.0h0.8v0.8h-0.8zM104.8,104.4h0.8v0.8h-0.8zM106.2,104.2h0.8v0.8h-0.8zM108.4,103.5h0.8v0.8h-0.8zM109.3,104.2h0.8v0.8h-0.8zM110.3,103.8h0.8v0.8h-0.8zM111.1,104.4h0.8v0.8h-0.8zM113.1,104.3h0.8v0.8h-0.8zM113.6,103.6h0.8v0.8h-0.8zM116.4,104.4h0.8v0.8h-0.8zM117.1,103.6h0.8v0.8h-0.8zM117.8,103.6h0.8v0.8h-0.8zM118.6,103.5h0.8v0.8h-0.8zM121.4,103.7h0.8v0.8h-0.8zM121.8,104.3h0.8v0.8h-0.8zM122.8,104.0h0.8v0.8h-0.8zM105.9,104.8h0.8v0.8h-0.8zM108.9,105.1h0.8v0.8h-0.8zM110.0,105.1h0.8v0.8h-0.8zM112.5,105.0h0.8v0.8h-0.8zM115.3,105.2h0.8v0.8h-0.8zM117.3,105.0h0.8v0.8h-0.8zM118.4,105.3h0.8v0.8h-0.8zM118.8,104.8h0.8v0.8h-0.8zM123.1,104.7h0.8v0.8h-0.8zM124.2,105.0h0.8v0.8h-0.8zM104.7,105.6h0.8v0.8h-0.8zM107.7,105.6h0.8v0.8h-0.8zM108.7,105.9h0.8v0.8h-0.8zM110.0,106.4h0.8v0.8h-0.8zM114.3,106.0h0.8v0.8h-0.8zM118.6,106.3h0.8v0.8h-0.8zM121.4,105.9h0.8v0.8h-0.8zM122.2,105.9h0.8v0.8h-0.8zM123.1,106.3h0.8v0.8h-0.8zM123.7,106.3h0.8v0.8h-0.8zM106.1,106.6h0.8v0.8h-0.8zM109.1,106.8h0.8v0.8h-0.8zM109.8,107.1h0.8v0.8h-0.8zM113.4,106.8h0.8v0.8h-0.8zM117.6,107.0h0.8v0.8h-0.8zM118.7,107.4h0.8v0.8h-0.8zM120.6,106.8h0.8v0.8h-0.8zM122.8,106.8h0.8v0.8h-0.8zM124.3,106.7h0.8v0.8h-0.8zM106.0,107.8h0.8v0.8h-0.8zM107.4,107.8h0.8v0.8h-0.8zM109.8,107.5h0.8v0.8h-0.8zM112.9,107.5h0.8v0.8h-0.8zM113.7,108.0h0.8v0.8h-0.8zM116.3,107.8h0.8v0.8h-0.8zM116.5,107.9h0.8v0.8h-0.8zM118.4,107.7h0.8v0.8h-0.8z" fill="#8a8a8a" />
<path d="M150.9,89.7h0.8v0.8h-0.8zM152.8,91.5h0.8v0.8h-0.8zM148.5,92.3h0.8v0.8h-0.8zM149.2,91.9h0.8v0.8h-0.8zM150.9,92.3h0.8v0.8h-0.8zM148.7,92.7h0.8v0.8h-0.8zM149.9,92.9h0.8v0.8h-0.8zM150.7,92.8h0.8v0.8h-0.8zM151.6,92.6h0.8v0.8h-0.8zM153.5,94.5h0.8v0.8h-0.8zM163.1,93.5h0.8v0.8h-0.8zM164.8,94.2h0.8v0.8h-0.8zM164.8,95.3h0.8v0.8h-0.8zM148.8,96.0h0.8v0.8h-0.8zM144.9,97.4h0.8v0.8h-0.8zM151.3,96.7h0.8v0.8h-0.8zM159.2,97.2h0.8v0.8h-0.8zM160.5,97.2h0.8v0.8h-0.8zM149.4,99.5h0.8v0.8h-0.8zM157.4,98.7h0.8v0.8h-0.8zM156.9,100.0h0.8v0.8h-0.8zM163.1,99.9h0.8v0.8h-0.8zM142.1,100.7h0.8v0.8h-0.8zM155.9,101.3h0.8v0.8h-0.8zM147.6,101.7h0.8v0.8h-0.8zM160.0,102.2h0.8v0.8h-0.8zM143.0,103.2h0.8v0.8h-0.8zM151.3,103.1h0.8v0.8h-0.8zM160.7,103.1h0.8v0.8h-0.8zM151.7,104.1h0.8v0.8h-0.8zM151.3,105.2h0.8v0.8h-0.8zM152.2,104.8h0.8v0.8h-0.8zM164.4,105.3h0.8v0.8h-0.8zM148.8,106.5h0.8v0.8h-0.8zM155.0,106.6h0.8v0.8h-0.8zM158.4,106.6h0.8v0.8h-0.8z" fill="#aaa" />
<path d="M105.7,68.7h0.8v0.8h-0.8zM114.0,68.8h0.8v0.8h-0.8zM119.8,68.2h0.8v0.8h-0.8zM122.0,68.3h0.8v0.8h-0.8zM111.2,70.0h0.8v0.8h-0.8zM113.2,69.6h0.8v0.8h-0.8zM122.4,69.2h0.8v0.8h-0.8zM108.4,70.7h0.8v0.8h-0.8zM109.0,70.9h0.8v0.8h-0.8zM116.1,70.0h0.8v0.8h-0.8zM124.5,70.6h0.8v0.8h-0.8zM111.5,71.0h0.8v0.8h-0.8zM122.7,71.1h0.8v0.8h-0.8zM125.8,71.2h0.8v0.8h-0.8zM127.6,72.0h0.8v0.8h-0.8zM114.5,72.0h0.8v0.8h-0.8zM119.4,72.0h0.8v0.8h-0.8zM128.5,72.3h0.8v0.8h-0.8zM119.7,73.6h0.8v0.8h-0.8zM124.9,74.7h0.8v0.8h-0.8zM115.8,75.3h0.8v0.8h-0.8zM106.7,76.6h0.8v0.8h-0.8zM107.5,76.6h0.8v0.8h-0.8zM113.3,76.8h0.8v0.8h-0.8zM115.0,76.7h0.8v0.8h-0.8zM122.0,76.8h0.8v0.8h-0.8zM126.8,76.9h0.8v0.8h-0.8zM130.8,76.3h0.8v0.8h-0.8zM111.0,77.7h0.8v0.8h-0.8zM117.8,77.7h0.8v0.8h-0.8zM120.6,77.5h0.8v0.8h-0.8zM121.1,77.9h0.8v0.8h-0.8zM106.1,78.1h0.8v0.8h-0.8zM131.0,78.9h0.8v0.8h-0.8zM132.4,78.6h0.8v0.8h-0.8zM109.9,79.6h0.8v0.8h-0.8zM115.4,79.6h0.8v0.8h-0.8zM131.3,79.1h0.8v0.8h-0.8zM133.6,80.0h0.8v0.8h-0.8zM135.6,79.9h0.8v0.8h-0.8zM112.5,80.8h0.8v0.8h-0.8zM113.2,81.0h0.8v0.8h-0.8zM114.3,81.0h0.8v0.8h-0.8zM131.8,80.5h0.8v0.8h-0.8zM108.9,81.9h0.8v0.8h-0.8zM109.3,81.4h0.8v0.8h-0.8zM118.2,81.5h0.8v0.8h-0.8zM119.3,81.3h0.8v0.8h-0.8zM123.1,81.6h0.8v0.8h-0.8zM126.3,81.2h0.8v0.8h-0.8zM129.6,81.2h0.8v0.8h-0.8zM130.5,81.7h0.8v0.8h-0.8zM133.5,81.1h0.8v0.8h-0.8zM112.7,82.5h0.8v0.8h-0.8zM132.8,82.1h0.8v0.8h-0.8zM134.8,82.7h0.8v0.8h-0.8zM114.6,83.6h0.8v0.8h-0.8zM126.3,83.6h0.8v0.8h-0.8zM131.9,83.8h0.8v0.8h-0.8zM113.2,84.1h0.8v0.8h-0.8zM117.0,84.4h0.8v0.8h-0.8zM120.4,84.9h0.8v0.8h-0.8zM121.3,84.6h0.8v0.8h-0.8zM122.8,84.1h0.8v0.8h-0.8zM134.9,84.6h0.8v0.8h-0.8zM113.8,85.6h0.8v0.8h-0.8zM117.0,85.4h0.8v0.8h-0.8zM119.1,85.1h0.8v0.8h-0.8zM123.8,85.8h0.8v0.8h-0.8zM108.6,86.0h0.8v0.8h-0.8zM109.5,86.3h0.8v0.8h-0.8zM110.9,86.3h0.8v0.8h-0.8zM115.5,86.5h0.8v0.8h-0.8zM116.9,86.4h0.8v0.8h-0.8zM119.1,86.1h0.8v0.8h-0.8zM122.4,86.2h0.8v0.8h-0.8zM123.7,87.0h0.8v0.8h-0.8zM138.3,86.9h0.8v0.8h-0.8zM126.3,87.8h0.8v0.8h-0.8zM128.0,87.5h0.8v0.8h-0.8zM137.0,87.3h0.8v0.8h-0.8zM128.7,88.1h0.8v0.8h-0.8zM134.4,88.7h0.8v0.8h-0.8zM138.9,88.7h0.8v0.8h-0.8zM112.5,90.0h0.8v0.8h-0.8zM118.2,89.2h0.8v0.8h-0.8zM125.2,89.9h0.8v0.8h-0.8zM130.7,89.3h0.8v0.8h-0.8zM117.6,90.4h0.8v0.8h-0.8zM124.3,90.6h0.8v0.8h-0.8zM125.5,90.6h0.8v0.8h-0.8zM126.1,90.5h0.8v0.8h-0.8zM128.0,90.7h0.8v0.8h-0.8zM130.3,90.7h0.8v0.8h-0.8zM118.7,91.8h0.8v0.8h-0.8zM122.0,91.7h0.8v0.8h-0.8zM125.0,91.3h0.8v0.8h-0.8zM130.6,91.1h0.8v0.8h-0.8zM134.8,91.3h0.8v0.8h-0.8zM139.4,91.6h0.8v0.8h-0.8zM117.5,94.0h0.8v0.8h-0.8zM120.7,93.4h0.8v0.8h-0.8zM121.1,93.3h0.8v0.8h-0.8zM123.2,93.7h0.8v0.8h-0.8zM124.6,93.7h0.8v0.8h-0.8zM126.8,93.7h0.8v0.8h-0.8zM129.7,93.1h0.8v0.8h-0.8zM140.1,93.3h0.8v0.8h-0.8zM132.1,94.1h0.8v0.8h-0.8zM138.1,94.1h0.8v0.8h-0.8zM140.2,95.0h0.8v0.8h-0.8zM120.7,95.3h0.8v0.8h-0.8zM127.9,95.8h0.8v0.8h-0.8zM130.8,95.9h0.8v0.8h-0.8zM137.4,95.8h0.8v0.8h-0.8zM126.8,96.5h0.8v0.8h-0.8zM138.9,96.0h0.8v0.8h-0.8zM121.6,97.9h0.8v0.8h-0.8zM144.4,97.7h0.8v0.8h-0.8zM122.8,98.2h0.8v0.8h-0.8zM129.4,99.0h0.8v0.8h-0.8zM130.7,98.5h0.8v0.8h-0.8zM131.4,98.8h0.8v0.8h-0.8zM132.5,98.4h0.8v0.8h-0.8zM138.9,98.1h0.8v0.8h-0.8zM143.5,98.8h0.8v0.8h-0.8zM128.0,99.3h0.8v0.8h-0.8zM130.9,99.8h0.8v0.8h-0.8zM137.4,99.0h0.8v0.8h-0.8zM135.7,100.0h0.8v0.8h-0.8zM137.9,100.1h0.8v0.8h-0.8zM141.0,100.8h0.8v0.8h-0.8zM128.7,101.6h0.8v0.8h-0.8zM129.4,101.5h0.8v0.8h-0.8zM132.5,101.2h0.8v0.8h-0.8zM133.3,101.7h0.8v0.8h-0.8zM127.3,102.5h0.8v0.8h-0.8zM136.2,102.1h0.8v0.8h-0.8zM126.4,103.3h0.8v0.8h-0.8zM135.8,103.5h0.8v0.8h-0.8zM139.0,103.8h0.8v0.8h-0.8zM140.7,103.7h0.8v0.8h-0.8zM137.9,104.6h0.8v0.8h-0.8zM140.6,104.8h0.8v0.8h-0.8zM135.7,105.2h0.8v0.8h-0.8zM139.5,105.0h0.8v0.8h-0.8zM140.7,105.5h0.8v0.8h-0.8z" fill="#aaa" />
<path d="M135.6,68.9h0.8v0.8h-0.8zM137.5,68.1h0.8v0.8h-0.8zM141.6,68.6h0.8v0.8h-0.8zM143.7,68.3h0.8v0.8h-0.8zM144.8,68.3h0.8v0.8h-0.8zM148.5,68.9h0.8v0.8h-0.8zM134.8,69.6h0.8v0.8h-0.8zM135.1,69.5h0.8v0.8h-0.8zM139.5,69.1h0.8v0.8h-0.8zM143.1,69.1h0.8v0.8h-0.8zM144.1,69.9h0.8v0.8h-0.8zM147.5,69.9h0.8v0.8h-0.8zM150.0,69.2h0.8v0.8h-0.8zM134.7,70.5h0.8v0.8h-0.8zM137.1,70.3h0.8v0.8h-0.8zM141.3,70.8h0.8v0.8h-0.8zM143.7,70.0h0.8v0.8h-0.8zM149.3,70.2h0.8v0.8h-0.8zM135.1,71.4h0.8v0.8h-0.8zM138.9,71.9h0.8v0.8h-0.8zM142.5,71.8h0.8v0.8h-0.8zM146.5,71.4h0.8v0.8h-0.8zM147.2,71.0h0.8v0.8h-0.8zM137.3,72.0h0.8v0.8h-0.8zM139.4,72.9h0.8v0.8h-0.8zM141.8,72.9h0.8v0.8h-0.8zM143.4,72.6h0.8v0.8h-0.8zM138.8,73.3h0.8v0.8h-0.8zM139.5,73.9h0.8v0.8h-0.8zM140.0,73.3h0.8v0.8h-0.8zM142.2,74.0h0.8v0.8h-0.8zM144.7,73.7h0.8v0.8h-0.8zM147.5,73.3h0.8v0.8h-0.8zM136.8,74.8h0.8v0.8h-0.8zM137.2,74.7h0.8v0.8h-0.8zM139.7,74.6h0.8v0.8h-0.8zM145.0,74.4h0.8v0.8h-0.8zM147.1,74.0h0.8v0.8h-0.8zM150.3,74.7h0.8v0.8h-0.8zM137.9,75.1h0.8v0.8h-0.8zM138.7,75.5h0.8v0.8h-0.8zM142.8,75.6h0.8v0.8h-0.8zM144.2,75.5h0.8v0.8h-0.8zM146.6,75.1h0.8v0.8h-0.8zM149.4,75.3h0.8v0.8h-0.8zM136.4,76.8h0.8v0.8h-0.8zM137.8,76.8h0.8v0.8h-0.8zM141.2,76.5h0.8v0.8h-0.8zM143.9,76.5h0.8v0.8h-0.8zM144.5,76.1h0.8v0.8h-0.8zM145.3,76.8h0.8v0.8h-0.8zM147.0,76.4h0.8v0.8h-0.8zM149.1,76.1h0.8v0.8h-0.8zM136.5,77.6h0.8v0.8h-0.8zM138.9,77.1h0.8v0.8h-0.8zM140.6,78.0h0.8v0.8h-0.8zM142.3,77.5h0.8v0.8h-0.8zM147.0,77.8h0.8v0.8h-0.8zM143.3,78.4h0.8v0.8h-0.8zM146.1,78.6h0.8v0.8h-0.8zM137.2,80.0h0.8v0.8h-0.8zM139.7,79.1h0.8v0.8h-0.8zM142.6,79.2h0.8v0.8h-0.8zM147.9,79.6h0.8v0.8h-0.8zM149.5,79.8h0.8v0.8h-0.8zM150.1,79.4h0.8v0.8h-0.8zM140.1,80.5h0.8v0.8h-0.8zM141.3,80.1h0.8v0.8h-0.8zM142.4,80.8h0.8v0.8h-0.8zM147.6,80.8h0.8v0.8h-0.8zM150.8,80.3h0.8v0.8h-0.8zM138.8,81.2h0.8v0.8h-0.8zM139.6,81.6h0.8v0.8h-0.8zM140.3,81.4h0.8v0.8h-0.8zM142.0,81.4h0.8v0.8h-0.8zM143.9,81.2h0.8v0.8h-0.8zM149.9,82.0h0.8v0.8h-0.8zM150.5,81.9h0.8v0.8h-0.8zM138.8,82.6h0.8v0.8h-0.8zM140.8,82.0h0.8v0.8h-0.8zM142.1,82.6h0.8v0.8h-0.8zM144.4,82.2h0.8v0.8h-0.8zM146.5,82.2h0.8v0.8h-0.8zM139.7,83.2h0.8v0.8h-0.8zM143.6,83.9h0.8v0.8h-0.8zM148.3,83.5h0.8v0.8h-0.8zM150.3,83.7h0.8v0.8h-0.8zM139.5,85.0h0.8v0.8h-0.8zM142.7,84.7h0.8v0.8h-0.8zM143.8,84.8h0.8v0.8h-0.8zM149.4,84.2h0.8v0.8h-0.8zM139.7,85.3h0.8v0.8h-0.8zM142.4,85.1h0.8v0.8h-0.8zM143.0,85.6h0.8v0.8h-0.8zM146.1,85.4h0.8v0.8h-0.8zM148.2,85.2h0.8v0.8h-0.8zM139.8,86.3h0.8v0.8h-0.8zM140.2,86.4h0.8v0.8h-0.8zM141.3,86.9h0.8v0.8h-0.8zM146.5,86.9h0.8v0.8h-0.8zM149.0,86.5h0.8v0.8h-0.8zM140.5,87.7h0.8v0.8h-0.8zM142.2,87.9h0.8v0.8h-0.8zM144.7,87.2h0.8v0.8h-0.8zM145.7,87.4h0.8v0.8h-0.8zM146.4,88.0h0.8v0.8h-0.8zM149.1,87.8h0.8v0.8h-0.8zM142.2,88.9h0.8v0.8h-0.8zM147.5,88.3h0.8v0.8h-0.8zM141.0,89.4h0.8v0.8h-0.8zM144.1,89.3h0.8v0.8h-0.8zM146.2,89.9h0.8v0.8h-0.8zM148.3,89.8h0.8v0.8h-0.8zM144.1,90.3h0.8v0.8h-0.8z" fill="#9a9a9a" />
<path d="M102.0,57.1 102.2,56.5 102.5,55.5 102.6,55.0 103.0,54.0 103.2,53.5 103.6,53.0 104.2,52.5 105.0,52.1 105.5,52.0 106.5,51.8 107.5,51.7 108.2,51.5 109.0,51.3 110.0,51.1 111.0,51.0 111.5,51.0 112.1,51.0 113.0,51.1 114.0,51.3 114.6,51.5 115.5,51.8 116.0,52.0 116.9,52.5 117.4,53.0 118.0,53.5 118.5,54.0 118.9,54.5 119.3,55.0 119.6,55.5 119.9,56.5 120.0,57.5 119.8,58.5 119.5,59.1 119.0,59.8 118.5,60.3 118.0,60.8 117.5,61.1 116.8,61.5 116.0,61.9 115.5,62.1 114.5,62.4 114.0,62.5 113.0,63.0 112.5,63.4 112.0,63.8 111.5,64.3 111.0,64.7 110.5,65.1 109.6,65.5 109.0,65.7 108.1,66.0 107.5,66.2 106.5,66.4 105.5,66.2 105.0,65.9 104.5,65.5 104.0,65.0 103.5,64.5 103.0,63.9 102.5,63.3 102.1,62.5 102.0,61.8 102.0,61.8 M107.0,64.6 106.0,64.5 105.5,64.2 105.0,63.8 104.5,63.2 104.1,62.5 104.0,62.0 103.7,61.0 103.5,60.0 103.5,59.5 103.5,58.7 103.6,58.0 104.0,57.0 104.1,56.5 104.4,55.5 104.5,55.0 105.0,54.3 105.5,53.8 106.1,53.5 107.0,53.2 107.9,53.0 108.5,52.9 109.5,52.8 110.5,52.8 111.5,52.9 112.5,53.0 113.0,53.0 114.0,53.2 115.0,53.4 115.5,53.7 116.1,54.0 116.6,54.5 117.0,55.1 117.3,56.0 117.4,57.0 117.4,58.0 117.3,59.0 117.0,59.5 116.3,60.0 115.5,60.4 115.0,60.5 114.0,60.7 113.3,61.0 112.5,61.4 112.0,61.8 111.5,62.1 111.0,62.5 110.3,63.0 109.6,63.5 109.0,63.9 108.5,64.1 107.5,64.5 107.0,64.6Z M108.0,62.5 107.0,62.6 106.5,62.5 105.9,62.0 105.5,61.5 105.0,60.7 104.8,60.0 104.7,59.0 104.9,58.0 105.1,57.5 105.4,56.5 105.7,56.0 106.1,55.5 106.7,55.0 107.5,54.7 108.5,54.5 109.5,54.7 110.1,55.0 110.9,55.5 111.5,55.8 112.0,56.1 113.0,56.3 114.0,56.3 115.0,56.5 115.5,57.0 115.7,57.5 115.6,58.5 115.0,59.0 114.5,59.1 113.5,59.4 113.0,59.6 112.4,60.0 111.9,60.5 111.2,61.0 110.5,61.5 110.0,61.8 109.5,62.0 108.5,62.4 108.0,62.5Z" fill="none" stroke="#666" stroke-width="0.7" stroke-linejoin="round" clip-path="url(#cA2)" />
<path d="M102.0,98.0 102.4,97.0 102.6,96.5 102.7,95.5 102.9,94.5 103.1,94.0 103.5,93.3 104.0,92.7 104.5,92.4 105.4,92.0 106.0,91.9 107.0,91.7 107.6,91.5 108.5,91.0 109.0,90.8 109.6,90.5 110.5,90.3 111.5,90.1 112.5,90.1 113.5,90.4 114.0,90.7 114.5,91.1 115.1,91.5 116.0,91.9 117.0,91.8 118.0,91.7 119.0,91.8 119.5,92.0 120.3,92.5 120.8,93.0 121.2,93.5 121.5,94.4 121.7,95.0 121.8,96.0 121.8,97.0 121.9,98.0 122.0,98.8 122.0,99.5 122.0,100.2 121.8,101.0 121.5,101.8 121.4,102.5 121.1,103.5 120.9,104.0 120.5,104.8 120.2,105.5 120.0,106.0 119.7,107.0 119.3,107.5 118.7,108.0 118.7,108.0 M106.3,108.0 105.8,107.5 105.3,107.0 104.8,106.5 104.3,106.0 103.8,105.5 103.3,105.0 102.9,104.5 102.5,104.0 102.0,103.3 102.0,103.3 M109.0,108.0 108.3,107.5 107.6,107.0 107.0,106.5 106.5,106.0 106.0,105.5 105.6,105.0 105.2,104.5 105.0,104.0 104.5,103.0 104.2,102.5 104.0,101.6 104.0,101.0 104.1,100.5 104.5,99.5 104.9,99.0 105.5,98.6 106.0,98.2 106.2,97.5 105.9,97.0 105.5,96.5 105.0,96.0 104.5,95.1 104.4,94.5 104.6,94.0 105.2,93.5 106.0,93.3 107.0,93.3 108.0,93.1 108.5,92.9 109.4,92.5 110.0,92.2 110.5,91.9 111.5,91.6 112.0,91.5 112.5,91.5 113.5,92.0 114.0,92.5 114.5,93.0 115.0,93.5 115.5,93.9 116.0,94.0 116.8,94.0 117.5,93.9 118.5,93.9 119.0,94.3 119.3,95.0 119.4,96.0 119.5,97.0 119.5,97.5 119.5,98.0 119.1,99.0 118.9,99.5 118.5,100.4 118.4,101.0 118.4,102.0 118.5,102.5 118.6,103.5 118.5,104.3 118.3,105.0 118.0,105.5 117.5,106.1 116.5,106.4 115.5,106.0 115.0,105.7 114.0,105.7 113.5,106.0 113.0,106.7 112.5,107.5 112.2,108.0 112.2,108.0 M111.0,107.3 110.0,107.3 109.4,107.0 108.7,106.5 108.1,106.0 107.7,105.5 107.4,105.0 107.1,104.0 107.0,103.2 106.6,102.5 106.3,102.0 106.4,101.0 107.0,100.9 108.0,100.5 108.2,100.0 108.4,99.0 108.3,98.0 108.0,97.0 107.8,96.5 107.5,95.9 107.2,95.0 108.0,94.5 108.5,94.3 109.1,94.0 110.0,93.6 110.5,93.4 111.5,93.1 112.0,93.0 112.5,93.1 113.1,93.5 113.5,94.0 114.0,94.9 114.2,95.5 114.5,96.1 115.0,96.9 115.4,97.5 115.8,98.0 115.9,99.0 115.6,100.0 115.7,101.0 116.0,101.7 116.3,102.5 116.0,103.0 115.0,103.2 114.2,103.5 113.5,103.8 113.0,104.2 112.5,104.9 112.2,105.5 112.0,106.0 111.5,106.9 111.0,107.3Z M110.5,106.2 109.5,106.0 109.0,105.6 108.7,105.0 108.7,104.0 109.1,103.5 109.8,103.0 110.4,102.5 110.3,101.5 110.0,101.0 109.6,100.0 109.4,99.5 109.2,98.5 109.1,97.5 109.0,97.0 108.9,96.0 109.1,95.5 109.5,95.0 110.5,94.6 111.5,94.7 112.0,95.0 112.5,95.6 113.0,96.3 113.5,97.0 113.8,97.5 114.0,98.0 114.2,99.0 114.0,100.0 113.9,100.5 113.6,101.5 113.3,102.0 112.6,102.5 112.0,102.8 111.5,103.5 111.5,104.0 111.3,105.0 111.0,105.9 110.5,106.2Z" fill="none" stroke="#555" stroke-width="0.7" stroke-linejoin="round" clip-path="url(#cA2)" />
<path d="M106.8,69.0 C107.0,70.2 107.1,74.1 107.8,76.5 C108.5,78.9 109.6,81.5 110.7,83.2 C111.8,85.0 113.2,86.0 114.5,87.0 C115.8,88.0 117.7,88.7 118.3,89.0" fill="none" stroke="#777" stroke-width="0.7" stroke-linejoin="round" />
<path d="M113.5,69.0 C113.8,70.6 114.7,76.0 115.5,78.4 C116.3,80.8 117.0,81.9 118.3,83.2 C119.5,84.5 121.7,85.0 123.0,86.0 C124.3,87.0 125.0,87.9 126.0,89.0 C127.0,90.1 127.9,91.5 129.0,92.8 C130.1,94.1 131.4,95.6 132.8,96.7 C134.2,97.8 136.2,98.5 137.6,99.6 C139.0,100.6 140.4,102.4 141.0,103.0" fill="none" stroke="#777" stroke-width="0.7" stroke-linejoin="round" />
<path d="M120.3,69.0 C120.9,70.2 123.2,74.5 124.0,76.5 C124.8,78.5 124.2,79.7 125.0,81.3 C125.8,82.9 127.5,84.2 129.0,86.0 C130.4,87.8 132.3,90.3 133.7,91.9 C135.1,93.5 136.8,94.3 137.6,95.7 C138.4,97.1 138.5,99.0 138.5,100.5 C138.5,102.0 137.5,103.2 137.6,104.4 C137.7,105.6 138.8,107.0 139.0,107.5" fill="none" stroke="#777" stroke-width="0.7" stroke-linejoin="round" />
<path d="M125.0,69.0 C125.7,70.1 127.9,73.8 129.0,75.5 C130.1,77.2 131.0,78.0 131.8,79.4 C132.6,80.9 133.1,82.8 133.7,84.2 C134.3,85.6 134.6,86.7 135.6,88.0 C136.6,89.3 138.6,90.7 139.5,91.9 C140.4,93.1 140.8,94.5 141.0,95.0" fill="none" stroke="#888" stroke-width="0.7" stroke-linejoin="round" />
<path d="M133.7,68.5 C134.0,69.5 135.0,72.9 135.6,74.6 C136.2,76.2 136.6,77.2 137.0,78.4 C137.4,79.6 137.8,81.4 138.0,82.0" fill="none" stroke="#999" stroke-width="0.7" stroke-linejoin="round" />
<path d="M104.8,80.0 C105.3,81.0 107.0,84.5 108.0,86.0 C109.0,87.5 110.5,88.5 111.0,89.0" fill="none" stroke="#888" stroke-width="0.7" stroke-linejoin="round" />
<path d="M150.5,99.5 150.0,99.5 149.0,99.4 148.0,99.0 147.5,98.7 147.0,98.2 146.8,97.5 147.0,96.8 147.5,96.3 148.0,96.0 149.0,95.6 150.0,95.5 150.5,95.5 151.0,95.5 152.0,95.6 153.0,96.0 153.5,96.3 154.0,96.8 154.2,97.5 154.0,98.2 153.5,98.7 153.0,99.0 152.0,99.4 151.0,99.5 150.5,99.5Z M151.0,98.6 150.0,98.6 149.5,98.4 148.7,98.0 148.5,97.5 148.7,97.0 149.5,96.6 150.0,96.4 151.0,96.4 151.5,96.6 152.3,97.0 152.5,97.5 152.3,98.0 151.5,98.4 151.0,98.6Z" fill="none" stroke="#666" stroke-width="0.7" stroke-linejoin="round" clip-path="url(#cA2)" />
<line x1="124.5" y1="55.5" x2="134.5" y2="57" stroke="#777" stroke-width="0.8" />
<line x1="124.5" y1="64" x2="134.5" y2="60.5" stroke="#888" stroke-width="0.8" />
<rect x="102.4" y="49" width="2.1999999999999886" height="59" fill="#1e1e1e" stroke="none" stroke-width="0" />
<rect x="102" y="105.8" width="68" height="2.4000000000000057" fill="#666" stroke="none" stroke-width="0" />
<rect x="102" y="106.8" width="33" height="1.4000000000000057" fill="#333" stroke="none" stroke-width="0" />
<path d="M258.8,51.3h0.85v0.85h-0.85zM259.8,51.7h0.85v0.85h-0.85zM260.8,51.5h0.85v0.85h-0.85zM266.9,51.3h0.85v0.85h-0.85zM267.8,51.5h0.85v0.85h-0.85zM255.2,52.3h0.85v0.85h-0.85zM258.2,52.4h0.85v0.85h-0.85zM260.3,52.6h0.85v0.85h-0.85zM260.9,52.4h0.85v0.85h-0.85zM262.8,52.4h0.85v0.85h-0.85zM268.2,52.8h0.85v0.85h-0.85zM273.3,52.3h0.85v0.85h-0.85zM253.8,53.4h0.85v0.85h-0.85zM257.8,53.4h0.85v0.85h-0.85zM260.2,53.4h0.85v0.85h-0.85zM260.9,53.5h0.85v0.85h-0.85zM261.8,53.5h0.85v0.85h-0.85zM265.2,53.3h0.85v0.85h-0.85zM267.0,53.5h0.85v0.85h-0.85zM270.9,53.3h0.85v0.85h-0.85zM272.9,53.7h0.85v0.85h-0.85zM274.3,53.8h0.85v0.85h-0.85zM274.9,53.4h0.85v0.85h-0.85zM276.3,53.3h0.85v0.85h-0.85zM278.8,53.7h0.85v0.85h-0.85zM248.0,54.7h0.85v0.85h-0.85zM250.8,54.4h0.85v0.85h-0.85zM251.8,54.4h0.85v0.85h-0.85zM253.2,54.7h0.85v0.85h-0.85zM253.9,54.5h0.85v0.85h-0.85zM254.8,54.5h0.85v0.85h-0.85zM256.3,54.3h0.85v0.85h-0.85zM257.2,54.2h0.85v0.85h-0.85zM259.8,54.2h0.85v0.85h-0.85zM262.0,54.3h0.85v0.85h-0.85zM264.0,54.4h0.85v0.85h-0.85zM264.9,54.6h0.85v0.85h-0.85zM266.2,54.6h0.85v0.85h-0.85zM266.8,54.7h0.85v0.85h-0.85zM268.2,54.2h0.85v0.85h-0.85zM268.8,54.3h0.85v0.85h-0.85zM269.9,54.4h0.85v0.85h-0.85zM272.2,54.7h0.85v0.85h-0.85zM274.2,54.7h0.85v0.85h-0.85zM276.2,54.7h0.85v0.85h-0.85zM277.8,54.4h0.85v0.85h-0.85zM278.8,54.3h0.85v0.85h-0.85zM279.9,54.5h0.85v0.85h-0.85zM281.0,54.3h0.85v0.85h-0.85zM247.1,55.4h0.85v0.85h-0.85zM247.7,55.5h0.85v0.85h-0.85zM249.9,55.6h0.85v0.85h-0.85zM251.2,55.4h0.85v0.85h-0.85zM252.9,55.7h0.85v0.85h-0.85zM256.0,55.4h0.85v0.85h-0.85zM256.7,55.5h0.85v0.85h-0.85zM258.3,55.6h0.85v0.85h-0.85zM259.2,55.7h0.85v0.85h-0.85zM260.3,55.5h0.85v0.85h-0.85zM260.7,55.3h0.85v0.85h-0.85zM265.1,55.6h0.85v0.85h-0.85zM266.3,55.3h0.85v0.85h-0.85zM268.3,55.6h0.85v0.85h-0.85zM271.8,55.4h0.85v0.85h-0.85zM274.0,55.7h0.85v0.85h-0.85zM276.1,55.6h0.85v0.85h-0.85zM281.3,55.6h0.85v0.85h-0.85zM281.9,55.4h0.85v0.85h-0.85zM285.0,55.3h0.85v0.85h-0.85zM286.8,55.2h0.85v0.85h-0.85zM287.7,55.8h0.85v0.85h-0.85zM289.0,55.8h0.85v0.85h-0.85zM289.9,55.6h0.85v0.85h-0.85zM290.9,55.6h0.85v0.85h-0.85zM293.2,55.4h0.85v0.85h-0.85zM248.2,56.7h0.85v0.85h-0.85zM251.2,56.4h0.85v0.85h-0.85zM251.8,56.7h0.85v0.85h-0.85zM253.0,56.4h0.85v0.85h-0.85zM254.2,56.5h0.85v0.85h-0.85zM255.1,56.3h0.85v0.85h-0.85zM256.8,56.6h0.85v0.85h-0.85zM258.2,56.7h0.85v0.85h-0.85zM258.9,56.7h0.85v0.85h-0.85zM261.1,56.4h0.85v0.85h-0.85zM264.9,56.4h0.85v0.85h-0.85zM266.2,56.3h0.85v0.85h-0.85zM267.1,56.5h0.85v0.85h-0.85zM268.1,56.7h0.85v0.85h-0.85zM268.9,56.5h0.85v0.85h-0.85zM270.0,56.3h0.85v0.85h-0.85zM271.9,56.3h0.85v0.85h-0.85zM272.8,56.6h0.85v0.85h-0.85zM274.3,56.5h0.85v0.85h-0.85zM274.9,56.5h0.85v0.85h-0.85zM276.2,56.7h0.85v0.85h-0.85zM277.2,56.3h0.85v0.85h-0.85zM277.8,56.2h0.85v0.85h-0.85zM282.0,56.8h0.85v0.85h-0.85zM282.9,56.5h0.85v0.85h-0.85zM283.9,56.7h0.85v0.85h-0.85zM285.3,56.6h0.85v0.85h-0.85zM290.0,56.4h0.85v0.85h-0.85zM292.1,56.6h0.85v0.85h-0.85zM293.9,56.3h0.85v0.85h-0.85zM245.2,57.4h0.85v0.85h-0.85zM245.9,57.6h0.85v0.85h-0.85zM246.8,57.4h0.85v0.85h-0.85zM248.9,57.4h0.85v0.85h-0.85zM250.2,57.3h0.85v0.85h-0.85zM250.7,57.3h0.85v0.85h-0.85zM252.0,57.5h0.85v0.85h-0.85zM253.2,57.4h0.85v0.85h-0.85zM255.1,57.8h0.85v0.85h-0.85zM258.2,57.4h0.85v0.85h-0.85zM259.3,57.6h0.85v0.85h-0.85zM259.8,57.7h0.85v0.85h-0.85zM262.9,57.7h0.85v0.85h-0.85zM263.9,57.5h0.85v0.85h-0.85zM264.8,57.2h0.85v0.85h-0.85zM266.2,57.4h0.85v0.85h-0.85zM268.0,57.3h0.85v0.85h-0.85zM270.1,57.7h0.85v0.85h-0.85zM271.1,57.7h0.85v0.85h-0.85zM273.0,57.5h0.85v0.85h-0.85zM274.8,57.3h0.85v0.85h-0.85zM276.2,57.3h0.85v0.85h-0.85zM276.9,57.6h0.85v0.85h-0.85zM282.0,57.5h0.85v0.85h-0.85zM283.1,57.4h0.85v0.85h-0.85zM284.0,57.6h0.85v0.85h-0.85zM285.0,57.7h0.85v0.85h-0.85zM287.0,57.4h0.85v0.85h-0.85zM289.8,57.3h0.85v0.85h-0.85zM290.8,57.5h0.85v0.85h-0.85zM291.9,57.8h0.85v0.85h-0.85zM293.3,57.7h0.85v0.85h-0.85zM293.8,57.4h0.85v0.85h-0.85zM241.1,58.7h0.85v0.85h-0.85zM241.7,58.5h0.85v0.85h-0.85zM244.2,58.6h0.85v0.85h-0.85zM245.2,58.3h0.85v0.85h-0.85zM246.0,58.8h0.85v0.85h-0.85zM253.3,58.6h0.85v0.85h-0.85zM255.1,58.3h0.85v0.85h-0.85zM255.8,58.3h0.85v0.85h-0.85zM256.8,58.7h0.85v0.85h-0.85zM261.2,58.7h0.85v0.85h-0.85zM269.9,58.2h0.85v0.85h-0.85zM273.2,58.6h0.85v0.85h-0.85zM273.7,58.7h0.85v0.85h-0.85zM274.8,58.4h0.85v0.85h-0.85zM277.2,58.3h0.85v0.85h-0.85zM279.2,58.5h0.85v0.85h-0.85zM280.0,58.4h0.85v0.85h-0.85zM280.9,58.4h0.85v0.85h-0.85zM281.9,58.7h0.85v0.85h-0.85zM285.3,58.6h0.85v0.85h-0.85zM285.9,58.6h0.85v0.85h-0.85zM290.1,58.3h0.85v0.85h-0.85zM293.1,58.6h0.85v0.85h-0.85zM240.0,59.5h0.85v0.85h-0.85zM245.1,59.3h0.85v0.85h-0.85zM245.8,59.6h0.85v0.85h-0.85zM248.1,59.8h0.85v0.85h-0.85zM249.0,59.7h0.85v0.85h-0.85zM253.3,59.6h0.85v0.85h-0.85zM253.8,59.7h0.85v0.85h-0.85zM255.1,59.7h0.85v0.85h-0.85zM255.9,59.5h0.85v0.85h-0.85zM271.2,59.6h0.85v0.85h-0.85zM272.2,59.8h0.85v0.85h-0.85zM272.8,59.4h0.85v0.85h-0.85zM275.1,59.7h0.85v0.85h-0.85zM275.8,59.4h0.85v0.85h-0.85zM278.9,59.7h0.85v0.85h-0.85zM282.0,59.6h0.85v0.85h-0.85zM284.0,59.5h0.85v0.85h-0.85zM284.8,59.2h0.85v0.85h-0.85zM286.1,59.4h0.85v0.85h-0.85zM287.3,59.6h0.85v0.85h-0.85zM287.8,59.6h0.85v0.85h-0.85zM288.8,59.5h0.85v0.85h-0.85zM291.3,59.8h0.85v0.85h-0.85zM292.1,59.2h0.85v0.85h-0.85zM292.7,59.7h0.85v0.85h-0.85zM294.8,59.3h0.85v0.85h-0.85zM295.9,59.6h0.85v0.85h-0.85zM296.8,59.8h0.85v0.85h-0.85zM298.1,59.7h0.85v0.85h-0.85zM239.3,60.6h0.85v0.85h-0.85zM240.2,60.6h0.85v0.85h-0.85zM243.1,60.7h0.85v0.85h-0.85zM244.0,60.7h0.85v0.85h-0.85zM249.8,60.2h0.85v0.85h-0.85zM251.1,60.4h0.85v0.85h-0.85zM252.8,60.2h0.85v0.85h-0.85zM254.8,60.7h0.85v0.85h-0.85zM270.7,60.5h0.85v0.85h-0.85zM271.9,60.6h0.85v0.85h-0.85zM274.3,60.5h0.85v0.85h-0.85zM275.1,60.2h0.85v0.85h-0.85zM278.2,60.3h0.85v0.85h-0.85zM280.2,60.3h0.85v0.85h-0.85zM283.1,60.7h0.85v0.85h-0.85zM285.1,60.3h0.85v0.85h-0.85zM287.3,60.6h0.85v0.85h-0.85zM288.8,60.2h0.85v0.85h-0.85zM290.1,60.8h0.85v0.85h-0.85zM291.9,60.6h0.85v0.85h-0.85zM292.8,60.8h0.85v0.85h-0.85zM293.7,60.8h0.85v0.85h-0.85zM294.8,60.5h0.85v0.85h-0.85zM296.3,60.8h0.85v0.85h-0.85zM296.8,60.5h0.85v0.85h-0.85zM298.8,60.2h0.85v0.85h-0.85zM301.2,60.5h0.85v0.85h-0.85zM302.3,60.5h0.85v0.85h-0.85zM239.2,61.7h0.85v0.85h-0.85zM239.7,61.3h0.85v0.85h-0.85zM240.9,61.5h0.85v0.85h-0.85zM242.3,61.7h0.85v0.85h-0.85zM244.3,61.4h0.85v0.85h-0.85zM245.8,61.5h0.85v0.85h-0.85zM247.0,61.3h0.85v0.85h-0.85zM250.2,61.7h0.85v0.85h-0.85zM251.1,61.6h0.85v0.85h-0.85zM278.1,61.5h0.85v0.85h-0.85zM278.7,61.3h0.85v0.85h-0.85zM280.1,61.7h0.85v0.85h-0.85zM281.2,61.2h0.85v0.85h-0.85zM284.0,61.6h0.85v0.85h-0.85zM286.9,61.8h0.85v0.85h-0.85zM288.0,61.7h0.85v0.85h-0.85zM289.0,61.7h0.85v0.85h-0.85zM289.8,61.5h0.85v0.85h-0.85zM291.1,61.3h0.85v0.85h-0.85zM292.0,61.8h0.85v0.85h-0.85zM293.1,61.8h0.85v0.85h-0.85zM294.9,61.4h0.85v0.85h-0.85zM295.8,61.5h0.85v0.85h-0.85zM297.8,61.5h0.85v0.85h-0.85zM298.9,61.4h0.85v0.85h-0.85zM301.1,61.5h0.85v0.85h-0.85zM302.9,61.6h0.85v0.85h-0.85zM240.1,62.4h0.85v0.85h-0.85zM241.0,62.8h0.85v0.85h-0.85zM246.1,62.5h0.85v0.85h-0.85zM249.1,62.3h0.85v0.85h-0.85zM278.8,62.3h0.85v0.85h-0.85zM281.7,62.5h0.85v0.85h-0.85zM283.1,62.5h0.85v0.85h-0.85zM283.8,62.6h0.85v0.85h-0.85zM284.7,62.7h0.85v0.85h-0.85zM287.0,62.6h0.85v0.85h-0.85zM288.1,62.5h0.85v0.85h-0.85zM289.1,62.8h0.85v0.85h-0.85zM289.9,62.5h0.85v0.85h-0.85zM291.1,62.3h0.85v0.85h-0.85zM294.1,62.3h0.85v0.85h-0.85zM295.8,62.6h0.85v0.85h-0.85zM296.8,62.4h0.85v0.85h-0.85zM299.0,62.6h0.85v0.85h-0.85zM300.8,62.4h0.85v0.85h-0.85zM302.1,62.2h0.85v0.85h-0.85zM303.2,62.8h0.85v0.85h-0.85zM241.1,63.3h0.85v0.85h-0.85zM243.3,63.6h0.85v0.85h-0.85zM243.9,63.6h0.85v0.85h-0.85zM245.8,63.4h0.85v0.85h-0.85zM280.0,63.4h0.85v0.85h-0.85zM281.0,63.6h0.85v0.85h-0.85zM282.0,63.5h0.85v0.85h-0.85zM283.8,63.5h0.85v0.85h-0.85zM285.1,63.4h0.85v0.85h-0.85zM286.2,63.5h0.85v0.85h-0.85zM286.7,63.2h0.85v0.85h-0.85zM288.0,63.5h0.85v0.85h-0.85zM290.3,63.4h0.85v0.85h-0.85zM291.2,63.3h0.85v0.85h-0.85zM292.9,63.3h0.85v0.85h-0.85zM294.3,63.5h0.85v0.85h-0.85zM294.9,63.5h0.85v0.85h-0.85zM297.3,63.2h0.85v0.85h-0.85zM297.9,63.5h0.85v0.85h-0.85zM298.9,63.6h0.85v0.85h-0.85zM300.0,63.6h0.85v0.85h-0.85zM301.2,63.6h0.85v0.85h-0.85zM239.9,64.4h0.85v0.85h-0.85zM245.2,64.6h0.85v0.85h-0.85zM245.7,64.3h0.85v0.85h-0.85zM281.0,64.3h0.85v0.85h-0.85zM281.8,64.4h0.85v0.85h-0.85zM283.2,64.4h0.85v0.85h-0.85zM286.0,64.2h0.85v0.85h-0.85zM287.1,64.5h0.85v0.85h-0.85zM287.9,64.4h0.85v0.85h-0.85zM288.8,64.7h0.85v0.85h-0.85zM290.1,64.4h0.85v0.85h-0.85zM295.1,64.5h0.85v0.85h-0.85zM296.2,64.3h0.85v0.85h-0.85zM298.2,64.7h0.85v0.85h-0.85zM299.9,64.4h0.85v0.85h-0.85zM304.3,64.3h0.85v0.85h-0.85zM239.3,65.3h0.85v0.85h-0.85zM240.9,65.4h0.85v0.85h-0.85zM242.1,65.6h0.85v0.85h-0.85zM243.2,65.8h0.85v0.85h-0.85zM244.0,65.8h0.85v0.85h-0.85zM245.2,65.8h0.85v0.85h-0.85zM245.7,65.7h0.85v0.85h-0.85zM280.8,65.5h0.85v0.85h-0.85zM281.8,65.4h0.85v0.85h-0.85zM285.9,65.6h0.85v0.85h-0.85zM288.0,65.7h0.85v0.85h-0.85zM288.9,65.6h0.85v0.85h-0.85zM290.2,65.3h0.85v0.85h-0.85zM294.3,65.5h0.85v0.85h-0.85zM295.1,65.3h0.85v0.85h-0.85zM298.0,65.6h0.85v0.85h-0.85zM299.2,65.6h0.85v0.85h-0.85zM299.9,65.5h0.85v0.85h-0.85zM301.7,65.5h0.85v0.85h-0.85zM238.9,66.4h0.85v0.85h-0.85zM240.0,66.2h0.85v0.85h-0.85zM244.0,66.3h0.85v0.85h-0.85zM244.9,66.8h0.85v0.85h-0.85zM282.0,66.4h0.85v0.85h-0.85zM282.9,66.6h0.85v0.85h-0.85zM284.0,66.3h0.85v0.85h-0.85zM285.9,66.4h0.85v0.85h-0.85zM287.1,66.6h0.85v0.85h-0.85zM288.3,66.4h0.85v0.85h-0.85zM289.9,66.5h0.85v0.85h-0.85zM292.3,66.4h0.85v0.85h-0.85zM293.3,66.5h0.85v0.85h-0.85zM294.2,66.5h0.85v0.85h-0.85zM295.0,66.3h0.85v0.85h-0.85zM296.0,66.3h0.85v0.85h-0.85zM296.8,66.7h0.85v0.85h-0.85zM297.8,66.8h0.85v0.85h-0.85zM299.0,66.5h0.85v0.85h-0.85zM301.7,66.2h0.85v0.85h-0.85zM304.3,66.4h0.85v0.85h-0.85zM239.9,67.7h0.85v0.85h-0.85zM241.9,67.7h0.85v0.85h-0.85zM243.1,67.6h0.85v0.85h-0.85zM243.8,67.7h0.85v0.85h-0.85zM283.1,67.8h0.85v0.85h-0.85zM283.8,67.7h0.85v0.85h-0.85zM286.0,67.7h0.85v0.85h-0.85zM288.2,67.7h0.85v0.85h-0.85zM290.0,67.4h0.85v0.85h-0.85zM291.8,67.3h0.85v0.85h-0.85zM292.8,67.6h0.85v0.85h-0.85zM293.8,67.8h0.85v0.85h-0.85zM295.1,67.4h0.85v0.85h-0.85zM298.1,67.7h0.85v0.85h-0.85zM304.2,67.7h0.85v0.85h-0.85zM305.2,67.3h0.85v0.85h-0.85zM305.9,67.4h0.85v0.85h-0.85zM240.2,68.4h0.85v0.85h-0.85zM240.8,68.4h0.85v0.85h-0.85zM242.2,68.7h0.85v0.85h-0.85zM243.2,68.6h0.85v0.85h-0.85zM290.2,68.4h0.85v0.85h-0.85zM293.9,68.5h0.85v0.85h-0.85zM297.9,68.5h0.85v0.85h-0.85zM299.1,68.6h0.85v0.85h-0.85zM299.9,68.5h0.85v0.85h-0.85zM301.0,68.6h0.85v0.85h-0.85zM302.1,68.3h0.85v0.85h-0.85zM303.2,68.8h0.85v0.85h-0.85zM304.0,68.4h0.85v0.85h-0.85zM241.8,69.4h0.85v0.85h-0.85zM290.8,69.7h0.85v0.85h-0.85zM293.7,69.7h0.85v0.85h-0.85zM298.0,69.6h0.85v0.85h-0.85zM299.2,69.8h0.85v0.85h-0.85zM300.3,69.3h0.85v0.85h-0.85zM301.2,69.7h0.85v0.85h-0.85zM302.2,69.5h0.85v0.85h-0.85zM303.0,69.5h0.85v0.85h-0.85zM240.9,70.5h0.85v0.85h-0.85zM242.1,70.2h0.85v0.85h-0.85zM243.3,70.4h0.85v0.85h-0.85zM290.9,70.7h0.85v0.85h-0.85zM291.8,70.3h0.85v0.85h-0.85zM292.7,70.5h0.85v0.85h-0.85zM295.1,70.4h0.85v0.85h-0.85zM296.8,70.7h0.85v0.85h-0.85zM299.1,70.4h0.85v0.85h-0.85zM300.8,70.3h0.85v0.85h-0.85zM306.2,70.7h0.85v0.85h-0.85zM240.2,71.7h0.85v0.85h-0.85zM241.3,71.2h0.85v0.85h-0.85zM242.7,71.7h0.85v0.85h-0.85zM293.1,71.7h0.85v0.85h-0.85zM296.0,71.2h0.85v0.85h-0.85zM296.9,71.8h0.85v0.85h-0.85zM298.0,71.4h0.85v0.85h-0.85zM299.0,71.7h0.85v0.85h-0.85zM300.1,71.7h0.85v0.85h-0.85zM301.2,71.4h0.85v0.85h-0.85zM303.2,71.8h0.85v0.85h-0.85zM303.8,71.6h0.85v0.85h-0.85zM304.8,71.4h0.85v0.85h-0.85zM242.0,72.7h0.85v0.85h-0.85zM292.1,72.5h0.85v0.85h-0.85zM293.1,72.5h0.85v0.85h-0.85zM293.7,72.4h0.85v0.85h-0.85zM299.2,72.7h0.85v0.85h-0.85zM302.3,72.4h0.85v0.85h-0.85zM302.7,72.6h0.85v0.85h-0.85zM303.8,72.2h0.85v0.85h-0.85zM305.0,72.3h0.85v0.85h-0.85zM242.0,73.3h0.85v0.85h-0.85zM293.2,73.7h0.85v0.85h-0.85zM298.1,73.8h0.85v0.85h-0.85zM298.7,73.6h0.85v0.85h-0.85zM300.7,73.7h0.85v0.85h-0.85zM304.3,73.4h0.85v0.85h-0.85zM305.8,73.7h0.85v0.85h-0.85zM242.0,74.7h0.85v0.85h-0.85zM293.3,74.7h0.85v0.85h-0.85zM293.8,74.4h0.85v0.85h-0.85zM295.3,74.4h0.85v0.85h-0.85zM297.1,74.7h0.85v0.85h-0.85zM297.9,74.6h0.85v0.85h-0.85zM299.1,74.3h0.85v0.85h-0.85zM302.2,74.8h0.85v0.85h-0.85zM240.0,75.6h0.85v0.85h-0.85zM241.9,75.4h0.85v0.85h-0.85zM244.2,75.3h0.85v0.85h-0.85zM296.8,75.4h0.85v0.85h-0.85zM298.8,75.6h0.85v0.85h-0.85zM300.0,75.7h0.85v0.85h-0.85zM304.1,75.3h0.85v0.85h-0.85zM304.8,75.5h0.85v0.85h-0.85zM307.2,75.5h0.85v0.85h-0.85zM242.9,76.3h0.85v0.85h-0.85zM244.1,76.6h0.85v0.85h-0.85zM295.0,76.8h0.85v0.85h-0.85zM296.2,76.3h0.85v0.85h-0.85zM296.7,76.7h0.85v0.85h-0.85zM298.8,76.3h0.85v0.85h-0.85zM300.7,76.3h0.85v0.85h-0.85zM302.1,76.5h0.85v0.85h-0.85zM302.9,76.6h0.85v0.85h-0.85zM306.0,76.7h0.85v0.85h-0.85zM240.0,77.6h0.85v0.85h-0.85zM241.3,77.3h0.85v0.85h-0.85zM295.9,77.6h0.85v0.85h-0.85zM298.0,77.6h0.85v0.85h-0.85zM299.1,77.2h0.85v0.85h-0.85zM304.9,77.2h0.85v0.85h-0.85zM306.1,77.3h0.85v0.85h-0.85zM239.0,78.2h0.85v0.85h-0.85zM241.8,78.7h0.85v0.85h-0.85zM299.3,78.8h0.85v0.85h-0.85zM300.7,78.5h0.85v0.85h-0.85zM302.2,78.8h0.85v0.85h-0.85zM305.3,78.6h0.85v0.85h-0.85zM306.1,78.6h0.85v0.85h-0.85zM238.8,79.8h0.85v0.85h-0.85zM239.9,79.5h0.85v0.85h-0.85zM296.9,79.7h0.85v0.85h-0.85zM297.7,79.4h0.85v0.85h-0.85zM299.8,79.3h0.85v0.85h-0.85zM302.0,79.8h0.85v0.85h-0.85zM304.0,79.4h0.85v0.85h-0.85zM305.2,79.7h0.85v0.85h-0.85zM305.7,79.3h0.85v0.85h-0.85zM239.9,80.2h0.85v0.85h-0.85zM242.3,80.4h0.85v0.85h-0.85zM291.9,80.4h0.85v0.85h-0.85zM299.1,80.4h0.85v0.85h-0.85zM300.7,80.3h0.85v0.85h-0.85zM303.1,80.3h0.85v0.85h-0.85zM304.1,80.5h0.85v0.85h-0.85zM306.1,80.3h0.85v0.85h-0.85zM239.1,81.2h0.85v0.85h-0.85zM240.8,81.4h0.85v0.85h-0.85zM252.7,81.6h0.85v0.85h-0.85zM297.9,81.5h0.85v0.85h-0.85zM299.1,81.3h0.85v0.85h-0.85zM305.1,81.6h0.85v0.85h-0.85zM307.1,81.4h0.85v0.85h-0.85zM241.0,82.6h0.85v0.85h-0.85zM241.8,82.5h0.85v0.85h-0.85zM254.3,82.8h0.85v0.85h-0.85zM254.9,82.3h0.85v0.85h-0.85zM256.1,82.5h0.85v0.85h-0.85zM297.2,82.6h0.85v0.85h-0.85zM298.2,82.7h0.85v0.85h-0.85zM302.0,82.8h0.85v0.85h-0.85zM302.8,82.6h0.85v0.85h-0.85zM304.3,82.6h0.85v0.85h-0.85zM306.8,82.2h0.85v0.85h-0.85zM242.2,83.5h0.85v0.85h-0.85zM253.2,83.7h0.85v0.85h-0.85zM255.3,83.6h0.85v0.85h-0.85zM255.8,83.6h0.85v0.85h-0.85zM257.8,83.2h0.85v0.85h-0.85zM291.0,83.8h0.85v0.85h-0.85zM292.8,83.7h0.85v0.85h-0.85zM296.1,83.4h0.85v0.85h-0.85zM298.2,83.3h0.85v0.85h-0.85zM298.9,83.2h0.85v0.85h-0.85zM300.2,83.5h0.85v0.85h-0.85zM301.0,83.4h0.85v0.85h-0.85zM301.8,83.4h0.85v0.85h-0.85zM305.9,83.6h0.85v0.85h-0.85zM239.0,84.4h0.85v0.85h-0.85zM242.1,84.6h0.85v0.85h-0.85zM253.0,84.3h0.85v0.85h-0.85zM254.1,84.7h0.85v0.85h-0.85zM257.1,84.7h0.85v0.85h-0.85zM258.2,84.6h0.85v0.85h-0.85zM292.9,84.4h0.85v0.85h-0.85zM293.8,84.7h0.85v0.85h-0.85zM298.2,84.4h0.85v0.85h-0.85zM298.8,84.7h0.85v0.85h-0.85zM300.2,84.7h0.85v0.85h-0.85zM301.1,84.5h0.85v0.85h-0.85zM302.0,84.5h0.85v0.85h-0.85zM307.2,84.7h0.85v0.85h-0.85zM240.0,85.8h0.85v0.85h-0.85zM240.8,85.2h0.85v0.85h-0.85zM253.2,85.4h0.85v0.85h-0.85zM253.7,85.8h0.85v0.85h-0.85zM256.8,85.8h0.85v0.85h-0.85zM259.7,85.4h0.85v0.85h-0.85zM290.8,85.3h0.85v0.85h-0.85zM294.1,85.2h0.85v0.85h-0.85zM295.8,85.6h0.85v0.85h-0.85zM296.7,85.5h0.85v0.85h-0.85zM300.3,85.5h0.85v0.85h-0.85zM301.0,85.8h0.85v0.85h-0.85zM301.9,85.4h0.85v0.85h-0.85zM303.8,85.4h0.85v0.85h-0.85zM305.9,85.3h0.85v0.85h-0.85zM238.9,86.3h0.85v0.85h-0.85zM253.7,86.5h0.85v0.85h-0.85zM254.9,86.5h0.85v0.85h-0.85zM256.2,86.4h0.85v0.85h-0.85zM257.3,86.2h0.85v0.85h-0.85zM261.2,86.4h0.85v0.85h-0.85zM294.2,86.7h0.85v0.85h-0.85zM295.1,86.6h0.85v0.85h-0.85zM297.7,86.8h0.85v0.85h-0.85zM299.2,86.2h0.85v0.85h-0.85zM299.9,86.8h0.85v0.85h-0.85zM303.0,86.3h0.85v0.85h-0.85zM304.0,86.5h0.85v0.85h-0.85zM304.8,86.4h0.85v0.85h-0.85zM306.8,86.7h0.85v0.85h-0.85zM239.7,87.6h0.85v0.85h-0.85zM255.3,87.5h0.85v0.85h-0.85zM256.1,87.4h0.85v0.85h-0.85zM256.9,87.5h0.85v0.85h-0.85zM258.3,87.6h0.85v0.85h-0.85zM289.1,87.4h0.85v0.85h-0.85zM294.8,87.3h0.85v0.85h-0.85zM298.1,87.5h0.85v0.85h-0.85zM300.1,87.4h0.85v0.85h-0.85zM300.8,87.7h0.85v0.85h-0.85zM301.7,87.8h0.85v0.85h-0.85zM304.2,87.3h0.85v0.85h-0.85zM305.9,87.6h0.85v0.85h-0.85zM309.1,87.6h0.85v0.85h-0.85zM310.2,87.4h0.85v0.85h-0.85zM239.3,88.6h0.85v0.85h-0.85zM258.1,88.3h0.85v0.85h-0.85zM259.8,88.7h0.85v0.85h-0.85zM288.3,88.4h0.85v0.85h-0.85zM288.9,88.4h0.85v0.85h-0.85zM290.2,88.4h0.85v0.85h-0.85zM291.1,88.5h0.85v0.85h-0.85zM291.7,88.2h0.85v0.85h-0.85zM294.1,88.4h0.85v0.85h-0.85zM294.7,88.6h0.85v0.85h-0.85zM297.1,88.7h0.85v0.85h-0.85zM299.1,88.3h0.85v0.85h-0.85zM300.1,88.8h0.85v0.85h-0.85zM301.2,88.5h0.85v0.85h-0.85zM302.2,88.3h0.85v0.85h-0.85zM303.0,88.3h0.85v0.85h-0.85zM303.7,88.4h0.85v0.85h-0.85zM304.8,88.6h0.85v0.85h-0.85zM306.0,88.5h0.85v0.85h-0.85zM307.0,88.6h0.85v0.85h-0.85zM307.9,88.6h0.85v0.85h-0.85zM311.0,88.7h0.85v0.85h-0.85zM238.7,89.5h0.85v0.85h-0.85zM240.0,89.8h0.85v0.85h-0.85zM290.2,89.6h0.85v0.85h-0.85zM291.3,89.2h0.85v0.85h-0.85zM294.8,89.2h0.85v0.85h-0.85zM296.1,89.3h0.85v0.85h-0.85zM296.8,89.7h0.85v0.85h-0.85zM298.3,89.4h0.85v0.85h-0.85zM299.1,89.7h0.85v0.85h-0.85zM301.1,89.5h0.85v0.85h-0.85zM302.2,89.7h0.85v0.85h-0.85zM302.9,89.5h0.85v0.85h-0.85zM304.7,89.5h0.85v0.85h-0.85zM307.9,89.8h0.85v0.85h-0.85zM310.1,89.3h0.85v0.85h-0.85zM311.2,89.6h0.85v0.85h-0.85zM239.2,90.3h0.85v0.85h-0.85zM297.0,90.4h0.85v0.85h-0.85zM297.8,90.3h0.85v0.85h-0.85zM301.8,90.6h0.85v0.85h-0.85zM303.0,90.7h0.85v0.85h-0.85zM306.2,90.6h0.85v0.85h-0.85zM307.0,90.4h0.85v0.85h-0.85zM307.8,90.8h0.85v0.85h-0.85zM309.2,90.5h0.85v0.85h-0.85zM311.0,90.8h0.85v0.85h-0.85zM238.8,91.7h0.85v0.85h-0.85zM300.7,91.5h0.85v0.85h-0.85zM303.3,91.5h0.85v0.85h-0.85zM303.8,91.7h0.85v0.85h-0.85zM310.2,91.5h0.85v0.85h-0.85zM311.0,91.7h0.85v0.85h-0.85zM299.9,92.3h0.85v0.85h-0.85zM302.3,92.7h0.85v0.85h-0.85zM302.8,92.3h0.85v0.85h-0.85zM304.2,92.4h0.85v0.85h-0.85zM306.0,92.4h0.85v0.85h-0.85zM308.2,92.4h0.85v0.85h-0.85zM309.1,92.6h0.85v0.85h-0.85zM309.9,92.6h0.85v0.85h-0.85zM310.9,92.8h0.85v0.85h-0.85zM301.3,93.4h0.85v0.85h-0.85zM302.7,93.2h0.85v0.85h-0.85zM304.0,93.5h0.85v0.85h-0.85zM307.0,93.2h0.85v0.85h-0.85zM308.2,93.7h0.85v0.85h-0.85zM309.2,93.4h0.85v0.85h-0.85zM239.0,94.6h0.85v0.85h-0.85zM302.2,94.7h0.85v0.85h-0.85zM302.7,94.4h0.85v0.85h-0.85zM305.1,94.7h0.85v0.85h-0.85zM305.9,94.2h0.85v0.85h-0.85zM307.0,94.5h0.85v0.85h-0.85zM308.2,94.3h0.85v0.85h-0.85zM308.9,94.3h0.85v0.85h-0.85zM297.9,95.5h0.85v0.85h-0.85zM299.2,95.7h0.85v0.85h-0.85zM302.2,95.7h0.85v0.85h-0.85zM304.1,95.6h0.85v0.85h-0.85zM304.7,95.6h0.85v0.85h-0.85zM305.9,95.5h0.85v0.85h-0.85zM306.9,95.3h0.85v0.85h-0.85zM310.0,95.3h0.85v0.85h-0.85zM311.0,95.5h0.85v0.85h-0.85zM239.8,96.3h0.85v0.85h-0.85zM240.9,96.5h0.85v0.85h-0.85zM292.1,96.4h0.85v0.85h-0.85zM294.1,96.5h0.85v0.85h-0.85zM294.8,96.3h0.85v0.85h-0.85zM296.0,96.3h0.85v0.85h-0.85zM300.0,96.6h0.85v0.85h-0.85zM301.8,96.5h0.85v0.85h-0.85zM303.1,96.5h0.85v0.85h-0.85zM304.0,96.3h0.85v0.85h-0.85zM305.8,96.3h0.85v0.85h-0.85zM311.0,96.7h0.85v0.85h-0.85zM240.3,97.4h0.85v0.85h-0.85zM243.3,97.7h0.85v0.85h-0.85zM248.2,97.2h0.85v0.85h-0.85zM250.1,97.6h0.85v0.85h-0.85zM251.2,97.5h0.85v0.85h-0.85zM276.8,97.6h0.85v0.85h-0.85zM278.9,97.6h0.85v0.85h-0.85zM279.9,97.3h0.85v0.85h-0.85zM283.7,97.8h0.85v0.85h-0.85zM285.9,97.4h0.85v0.85h-0.85zM287.2,97.3h0.85v0.85h-0.85zM288.0,97.5h0.85v0.85h-0.85zM290.1,97.4h0.85v0.85h-0.85zM290.7,97.5h0.85v0.85h-0.85zM292.9,97.8h0.85v0.85h-0.85zM294.8,97.7h0.85v0.85h-0.85zM295.9,97.5h0.85v0.85h-0.85zM296.8,97.7h0.85v0.85h-0.85zM300.7,97.7h0.85v0.85h-0.85zM302.9,97.5h0.85v0.85h-0.85zM308.0,97.4h0.85v0.85h-0.85zM239.9,98.3h0.85v0.85h-0.85zM240.9,98.4h0.85v0.85h-0.85zM246.1,98.3h0.85v0.85h-0.85zM246.9,98.2h0.85v0.85h-0.85zM250.3,98.3h0.85v0.85h-0.85zM252.2,98.6h0.85v0.85h-0.85zM255.1,98.5h0.85v0.85h-0.85zM255.9,98.8h0.85v0.85h-0.85zM256.8,98.8h0.85v0.85h-0.85zM258.1,98.8h0.85v0.85h-0.85zM262.7,98.5h0.85v0.85h-0.85zM263.9,98.5h0.85v0.85h-0.85zM269.9,98.8h0.85v0.85h-0.85zM273.0,98.4h0.85v0.85h-0.85zM274.3,98.3h0.85v0.85h-0.85zM274.9,98.5h0.85v0.85h-0.85zM276.2,98.5h0.85v0.85h-0.85zM278.2,98.6h0.85v0.85h-0.85zM280.0,98.3h0.85v0.85h-0.85zM281.7,98.2h0.85v0.85h-0.85zM283.1,98.4h0.85v0.85h-0.85zM285.3,98.3h0.85v0.85h-0.85zM285.7,98.2h0.85v0.85h-0.85zM287.0,98.4h0.85v0.85h-0.85zM287.8,98.8h0.85v0.85h-0.85zM289.0,98.7h0.85v0.85h-0.85zM289.8,98.4h0.85v0.85h-0.85zM291.9,98.6h0.85v0.85h-0.85zM293.8,98.5h0.85v0.85h-0.85zM295.1,98.6h0.85v0.85h-0.85zM296.9,98.4h0.85v0.85h-0.85zM297.8,98.7h0.85v0.85h-0.85zM298.9,98.5h0.85v0.85h-0.85zM301.0,98.2h0.85v0.85h-0.85zM301.8,98.4h0.85v0.85h-0.85zM303.0,98.3h0.85v0.85h-0.85zM304.0,98.4h0.85v0.85h-0.85zM305.8,98.6h0.85v0.85h-0.85zM307.0,98.4h0.85v0.85h-0.85zM308.0,98.7h0.85v0.85h-0.85zM309.9,98.3h0.85v0.85h-0.85zM311.1,98.6h0.85v0.85h-0.85zM244.8,99.4h0.85v0.85h-0.85zM246.2,99.5h0.85v0.85h-0.85zM246.7,99.5h0.85v0.85h-0.85zM248.8,99.2h0.85v0.85h-0.85zM250.1,99.7h0.85v0.85h-0.85zM250.8,99.6h0.85v0.85h-0.85zM253.3,99.6h0.85v0.85h-0.85zM254.2,99.5h0.85v0.85h-0.85zM255.3,99.5h0.85v0.85h-0.85zM256.3,99.3h0.85v0.85h-0.85zM257.1,99.7h0.85v0.85h-0.85zM261.1,99.7h0.85v0.85h-0.85zM263.2,99.8h0.85v0.85h-0.85zM264.0,99.4h0.85v0.85h-0.85zM265.0,99.5h0.85v0.85h-0.85zM266.1,99.5h0.85v0.85h-0.85zM267.2,99.4h0.85v0.85h-0.85zM268.3,99.5h0.85v0.85h-0.85zM271.9,99.3h0.85v0.85h-0.85zM272.8,99.2h0.85v0.85h-0.85zM275.3,99.4h0.85v0.85h-0.85zM275.7,99.6h0.85v0.85h-0.85zM277.8,99.2h0.85v0.85h-0.85zM281.1,99.6h0.85v0.85h-0.85zM283.2,99.2h0.85v0.85h-0.85zM284.0,99.7h0.85v0.85h-0.85zM284.9,99.5h0.85v0.85h-0.85zM286.0,99.5h0.85v0.85h-0.85zM287.2,99.4h0.85v0.85h-0.85zM289.0,99.5h0.85v0.85h-0.85zM289.7,99.8h0.85v0.85h-0.85zM290.9,99.6h0.85v0.85h-0.85zM294.1,99.6h0.85v0.85h-0.85zM295.0,99.7h0.85v0.85h-0.85zM295.9,99.4h0.85v0.85h-0.85zM296.9,99.2h0.85v0.85h-0.85zM298.0,99.3h0.85v0.85h-0.85zM299.9,99.2h0.85v0.85h-0.85zM303.1,99.7h0.85v0.85h-0.85zM304.2,99.2h0.85v0.85h-0.85zM305.1,99.2h0.85v0.85h-0.85zM306.1,99.6h0.85v0.85h-0.85zM307.9,99.2h0.85v0.85h-0.85z" fill="#808080" clip-path="url(#cC1)"/>
<path d="M239.0,92.4 239.5,91.9 240.0,91.3 240.5,90.7 240.9,90.0 241.2,89.5 241.5,88.5 241.6,88.0 241.7,87.0 242.0,86.0 242.1,85.5 242.4,84.5 242.5,84.0 242.7,83.0 242.9,82.0 243.0,81.5 243.2,80.5 243.4,79.5 243.5,79.0 243.8,78.0 244.0,77.1 244.1,76.5 244.1,75.5 244.0,74.9 243.8,74.0 243.6,73.0 243.5,72.5 243.5,71.5 243.5,71.0 243.8,70.0 244.0,69.3 244.3,68.5 244.5,68.0 245.0,67.3 245.5,66.8 246.0,66.3 246.5,65.8 247.0,65.2 247.5,64.5 247.8,64.0 248.2,63.5 248.7,63.0 249.3,62.5 250.0,62.1 250.5,61.8 251.2,61.5 252.0,61.3 253.0,61.3 254.0,61.2 254.5,61.0 255.1,60.5 255.6,60.0 256.3,59.5 257.0,59.1 257.5,59.0 258.5,58.9 259.5,58.8 260.5,58.8 261.5,58.7 262.5,58.6 263.1,58.5 264.0,58.5 265.0,58.4 266.0,58.3 267.0,58.0 267.5,57.8 268.5,57.8 269.0,58.1 269.5,58.6 270.0,59.5 270.3,60.0 270.8,60.5 271.5,60.7 272.5,60.7 273.5,60.8 274.5,60.9 275.2,61.0 276.0,61.1 276.9,61.5 277.5,61.9 278.0,62.4 278.5,62.7 279.0,63.1 279.7,63.5 280.2,64.0 280.5,64.6 280.9,65.5 281.1,66.0 281.5,66.7 282.0,67.4 282.5,67.7 283.3,68.0 284.0,68.2 285.0,68.4 286.0,68.4 287.0,68.1 287.5,68.0 288.0,68.0 289.0,68.4 289.5,68.8 290.0,69.3 290.4,70.0 290.7,70.5 291.0,71.3 291.2,72.0 291.4,73.0 291.5,73.5 292.0,74.4 292.5,74.8 293.0,75.1 293.8,75.5 294.5,76.0 294.8,76.5 295.0,77.2 295.3,78.0 295.9,78.5 296.5,78.9 297.0,79.5 297.2,80.0 297.2,81.0 297.0,81.5 296.5,82.1 295.5,82.4 294.5,82.4 293.7,82.0 293.2,81.5 293.0,81.0 292.5,80.0 291.9,80.5 291.7,81.5 291.5,82.1 291.1,83.0 290.8,83.5 290.5,84.4 290.5,84.8 291.0,85.5 291.1,85.5 292.0,85.4 293.0,85.5 293.5,85.8 293.9,86.5 294.0,87.0 294.0,87.7 293.5,88.2 292.5,88.1 292.0,87.9 291.4,87.5 290.6,87.0 290.0,86.9 289.5,87.1 288.7,87.5 288.0,87.9 287.7,88.5 288.2,89.0 289.0,89.3 289.5,89.5 290.5,89.7 291.5,90.0 292.0,90.1 293.0,90.5 294.0,90.3 294.5,90.0 295.5,89.8 296.0,90.0 296.6,90.5 297.2,91.0 297.9,91.5 298.5,91.8 299.0,92.0 299.8,92.5 300.3,93.0 300.2,94.0 299.6,94.5 299.0,94.9 298.5,95.2 297.5,95.5 297.0,95.6 296.0,95.8 295.0,96.0 294.5,96.0 293.5,96.1 292.5,96.3 292.0,96.5 291.0,97.0 290.5,97.3 289.8,97.5 289.0,97.5 288.5,97.5 287.5,97.2 286.5,97.2 285.5,97.3 284.5,97.4 283.5,97.5 282.5,97.4 281.5,97.4 280.5,97.3 279.5,97.3 278.5,97.2 277.5,97.3 276.9,97.5 276.0,97.8 275.1,98.0 274.5,98.1 273.5,98.0 273.0,98.0 272.0,97.9 271.0,97.9 270.5,98.0 269.5,98.4 269.0,98.5 268.0,98.8 267.0,98.8 266.0,98.6 265.3,98.5 264.5,98.3 263.5,98.2 262.5,98.2 261.5,98.3 260.5,98.4 259.5,98.2 258.5,98.0 258.0,98.0 257.0,97.9 256.0,97.8 255.0,97.6 254.0,97.5 253.5,97.5 252.5,97.4 251.5,97.1 251.0,97.0 250.0,96.8 249.0,96.9 248.5,97.1 247.7,97.5 247.0,97.8 246.2,98.0 245.5,98.0 245.0,97.9 244.0,97.6 243.5,97.3 242.9,97.0 242.2,96.5 241.6,96.0 241.0,95.6 240.5,95.2 240.0,94.8 239.5,94.4 239.0,93.9 239.0,93.9 M258.6,89.5 259.5,89.4 260.3,89.0 261.0,88.5 261.4,88.0 261.8,87.5 261.7,86.5 261.3,86.0 260.8,85.5 260.4,85.0 260.0,84.1 259.8,83.5 259.5,82.5 259.2,82.0 258.8,81.5 258.0,81.1 257.5,81.0 256.5,80.9 255.5,80.8 254.5,80.7 253.5,80.9 253.0,81.4 252.8,82.0 252.7,83.0 252.6,84.0 252.7,85.0 253.0,85.7 253.5,86.5 253.9,87.0 254.4,87.5 255.0,88.0 255.5,88.4 256.0,88.8 256.5,89.1 257.5,89.4 258.2,89.5 258.6,89.5Z M268.0,97.0 267.0,97.1 266.2,97.0 265.5,96.8 264.8,96.5 264.0,96.1 263.5,96.0 262.5,96.0 262.0,96.1 261.0,96.2 260.0,96.1 259.5,95.9 258.5,95.6 257.5,95.6 256.5,95.5 256.0,95.4 255.0,95.2 254.0,95.0 253.5,94.9 252.5,94.7 251.5,94.7 250.5,94.8 249.6,95.0 249.0,95.2 248.1,95.5 247.5,95.7 246.5,95.9 245.5,95.8 244.7,95.5 244.0,95.0 243.6,94.5 243.3,94.0 243.1,93.0 243.1,92.0 243.1,91.0 243.2,90.0 243.2,89.0 243.2,88.0 243.3,87.0 243.5,86.0 243.7,85.5 244.0,84.5 244.2,84.0 244.4,83.0 244.6,82.5 244.9,81.5 245.0,81.0 245.3,80.0 245.5,79.3 245.7,78.5 246.0,77.5 246.0,77.0 246.0,76.5 245.6,75.5 245.4,75.0 245.0,74.1 244.8,73.5 244.5,72.5 244.6,71.5 244.9,70.5 245.1,70.0 245.5,69.2 245.9,68.5 246.2,68.0 246.6,67.5 247.1,67.0 247.5,66.5 248.0,66.0 248.5,65.3 249.0,64.6 249.5,64.0 250.0,63.7 251.0,63.6 252.0,63.8 252.5,64.0 253.5,64.0 254.0,63.9 255.0,63.5 255.5,63.4 256.5,63.1 257.5,63.2 258.5,63.1 258.9,62.5 259.1,62.0 259.5,61.4 260.3,61.0 261.0,60.8 262.0,60.6 262.5,60.4 263.5,60.2 264.5,60.1 265.5,60.2 266.5,60.4 267.0,60.5 267.8,61.0 268.4,61.5 269.0,61.8 269.5,62.1 270.2,62.5 271.0,62.9 271.5,63.3 272.0,63.7 272.5,64.1 273.2,64.5 274.0,64.7 275.0,64.9 275.5,65.2 276.0,65.5 276.6,66.0 277.3,66.5 277.9,67.0 278.3,67.5 278.6,68.0 279.0,68.9 279.5,69.4 280.0,69.7 281.0,70.0 281.5,70.1 282.3,70.5 282.9,71.0 283.3,71.5 283.7,72.0 284.1,72.5 284.6,73.0 285.1,73.5 285.5,74.0 286.0,74.7 286.5,75.5 286.8,76.0 287.2,76.5 287.5,77.0 287.8,78.0 287.5,78.6 287.0,79.3 286.7,80.0 286.7,81.0 286.9,82.0 286.9,83.0 286.5,83.7 286.0,84.0 285.0,84.2 284.0,84.4 283.6,85.0 283.3,85.5 282.9,86.0 282.0,86.4 281.0,86.1 280.5,85.5 280.0,85.4 279.4,85.5 279.4,86.5 279.8,87.0 279.9,88.0 279.9,89.0 280.3,89.5 281.0,89.8 281.8,90.0 282.5,90.2 283.3,90.5 284.0,90.8 284.5,91.0 285.5,91.4 286.0,91.6 286.8,92.0 287.3,92.5 287.4,93.5 287.1,94.5 286.6,95.0 286.0,95.3 285.4,95.5 284.5,95.7 283.5,95.8 282.5,95.9 281.5,95.9 280.5,95.8 279.5,95.6 279.0,95.5 278.0,95.3 277.0,95.5 276.5,95.8 276.0,96.1 275.4,96.5 274.5,96.8 273.5,96.7 272.7,96.5 272.0,96.2 271.2,96.0 270.6,96.0 270.0,96.2 269.5,96.5 268.5,96.9 268.0,97.0Z M259.1,93.0 259.8,92.5 260.2,92.0 260.5,91.5 261.0,90.9 261.5,90.2 262.0,89.7 262.5,89.3 263.1,89.0 264.0,88.8 265.0,88.9 265.6,89.0 266.5,89.0 267.0,88.9 267.6,88.5 268.0,87.5 267.5,86.5 267.0,86.0 266.5,85.6 266.0,85.3 265.5,85.0 264.5,84.5 264.0,84.3 263.2,84.0 262.5,83.6 262.0,83.0 261.7,82.5 261.5,82.0 261.0,81.1 260.7,80.5 260.4,80.0 260.0,79.5 259.1,79.0 258.5,78.9 257.5,79.0 256.5,79.0 255.5,78.9 254.5,78.9 253.5,78.8 252.5,78.8 251.5,79.0 251.0,79.1 250.1,79.5 249.7,80.0 249.6,81.0 250.0,81.8 250.5,82.4 250.8,83.0 251.0,83.5 251.2,84.5 251.3,85.5 251.4,86.5 251.3,87.5 251.3,88.5 251.6,89.0 252.0,89.5 252.9,90.0 253.5,90.2 254.1,90.5 255.0,91.0 255.5,91.3 256.0,91.6 256.5,92.0 257.1,92.5 258.0,93.0 258.5,93.1 259.1,93.0Z M277.3,90.0 277.7,89.5 277.7,88.5 277.5,88.0 277.0,87.4 276.0,87.1 275.0,87.1 274.0,87.3 273.5,87.7 273.3,88.5 273.6,89.0 274.1,89.5 274.9,90.0 275.5,90.3 276.5,90.3 277.3,90.0Z M275.5,85.2 274.5,85.3 273.6,85.0 273.0,84.6 272.5,84.1 272.0,83.7 271.5,83.4 270.5,83.2 269.5,83.4 269.0,83.6 268.0,83.9 267.0,83.6 266.5,83.3 266.0,83.0 265.3,82.5 264.6,82.0 264.0,81.6 263.5,81.3 263.0,81.0 262.4,80.5 262.0,80.0 261.5,79.1 261.2,78.5 260.9,78.0 260.5,77.5 259.9,77.0 259.0,76.5 258.5,76.2 257.5,76.0 256.5,76.4 256.0,76.6 255.0,76.9 254.5,77.1 253.5,77.3 252.5,77.5 252.0,77.6 251.0,77.7 250.0,77.8 249.0,77.6 248.5,77.2 248.0,76.6 247.6,76.0 247.3,75.5 246.9,75.0 246.5,74.5 246.0,73.7 245.7,73.0 245.6,72.0 245.9,71.0 246.1,70.5 246.5,69.6 246.8,69.0 247.1,68.5 247.5,68.0 248.0,67.5 248.5,67.0 249.1,66.5 249.8,66.0 250.5,65.6 251.5,65.6 252.5,65.6 253.4,65.5 254.0,65.3 255.0,65.0 255.5,65.0 256.4,65.0 257.0,65.2 257.7,65.5 258.5,65.8 259.5,65.8 260.2,65.5 260.8,65.0 261.3,64.5 261.7,64.0 262.0,63.5 262.5,63.0 263.2,62.5 264.0,62.3 264.6,62.5 265.5,63.0 266.0,63.2 267.0,63.3 268.0,63.3 269.0,63.5 269.5,63.7 270.0,64.2 270.5,64.9 270.8,65.5 271.0,66.0 271.5,66.8 272.0,67.2 273.0,67.1 273.5,67.0 274.2,67.0 275.0,67.4 275.4,68.0 275.3,69.0 275.2,70.0 275.5,70.5 276.5,70.9 277.0,71.0 278.0,71.3 278.5,71.5 279.5,71.9 280.0,72.1 280.8,72.5 281.3,73.0 281.8,73.5 282.3,74.0 283.0,74.5 283.5,74.8 284.0,75.3 284.2,76.0 284.0,76.7 283.5,77.2 283.0,77.5 282.1,78.0 281.5,78.4 281.0,78.8 280.5,79.4 280.2,80.0 280.0,80.5 279.7,81.5 279.4,82.0 278.8,82.5 278.0,82.9 277.5,83.1 277.0,83.6 276.5,84.2 276.0,84.8 275.5,85.2Z M247.5,92.1 246.5,92.2 246.0,91.6 245.9,91.0 245.6,90.0 245.5,89.5 245.2,88.5 245.3,87.5 246.0,87.2 246.5,87.5 247.0,88.1 247.5,88.6 248.0,89.0 248.7,89.5 249.2,90.0 249.4,91.0 249.0,91.5 248.0,91.9 247.5,92.1Z M267.5,94.2 266.5,94.3 265.5,94.0 265.0,93.9 264.0,94.0 263.5,94.0 262.5,94.0 262.0,93.8 261.6,93.0 261.8,92.0 262.1,91.5 262.5,91.0 263.2,90.5 264.0,90.5 264.5,90.7 265.0,91.1 266.0,91.4 267.0,91.3 268.0,91.1 269.0,91.4 269.4,92.0 269.0,93.0 268.6,93.5 268.0,94.0 267.5,94.2Z M281.5,93.7 280.5,93.9 279.5,93.8 278.8,93.5 278.4,93.0 278.5,92.5 279.5,92.1 280.5,92.1 281.5,92.4 282.0,92.8 282.0,93.2 281.5,93.7Z M274.5,81.7 273.5,82.0 272.5,81.8 271.5,81.7 270.5,81.7 269.5,81.7 268.5,81.5 268.0,81.2 267.5,81.0 266.5,80.6 266.0,80.5 265.0,80.1 264.5,79.9 263.7,79.5 263.0,79.0 262.6,78.5 262.4,78.0 262.0,77.2 261.7,76.5 261.4,76.0 261.0,75.5 260.5,74.9 260.0,74.4 259.4,74.0 258.5,73.8 257.5,73.9 256.9,74.0 256.0,74.3 255.0,74.5 254.5,74.7 253.8,75.0 253.0,75.5 252.5,75.8 252.0,76.1 251.0,76.4 250.0,76.2 249.5,75.9 249.0,75.5 248.5,75.0 248.0,74.5 247.5,74.0 247.0,73.2 246.8,72.5 246.8,71.5 247.0,70.6 247.2,70.0 247.5,69.5 248.0,68.7 248.5,68.1 249.0,67.7 249.5,67.4 250.4,67.0 251.0,66.8 252.0,66.7 253.0,66.5 253.5,66.4 254.5,66.2 255.5,66.1 256.5,66.4 257.0,66.7 257.5,67.1 258.0,67.5 258.9,68.0 259.5,68.1 260.0,68.0 260.9,67.5 261.5,67.0 262.0,66.5 262.5,66.2 263.0,65.8 263.5,65.5 264.2,65.0 265.0,64.7 266.0,64.7 267.0,64.6 268.0,64.6 268.9,65.0 269.3,65.5 269.5,66.0 269.8,67.0 270.0,67.5 270.5,68.3 271.0,68.9 271.5,69.4 272.0,70.0 272.4,70.5 272.8,71.0 273.3,71.5 273.8,72.0 274.5,72.4 275.5,72.5 276.5,72.4 277.0,72.5 278.0,72.9 278.5,73.4 278.7,74.0 278.5,74.7 278.0,75.4 277.6,76.0 277.2,76.5 277.0,77.0 276.8,78.0 276.9,79.0 276.5,79.7 276.0,80.4 275.5,81.0 275.0,81.4 274.5,81.7Z" fill="none" stroke="#666" stroke-width="0.7" stroke-linejoin="round" clip-path="url(#cC1)" />
<ellipse cx="251.5" cy="71.3" rx="7" ry="6.2" fill="none" stroke="#555" stroke-width="0.9"/>
<ellipse cx="251.8" cy="71.8" rx="9" ry="8.2" fill="none" stroke="#777" stroke-width="0.8"/>
<ellipse cx="251.5" cy="71.3" rx="4.5" ry="4.2" fill="#9a9a9a" stroke="#111" stroke-width="2"/>
<ellipse cx="251.2" cy="71.6" rx="1.8" ry="1.6" fill="#e0e0e0"/>
<path d="M255.6,69.5 C256.0,69.2 257.2,67.8 258.0,67.6 C258.8,67.4 260.0,67.8 260.5,68.2 C261.0,68.6 260.9,69.7 261.0,70.0" fill="none" stroke="#222" stroke-width="1.2" stroke-linejoin="round" />
<path d="M357.6,59.5h0.9v0.9h-0.9zM364.4,59.1h0.9v0.9h-0.9zM366.6,59.1h0.9v0.9h-0.9zM356.2,60.5h0.9v0.9h-0.9zM365.2,60.1h0.9v0.9h-0.9zM366.7,60.3h0.9v0.9h-0.9zM354.5,63.4h0.9v0.9h-0.9zM354.6,64.6h0.9v0.9h-0.9zM368.4,64.2h0.9v0.9h-0.9zM369.3,64.2h0.9v0.9h-0.9zM353.3,65.5h0.9v0.9h-0.9zM374.1,65.4h0.9v0.9h-0.9zM379.6,65.3h0.9v0.9h-0.9zM382.6,65.4h0.9v0.9h-0.9zM383.3,65.5h0.9v0.9h-0.9zM352.2,66.1h0.9v0.9h-0.9zM372.5,66.2h0.9v0.9h-0.9zM376.5,66.4h0.9v0.9h-0.9zM377.3,66.4h0.9v0.9h-0.9zM379.4,66.6h0.9v0.9h-0.9zM381.3,66.3h0.9v0.9h-0.9zM383.2,66.5h0.9v0.9h-0.9zM352.3,67.5h0.9v0.9h-0.9zM379.2,67.4h0.9v0.9h-0.9zM353.3,68.5h0.9v0.9h-0.9zM382.7,68.6h0.9v0.9h-0.9zM386.6,68.2h0.9v0.9h-0.9zM352.7,69.3h0.9v0.9h-0.9zM380.6,69.3h0.9v0.9h-0.9zM382.2,69.2h0.9v0.9h-0.9zM383.5,69.3h0.9v0.9h-0.9zM387.2,69.4h0.9v0.9h-0.9zM382.2,70.4h0.9v0.9h-0.9zM383.7,70.2h0.9v0.9h-0.9zM386.3,70.2h0.9v0.9h-0.9zM391.4,70.4h0.9v0.9h-0.9zM371.5,71.0h0.9v0.9h-0.9zM375.5,71.2h0.9v0.9h-0.9zM377.4,71.5h0.9v0.9h-0.9zM379.3,71.6h0.9v0.9h-0.9zM385.5,71.0h0.9v0.9h-0.9zM387.1,71.6h0.9v0.9h-0.9zM388.1,71.3h0.9v0.9h-0.9zM352.7,72.2h0.9v0.9h-0.9zM373.3,72.5h0.9v0.9h-0.9zM377.4,72.3h0.9v0.9h-0.9zM379.6,72.2h0.9v0.9h-0.9zM380.4,72.4h0.9v0.9h-0.9zM384.3,72.6h0.9v0.9h-0.9zM385.2,72.4h0.9v0.9h-0.9zM386.7,72.2h0.9v0.9h-0.9zM388.1,72.0h0.9v0.9h-0.9zM378.2,73.0h0.9v0.9h-0.9zM379.6,73.4h0.9v0.9h-0.9zM384.6,73.5h0.9v0.9h-0.9zM352.2,74.2h0.9v0.9h-0.9zM381.6,74.4h0.9v0.9h-0.9zM383.7,74.2h0.9v0.9h-0.9zM386.3,74.4h0.9v0.9h-0.9zM387.5,74.3h0.9v0.9h-0.9zM388.1,74.5h0.9v0.9h-0.9zM383.1,75.2h0.9v0.9h-0.9zM391.1,75.1h0.9v0.9h-0.9zM353.1,76.5h0.9v0.9h-0.9zM387.4,76.2h0.9v0.9h-0.9zM352.5,77.2h0.9v0.9h-0.9zM353.2,77.6h0.9v0.9h-0.9zM369.5,77.3h0.9v0.9h-0.9zM377.2,77.2h0.9v0.9h-0.9zM378.1,77.2h0.9v0.9h-0.9zM380.6,77.4h0.9v0.9h-0.9zM381.7,77.6h0.9v0.9h-0.9zM382.3,77.4h0.9v0.9h-0.9zM383.3,77.2h0.9v0.9h-0.9zM391.4,77.1h0.9v0.9h-0.9zM353.4,78.1h0.9v0.9h-0.9zM368.5,78.1h0.9v0.9h-0.9zM369.4,78.4h0.9v0.9h-0.9zM378.4,78.4h0.9v0.9h-0.9zM379.4,78.3h0.9v0.9h-0.9zM381.6,78.0h0.9v0.9h-0.9zM382.1,78.5h0.9v0.9h-0.9zM383.3,78.4h0.9v0.9h-0.9zM387.2,78.4h0.9v0.9h-0.9zM353.5,79.5h0.9v0.9h-0.9zM378.5,79.1h0.9v0.9h-0.9zM379.2,79.0h0.9v0.9h-0.9zM383.6,79.4h0.9v0.9h-0.9zM376.3,80.1h0.9v0.9h-0.9zM378.6,80.3h0.9v0.9h-0.9zM382.3,80.6h0.9v0.9h-0.9zM386.1,80.1h0.9v0.9h-0.9zM390.5,80.5h0.9v0.9h-0.9zM381.5,81.3h0.9v0.9h-0.9zM387.5,81.6h0.9v0.9h-0.9zM353.7,82.3h0.9v0.9h-0.9zM354.1,82.6h0.9v0.9h-0.9zM376.2,82.5h0.9v0.9h-0.9zM377.6,82.2h0.9v0.9h-0.9zM379.6,82.0h0.9v0.9h-0.9zM380.2,82.5h0.9v0.9h-0.9zM368.6,83.5h0.9v0.9h-0.9zM378.2,83.1h0.9v0.9h-0.9zM387.5,83.1h0.9v0.9h-0.9zM389.4,83.1h0.9v0.9h-0.9zM390.3,83.2h0.9v0.9h-0.9zM354.3,84.5h0.9v0.9h-0.9zM368.2,84.3h0.9v0.9h-0.9zM376.7,84.3h0.9v0.9h-0.9zM387.4,84.5h0.9v0.9h-0.9zM389.3,84.6h0.9v0.9h-0.9zM374.6,85.3h0.9v0.9h-0.9zM376.6,85.0h0.9v0.9h-0.9zM377.6,85.6h0.9v0.9h-0.9zM387.3,85.5h0.9v0.9h-0.9zM388.4,85.4h0.9v0.9h-0.9zM354.2,86.1h0.9v0.9h-0.9zM374.4,86.6h0.9v0.9h-0.9zM375.5,86.2h0.9v0.9h-0.9zM387.5,86.6h0.9v0.9h-0.9zM390.3,86.2h0.9v0.9h-0.9zM375.6,87.1h0.9v0.9h-0.9zM376.2,87.0h0.9v0.9h-0.9zM354.1,88.3h0.9v0.9h-0.9zM367.2,88.2h0.9v0.9h-0.9zM386.1,88.3h0.9v0.9h-0.9zM388.6,88.1h0.9v0.9h-0.9zM389.4,88.1h0.9v0.9h-0.9zM375.6,89.2h0.9v0.9h-0.9zM386.4,89.6h0.9v0.9h-0.9zM387.5,89.4h0.9v0.9h-0.9zM371.3,90.4h0.9v0.9h-0.9zM373.5,90.1h0.9v0.9h-0.9zM375.3,90.5h0.9v0.9h-0.9zM386.4,90.3h0.9v0.9h-0.9zM387.3,90.3h0.9v0.9h-0.9zM354.5,91.4h0.9v0.9h-0.9zM373.3,91.2h0.9v0.9h-0.9zM374.4,91.5h0.9v0.9h-0.9zM386.5,91.2h0.9v0.9h-0.9zM389.3,91.4h0.9v0.9h-0.9zM351.3,92.0h0.9v0.9h-0.9zM368.6,92.1h0.9v0.9h-0.9zM370.4,92.0h0.9v0.9h-0.9zM373.2,92.3h0.9v0.9h-0.9zM375.4,92.2h0.9v0.9h-0.9zM349.4,93.4h0.9v0.9h-0.9zM352.3,93.3h0.9v0.9h-0.9zM367.4,93.5h0.9v0.9h-0.9zM368.2,93.2h0.9v0.9h-0.9zM372.5,93.5h0.9v0.9h-0.9zM375.3,93.6h0.9v0.9h-0.9zM385.3,93.1h0.9v0.9h-0.9zM344.5,94.1h0.9v0.9h-0.9zM349.6,94.2h0.9v0.9h-0.9zM353.3,94.5h0.9v0.9h-0.9zM371.5,94.1h0.9v0.9h-0.9zM373.6,94.0h0.9v0.9h-0.9zM386.5,94.1h0.9v0.9h-0.9zM347.6,95.1h0.9v0.9h-0.9zM348.2,95.0h0.9v0.9h-0.9zM349.3,95.6h0.9v0.9h-0.9zM353.2,95.4h0.9v0.9h-0.9zM370.5,95.5h0.9v0.9h-0.9zM374.3,95.4h0.9v0.9h-0.9zM388.5,95.1h0.9v0.9h-0.9zM344.5,96.2h0.9v0.9h-0.9zM372.7,97.1h0.9v0.9h-0.9zM387.1,97.3h0.9v0.9h-0.9zM341.2,98.5h0.9v0.9h-0.9zM343.5,98.3h0.9v0.9h-0.9zM369.2,98.1h0.9v0.9h-0.9zM373.2,98.2h0.9v0.9h-0.9zM385.1,98.1h0.9v0.9h-0.9zM386.7,98.3h0.9v0.9h-0.9zM387.6,98.4h0.9v0.9h-0.9zM342.5,99.4h0.9v0.9h-0.9zM370.6,99.5h0.9v0.9h-0.9zM372.1,99.0h0.9v0.9h-0.9zM385.7,99.4h0.9v0.9h-0.9zM387.5,99.6h0.9v0.9h-0.9zM341.4,100.4h0.9v0.9h-0.9zM371.6,100.3h0.9v0.9h-0.9zM372.5,100.6h0.9v0.9h-0.9zM385.7,100.5h0.9v0.9h-0.9zM387.2,100.3h0.9v0.9h-0.9zM369.6,101.0h0.9v0.9h-0.9zM339.2,102.3h0.9v0.9h-0.9zM386.2,103.6h0.9v0.9h-0.9zM388.4,104.2h0.9v0.9h-0.9zM389.5,104.5h0.9v0.9h-0.9zM338.5,105.1h0.9v0.9h-0.9zM388.3,105.5h0.9v0.9h-0.9zM389.6,105.4h0.9v0.9h-0.9zM338.4,106.5h0.9v0.9h-0.9zM391.3,106.3h0.9v0.9h-0.9zM338.4,107.1h0.9v0.9h-0.9zM393.7,107.3h0.9v0.9h-0.9zM395.5,109.1h0.9v0.9h-0.9zM396.4,109.3h0.9v0.9h-0.9zM398.3,109.1h0.9v0.9h-0.9zM396.4,110.6h0.9v0.9h-0.9zM398.5,110.2h0.9v0.9h-0.9zM398.5,111.2h0.9v0.9h-0.9zM399.7,111.0h0.9v0.9h-0.9zM398.7,112.2h0.9v0.9h-0.9zM398.6,113.6h0.9v0.9h-0.9zM399.4,113.1h0.9v0.9h-0.9zM398.3,116.3h0.9v0.9h-0.9zM399.6,116.2h0.9v0.9h-0.9zM400.6,117.0h0.9v0.9h-0.9zM398.6,118.4h0.9v0.9h-0.9zM398.2,119.2h0.9v0.9h-0.9zM399.7,119.2h0.9v0.9h-0.9zM398.2,120.1h0.9v0.9h-0.9zM399.4,120.3h0.9v0.9h-0.9zM400.2,120.3h0.9v0.9h-0.9zM399.5,121.4h0.9v0.9h-0.9zM397.4,122.4h0.9v0.9h-0.9zM398.5,122.2h0.9v0.9h-0.9zM398.6,123.0h0.9v0.9h-0.9zM338.2,125.4h0.9v0.9h-0.9zM396.1,125.0h0.9v0.9h-0.9zM397.3,125.4h0.9v0.9h-0.9zM338.4,127.0h0.9v0.9h-0.9zM396.3,127.3h0.9v0.9h-0.9zM391.6,128.2h0.9v0.9h-0.9zM393.5,128.4h0.9v0.9h-0.9z" fill="#999" clip-path="url(#cC2)"/>
<path d="M338.4,107.5 338.6,106.8 338.7,105.8 338.7,104.8 338.9,104.1 339.4,103.3 339.8,102.8 340.3,102.3 340.6,101.8 340.9,101.3 341.4,100.4 341.9,99.8 342.4,99.3 342.9,99.0 343.4,98.8 344.3,98.3 344.9,97.8 345.4,97.3 345.9,96.8 346.4,96.4 346.9,96.1 347.9,95.8 348.4,95.8 349.4,95.8 350.4,95.7 351.4,95.7 352.4,95.6 353.4,95.4 353.9,94.8 354.0,94.3 354.2,93.3 354.3,92.3 354.4,91.4 354.5,90.8 354.6,89.8 354.6,88.8 354.5,87.8 354.5,86.8 354.5,85.8 354.6,84.8 354.6,83.8 354.6,82.8 354.4,81.9 354.2,81.3 353.9,80.3 353.8,79.8 353.6,78.8 353.5,77.8 353.5,76.8 353.5,75.8 353.4,75.3 353.2,74.3 353.1,73.3 353.1,72.3 353.2,71.3 353.3,70.3 353.4,69.3 353.4,68.7 353.5,67.8 353.7,66.8 353.9,66.0 354.1,65.3 354.4,64.4 354.6,63.8 354.9,63.2 355.4,62.3 355.7,61.8 356.0,61.3 356.4,60.8 356.9,60.2 357.4,59.6 357.7,59.3 M364.3,59.3 364.7,59.8 365.1,60.3 365.5,60.8 365.9,61.4 366.4,62.0 366.9,62.6 367.4,63.3 367.7,63.8 368.0,64.3 368.4,64.9 368.9,65.6 369.4,66.3 369.9,66.7 370.4,67.1 370.9,67.3 371.9,67.7 372.9,67.7 373.5,67.3 374.4,66.9 375.2,66.8 375.9,66.8 376.4,66.8 377.4,67.2 377.9,67.5 378.4,67.8 379.4,68.3 379.9,68.5 380.3,69.3 379.9,70.3 379.4,70.7 378.9,70.8 377.9,70.9 376.9,70.9 375.9,70.8 375.4,70.7 374.4,70.4 373.9,70.2 372.9,69.9 372.0,70.3 371.5,70.8 370.9,71.3 370.4,71.7 369.9,72.2 369.4,72.7 369.1,73.3 368.9,73.8 368.7,74.8 368.5,75.8 368.4,76.3 368.3,77.3 368.2,78.3 368.1,79.3 368.1,80.3 368.0,81.3 367.9,81.8 367.8,82.8 367.7,83.8 367.6,84.8 367.5,85.8 367.4,86.3 367.2,87.3 367.2,88.3 367.3,89.3 367.4,89.9 367.6,90.8 367.6,91.8 367.4,92.8 367.3,93.3 367.2,94.3 367.0,95.3 366.9,96.2 366.9,96.8 366.8,97.8 366.8,98.8 366.8,99.8 366.9,100.5 367.3,101.3 367.9,101.7 368.4,101.8 369.3,101.8 369.9,101.7 370.9,101.4 371.4,101.2 372.1,100.8 372.7,100.3 373.1,99.8 373.4,99.1 373.5,98.3 373.5,97.3 373.8,96.3 374.2,95.8 374.6,95.3 375.0,94.8 375.4,94.3 375.9,93.3 376.0,92.8 376.0,91.8 376.0,90.8 376.0,89.8 376.2,88.8 376.4,88.3 376.9,87.4 377.3,86.8 377.5,86.3 377.7,85.3 377.9,84.6 378.3,83.8 378.8,83.3 379.4,83.0 379.9,82.8 380.9,82.4 381.4,82.0 381.9,81.4 382.2,80.8 382.6,80.3 383.1,79.8 383.7,79.3 384.2,78.8 384.5,78.3 384.4,77.6 383.9,76.8 383.6,76.3 383.5,75.3 384.4,75.1 384.9,75.4 385.5,75.8 386.4,76.2 386.9,76.5 387.4,77.2 387.4,77.4 386.9,78.3 386.4,78.8 386.1,79.3 385.9,80.3 386.0,81.3 386.4,82.3 386.5,82.8 386.7,83.8 386.7,84.8 386.7,85.8 386.8,86.8 386.4,87.8 386.3,88.3 386.3,89.3 386.2,90.3 385.9,91.3 385.7,91.8 385.4,92.8 385.3,93.3 385.3,94.3 385.4,95.2 385.5,95.8 385.5,96.8 385.4,97.3 385.1,98.3 384.9,99.3 385.2,100.3 385.4,101.1 385.5,101.8 385.8,102.8 386.0,103.3 386.4,103.8 387.0,104.3 387.5,104.8 388.1,105.3 388.8,105.8 389.4,106.3 389.9,106.6 390.4,106.8 391.4,107.1 392.4,107.2 392.9,107.3 393.9,107.8 394.4,108.2 394.9,108.8 395.2,109.3 395.5,109.8 395.9,110.4 396.4,111.1 396.9,111.6 397.4,112.2 397.8,112.8 398.1,113.3 398.4,114.3 398.3,115.3 398.2,116.3 398.3,117.3 398.4,118.3 398.4,118.8 398.4,119.3 398.1,120.3 397.9,120.8 397.4,121.6 397.1,122.3 396.9,122.8 396.4,123.8 396.2,124.3 395.9,125.0 395.6,125.8 395.3,126.3 394.9,126.8 394.4,127.4 393.9,127.8 392.9,128.2 391.9,128.1 390.9,128.0 389.9,128.2 389.5,128.3 M340.1,128.3 339.9,127.7 339.6,126.8 339.4,126.1 339.0,125.3 338.7,124.8 338.4,124.3 338.4,124.3 M338.4,110.9 338.5,110.3 338.9,109.3 339.1,108.8 339.4,108.2 339.9,107.3 340.1,106.8 340.2,105.8 340.4,104.8 340.5,104.3 340.9,103.5 341.3,102.8 341.6,102.3 341.9,101.7 342.4,100.9 342.9,100.4 343.4,100.0 343.9,99.8 344.9,99.4 345.4,99.2 346.2,98.8 346.9,98.3 347.4,97.9 347.9,97.6 348.5,97.3 349.4,97.1 350.4,97.2 351.1,97.3 351.9,97.7 352.4,98.0 352.9,98.5 353.4,98.9 354.1,98.8 354.5,98.3 354.9,97.3 355.1,96.8 355.3,95.8 355.3,94.8 355.3,93.8 355.3,92.8 355.4,92.1 355.5,91.3 355.6,90.3 355.6,89.3 355.5,88.3 355.4,87.5 355.4,86.8 355.4,85.9 355.4,85.3 355.5,84.3 355.5,83.3 355.4,82.4 355.3,81.8 355.0,80.8 354.8,80.3 354.5,79.3 354.4,78.6 354.3,77.8 354.2,76.8 354.2,75.8 354.0,74.8 353.9,74.2 353.8,73.3 353.9,72.3 354.0,71.8 354.1,70.8 354.2,69.8 354.3,68.8 354.4,68.1 354.5,67.3 354.6,66.3 354.9,65.4 355.1,64.8 355.4,64.0 355.8,63.3 356.1,62.8 356.4,62.3 356.9,61.8 357.4,61.3 357.9,60.8 358.5,60.3 359.1,59.8 359.9,59.3 359.9,59.3 M362.8,59.3 363.4,59.8 363.9,60.3 364.3,60.8 364.6,61.3 365.0,61.8 365.4,62.3 365.9,63.0 366.4,63.7 366.8,64.3 367.1,64.8 367.4,65.3 367.9,66.0 368.4,66.7 368.8,67.3 369.2,67.8 369.5,68.3 369.8,69.3 369.7,70.3 369.4,70.9 368.9,71.7 368.6,72.3 368.4,72.8 368.2,73.8 368.0,74.8 367.9,75.5 367.7,76.3 367.6,77.3 367.5,78.3 367.4,79.3 367.4,79.8 367.3,80.8 367.2,81.8 367.0,82.8 366.9,83.5 366.8,84.3 366.7,85.3 366.6,86.3 366.4,87.3 366.3,87.8 366.4,88.8 366.4,89.3 366.7,90.3 366.7,91.3 366.6,92.3 366.4,93.2 366.3,93.8 366.1,94.8 365.9,95.5 365.7,96.3 365.5,97.3 365.4,98.0 365.4,98.8 365.4,99.3 365.6,100.3 365.9,101.2 366.2,101.8 366.6,102.3 367.1,102.8 367.9,103.1 368.9,103.1 369.9,102.9 370.4,102.8 371.4,102.6 372.4,102.5 373.1,102.3 373.9,102.1 374.9,101.8 375.4,101.7 376.4,101.3 376.9,101.0 377.4,100.5 377.9,99.9 378.4,99.4 378.9,99.1 379.9,99.0 380.9,99.1 381.4,99.4 381.9,100.0 382.2,100.8 382.4,101.8 382.4,101.9 382.4,102.5 382.6,103.3 383.2,103.8 383.9,104.2 384.4,104.5 385.0,104.8 385.8,105.3 386.4,105.7 386.9,106.0 387.5,106.3 388.3,106.8 388.9,107.2 389.4,107.5 389.9,107.8 390.9,108.2 391.4,108.3 392.4,108.5 393.3,108.8 393.9,109.3 394.3,109.8 394.5,110.3 394.9,111.3 395.1,111.8 395.4,112.3 395.9,112.9 396.4,113.6 396.8,114.3 396.9,115.3 396.9,116.3 396.9,116.8 397.1,117.8 396.9,118.8 396.8,119.3 396.4,120.0 396.0,120.8 395.9,121.3 395.6,122.3 395.4,122.9 395.1,123.8 394.9,124.4 394.5,125.3 394.2,125.8 393.8,126.3 392.9,126.7 391.9,126.6 390.9,126.4 389.9,126.5 389.0,126.8 388.4,127.1 387.9,127.4 387.0,127.8 386.4,128.0 385.8,128.3 385.8,128.3 M381.9,94.0 381.1,93.8 380.9,92.8 381.1,91.8 381.2,90.8 381.4,90.3 381.9,89.7 382.7,89.8 383.4,90.3 383.6,90.8 383.6,91.8 383.4,92.4 382.9,93.2 382.4,93.7 381.9,94.0Z M338.4,120.7 338.4,119.8 338.4,119.0 338.4,119.0 M341.6,128.3 341.3,127.8 340.9,126.8 340.8,126.3 340.4,125.6 339.9,124.8 339.6,124.3 339.2,123.8 338.9,123.3 338.5,122.3 338.4,121.9 M363.5,128.3 362.9,128.0 362.4,127.7 361.4,127.3 360.9,127.2 359.9,127.3 359.4,127.5 358.9,127.9 358.6,128.3 M343.6,128.3 343.3,127.8 342.9,127.2 342.5,126.3 342.2,125.8 341.8,125.3 341.4,124.8 340.9,124.2 340.4,123.6 339.9,122.8 339.7,122.3 339.5,121.3 339.5,120.3 339.4,119.3 339.4,118.8 339.2,117.8 339.0,116.8 338.8,116.3 338.7,115.3 338.7,114.3 338.8,113.3 338.9,112.8 339.3,111.8 339.5,111.3 339.7,110.3 339.9,109.8 340.4,108.8 340.7,108.3 341.1,107.8 341.4,107.2 341.6,106.3 341.8,105.3 341.9,104.5 342.1,103.8 342.4,103.0 342.7,102.3 343.0,101.8 343.4,101.3 344.1,100.8 344.9,100.5 345.6,100.3 346.4,100.1 347.4,99.8 347.9,99.6 348.5,99.3 349.4,99.0 350.3,99.3 350.8,99.8 351.2,100.3 351.8,100.8 352.4,101.1 352.9,101.4 353.9,101.6 354.9,101.7 355.9,101.4 356.3,100.8 356.3,99.8 356.3,98.8 356.3,97.8 356.4,97.1 356.5,96.3 356.4,95.3 356.4,94.8 356.3,93.8 356.3,92.8 356.4,92.3 356.6,91.3 356.7,90.3 356.6,89.3 356.4,88.3 356.3,87.8 356.3,86.8 356.3,85.8 356.3,84.8 356.3,83.8 356.2,82.8 356.1,81.8 355.9,80.8 355.8,80.3 355.5,79.3 355.4,78.8 355.1,77.8 355.0,76.8 354.9,75.8 354.9,75.3 354.6,74.3 354.5,73.3 354.6,72.3 354.9,71.3 355.0,70.8 355.2,69.8 355.3,68.8 355.4,67.8 355.4,67.1 355.5,66.3 355.7,65.3 356.0,64.8 356.4,64.0 356.9,63.3 357.4,62.9 357.9,62.5 358.4,62.1 358.9,61.7 359.6,61.3 360.4,60.8 360.9,60.6 361.9,60.5 362.6,60.8 363.2,61.3 363.6,61.8 364.0,62.3 364.5,62.8 364.9,63.3 365.4,64.0 365.9,64.8 366.2,65.3 366.6,65.8 366.9,66.3 367.4,67.1 367.8,67.8 368.0,68.3 368.2,69.3 368.3,70.3 368.0,71.3 367.8,71.8 367.6,72.8 367.5,73.8 367.4,74.5 367.3,75.3 367.0,76.3 366.9,76.8 366.8,77.8 366.8,78.8 366.8,79.8 366.7,80.8 366.5,81.8 366.3,82.3 366.1,83.3 365.9,84.3 365.9,84.8 365.8,85.8 365.6,86.8 365.4,87.8 365.5,88.8 365.6,89.8 365.8,90.8 365.8,91.8 365.5,92.8 365.4,93.3 365.1,94.3 364.9,95.1 364.7,95.8 364.4,96.5 364.1,97.3 363.9,98.3 364.1,99.3 364.4,100.3 364.6,100.8 364.9,101.6 365.2,102.3 365.4,102.8 365.7,103.8 365.8,104.8 366.0,105.3 366.9,105.5 367.4,105.3 368.0,104.8 368.9,104.4 369.4,104.2 370.4,103.9 371.4,103.9 372.4,104.2 372.9,104.5 373.4,104.9 374.2,105.3 374.9,105.4 375.9,105.4 376.9,105.6 377.7,105.8 378.4,106.0 379.4,106.0 380.4,105.9 381.4,105.8 381.9,105.8 382.9,105.8 383.4,105.9 384.4,106.2 384.9,106.5 385.4,106.8 386.2,107.3 386.9,107.6 387.4,107.8 388.3,108.3 388.9,108.8 389.4,109.1 389.9,109.4 390.9,109.6 391.9,109.7 392.4,109.8 393.2,110.3 393.5,110.8 393.9,111.8 394.1,112.3 394.4,113.1 394.8,113.8 395.1,114.3 395.4,115.3 395.5,115.8 395.7,116.8 395.8,117.8 395.6,118.8 395.4,119.3 394.9,120.2 394.6,120.8 394.4,121.3 394.0,122.3 393.9,122.8 393.6,123.8 393.3,124.3 392.9,124.8 391.9,125.1 390.9,125.0 389.9,124.9 388.9,125.1 388.4,125.3 387.6,125.8 386.9,126.3 386.4,126.5 385.9,126.8 385.0,127.3 384.4,127.7 383.9,128.0 383.5,128.3 M366.1,128.3 365.4,128.1 364.9,127.8 364.1,127.3 363.4,126.9 362.9,126.7 362.0,126.3 361.4,126.1 360.4,126.0 359.4,126.1 358.9,126.3 358.3,126.8 357.9,127.3 357.4,128.1 357.2,128.3 M376.2,128.3 375.4,128.0 374.9,127.8 373.9,127.5 372.9,127.5 371.9,127.7 371.3,127.8 370.4,128.0 369.4,128.0 368.4,128.1 367.4,128.2 367.0,128.3 M380.1,128.3 379.4,128.1 378.4,128.1 377.4,128.3 377.2,128.3 M359.9,99.4 358.9,99.8 358.3,99.3 357.9,98.7 357.8,97.8 357.8,96.8 357.7,95.8 357.5,94.8 357.4,94.3 357.3,93.3 357.4,92.4 357.5,91.8 357.5,90.8 357.5,89.8 357.4,88.9 357.3,88.3 357.3,87.3 357.3,86.3 357.2,85.3 357.1,84.3 357.0,83.3 357.0,82.3 356.9,81.5 356.8,80.8 356.6,79.8 356.4,79.0 356.2,78.3 355.9,77.3 355.8,76.8 355.7,75.8 355.5,74.8 355.3,74.3 355.2,73.3 355.4,72.3 355.5,71.8 355.9,70.8 356.0,70.3 356.2,69.3 356.2,68.3 356.2,67.3 356.3,66.3 356.4,65.8 356.9,64.9 357.4,64.3 357.9,63.9 358.4,63.4 358.9,63.1 359.4,62.7 360.3,62.3 360.9,62.1 361.9,62.2 362.4,62.4 363.0,62.8 363.6,63.3 364.1,63.8 364.5,64.3 364.9,64.8 365.4,65.6 365.8,66.3 366.1,66.8 366.4,67.4 366.8,68.3 367.0,68.8 367.2,69.8 367.2,70.8 367.0,71.8 366.9,72.4 366.8,73.3 366.8,74.3 366.6,75.3 366.4,76.0 366.2,76.8 366.0,77.8 366.1,78.8 366.1,79.8 366.0,80.8 365.8,81.3 365.5,82.3 365.3,82.8 365.1,83.8 364.9,84.8 364.9,85.3 364.7,86.3 364.5,87.3 364.4,88.3 364.5,89.3 364.7,90.3 364.7,91.3 364.5,92.3 364.3,92.8 363.9,93.8 363.8,94.3 363.5,95.3 363.2,95.8 362.8,96.3 362.2,96.8 361.7,97.3 361.3,97.8 360.9,98.3 360.4,98.9 359.9,99.4Z M345.2,128.3 344.8,127.8 344.4,127.1 344.0,126.3 343.7,125.8 343.4,125.3 342.9,124.6 342.4,124.1 341.9,123.5 341.4,122.8 341.1,122.3 340.9,121.8 340.6,120.8 340.4,119.8 340.3,119.3 340.2,118.3 340.0,117.3 340.0,116.3 340.1,115.3 340.1,114.3 340.2,113.3 340.3,112.3 340.5,111.8 340.7,110.8 340.9,110.3 341.4,109.3 341.7,108.8 342.0,108.3 342.4,107.5 342.6,106.8 342.8,105.8 342.9,105.3 343.1,104.3 343.4,103.3 343.6,102.8 343.9,102.3 344.4,101.8 345.4,101.4 345.9,101.2 346.9,101.0 347.9,101.0 348.9,101.2 349.4,101.4 350.0,101.8 350.9,102.2 351.4,102.3 352.4,102.6 353.2,102.8 353.9,103.0 354.7,103.3 355.4,103.5 356.4,103.8 357.4,103.5 357.9,103.0 358.4,102.5 358.9,102.1 359.9,102.0 360.9,102.1 361.9,101.9 362.4,101.8 362.9,101.9 363.4,102.5 363.5,103.3 363.4,103.8 363.2,104.8 363.2,105.8 363.4,106.3 363.9,106.9 364.6,107.3 365.4,107.5 366.4,107.6 367.4,107.5 367.9,107.3 368.5,106.8 369.0,106.3 369.4,105.8 370.4,105.3 370.9,105.3 371.4,105.4 372.0,105.8 372.6,106.3 373.4,106.7 373.9,106.8 374.9,106.9 375.9,107.0 376.7,107.3 377.4,107.8 377.9,108.2 378.4,108.4 379.4,108.6 380.3,108.3 380.9,108.0 381.4,107.8 382.4,107.7 382.9,107.8 383.4,108.3 383.8,109.3 384.1,109.8 384.8,110.3 385.4,110.4 386.4,110.4 386.9,110.3 387.4,110.3 388.4,110.7 388.9,111.0 389.8,111.3 390.4,111.4 391.4,111.3 392.3,111.8 392.5,112.3 392.6,113.3 392.9,114.1 393.3,114.8 393.6,115.3 393.9,116.0 394.2,116.8 394.4,117.8 394.2,118.8 393.9,119.5 393.4,120.2 392.9,120.8 392.5,121.3 392.1,121.8 391.7,122.3 391.3,122.8 390.7,123.3 389.9,123.6 388.9,123.7 388.4,123.9 387.4,124.1 386.8,124.3 385.9,124.6 385.4,124.9 384.9,125.4 384.4,126.0 383.9,126.5 383.4,126.9 382.6,127.3 381.9,127.4 381.0,127.3 380.4,127.1 379.4,126.9 378.4,126.9 377.4,127.0 376.5,126.8 375.9,126.6 375.3,126.3 374.4,126.1 373.4,126.2 372.8,126.3 371.9,126.5 370.9,126.7 370.4,126.8 369.7,126.8 368.9,126.7 367.9,126.7 367.1,126.8 366.4,126.9 365.9,126.8 364.9,126.4 364.4,126.1 363.8,125.8 362.9,125.4 362.4,125.2 361.4,124.9 360.4,124.8 359.4,124.8 358.4,125.0 357.6,125.3 357.0,125.8 356.7,126.3 356.3,126.8 355.9,127.3 355.4,127.8 354.9,128.3 354.9,128.3 M360.4,93.9 359.4,94.1 358.8,93.8 358.5,92.8 358.4,92.3 358.3,91.3 358.3,90.3 358.2,89.3 358.3,88.3 358.4,87.3 358.5,86.8 358.5,85.8 358.3,85.3 358.0,84.3 357.8,83.8 357.7,82.8 357.7,81.8 357.6,80.8 357.5,79.8 357.4,79.3 357.0,78.3 356.8,77.8 356.5,76.8 356.4,76.3 356.2,75.3 356.0,74.3 355.9,73.8 355.9,72.8 356.0,72.3 356.4,71.3 356.6,70.8 356.8,69.8 356.9,69.3 357.0,68.3 357.0,67.3 357.1,66.3 357.4,65.7 357.9,65.1 358.4,64.6 358.9,64.2 359.4,63.8 360.2,63.3 360.9,63.1 361.9,63.2 362.4,63.4 363.0,63.8 363.6,64.3 364.1,64.8 364.4,65.3 364.9,66.2 365.2,66.8 365.4,67.3 365.8,68.3 366.0,68.8 366.3,69.8 366.4,70.8 366.3,71.8 366.2,72.8 366.2,73.8 366.1,74.8 365.9,75.5 365.6,76.3 365.4,77.1 365.3,77.8 365.4,78.8 365.5,79.3 365.4,80.3 365.3,80.8 364.9,81.8 364.6,82.3 364.3,82.8 364.0,83.8 363.9,84.8 363.9,85.3 363.7,86.3 363.5,87.3 363.4,87.8 363.3,88.8 363.4,89.6 363.5,90.3 363.5,91.3 363.3,91.8 362.9,92.4 362.4,92.9 361.8,93.3 360.9,93.8 360.4,93.9Z M347.3,128.3 346.4,128.0 345.9,127.6 345.4,126.9 345.1,126.3 344.8,125.8 344.4,125.1 343.9,124.3 343.5,123.8 343.1,123.3 342.7,122.8 342.4,122.3 341.9,121.4 341.6,120.8 341.4,120.3 341.1,119.3 340.9,118.3 340.9,117.8 340.9,117.2 341.0,116.3 341.2,115.3 341.2,114.3 341.2,113.3 341.3,112.3 341.4,111.8 341.7,110.8 342.0,110.3 342.4,109.4 342.7,108.8 343.0,108.3 343.3,107.3 343.4,106.8 343.7,105.8 343.9,105.2 344.2,104.3 344.4,103.8 344.9,103.1 345.4,102.6 345.9,102.3 346.9,102.0 347.9,102.0 348.6,102.3 349.4,102.8 349.9,103.1 350.4,103.3 351.4,103.6 352.3,103.8 352.9,104.0 353.8,104.3 354.4,104.6 354.9,104.8 355.6,105.3 356.4,105.8 356.9,106.2 357.4,106.5 358.0,106.8 358.7,107.3 359.3,107.8 359.9,108.2 360.4,108.4 361.4,108.7 362.1,108.8 362.9,108.9 363.9,108.8 364.4,108.7 365.4,108.6 366.4,108.6 367.4,108.5 368.1,108.3 368.9,107.8 369.4,107.4 369.9,107.0 370.4,106.7 371.4,106.8 371.9,107.0 372.4,107.3 373.4,107.7 373.9,107.8 374.9,107.9 375.9,108.2 376.4,108.5 376.9,108.8 377.6,109.3 378.4,109.8 378.9,110.1 379.6,110.3 380.4,110.4 381.4,110.3 382.4,110.7 382.9,110.9 383.7,111.3 384.4,111.5 385.4,111.7 386.4,111.8 386.9,111.8 387.9,112.0 388.4,112.3 389.1,112.8 389.6,113.3 390.0,113.8 390.4,114.3 390.9,114.9 391.4,115.4 391.9,115.9 392.4,116.4 392.9,117.3 393.0,117.8 393.0,118.8 392.8,119.3 392.4,119.8 391.9,120.4 391.4,120.9 390.9,121.3 390.3,121.8 389.4,122.2 388.9,122.4 387.9,122.5 386.9,122.4 385.9,122.4 384.9,122.7 384.4,123.0 383.9,123.3 383.2,123.8 382.6,124.3 382.0,124.8 381.4,125.1 380.9,125.4 379.9,125.8 379.4,125.9 378.4,126.0 377.4,126.0 376.9,125.8 375.9,125.4 375.4,125.2 374.4,125.1 373.4,125.2 372.7,125.3 371.9,125.5 370.9,125.6 369.9,125.7 368.9,125.5 367.9,125.5 366.9,125.5 365.9,125.4 365.4,125.2 364.6,124.8 363.9,124.5 363.4,124.3 362.4,124.0 361.7,123.8 360.9,123.7 359.9,123.6 358.9,123.5 357.9,123.4 356.9,123.6 356.4,123.9 355.9,124.3 355.4,124.9 354.9,125.7 354.6,126.3 354.4,126.8 353.9,127.7 353.4,128.3 353.4,128.3 M350.6,128.3 349.9,128.0 348.9,128.0 347.9,128.2 347.5,128.3" fill="none" stroke="#444" stroke-width="0.75" stroke-linejoin="round" clip-path="url(#cC2)" />
<path d="M361.4,84.8 360.4,84.6 359.4,84.3 358.9,83.9 358.5,83.3 358.4,82.8 358.3,81.8 358.4,81.2 358.4,80.3 358.4,79.8 357.9,78.8 357.6,78.3 357.4,77.8 357.0,76.8 356.9,76.3 356.7,75.3 356.5,74.3 356.4,73.8 356.4,72.9 356.5,72.3 356.9,71.3 357.1,70.8 357.3,69.8 357.4,69.3 357.5,68.3 357.6,67.3 357.9,66.4 358.3,65.8 358.8,65.3 359.3,64.8 359.9,64.3 360.4,64.0 360.9,63.8 361.5,63.8 362.4,64.1 362.9,64.4 363.4,64.9 363.9,65.6 364.3,66.3 364.4,66.8 364.7,67.8 364.9,68.3 365.3,69.3 365.5,69.8 365.6,70.8 365.6,71.8 365.6,72.8 365.6,73.8 365.5,74.8 365.4,75.3 365.0,76.3 364.9,76.8 364.7,77.8 364.8,78.8 364.9,79.8 364.6,80.8 364.4,81.3 363.9,81.9 363.4,82.4 362.9,82.9 362.4,83.5 361.9,84.2 361.4,84.8Z M360.4,91.1 359.6,90.8 359.4,90.3 359.3,89.3 359.4,88.8 359.9,87.8 360.3,87.3 360.6,86.8 360.9,86.0 361.3,85.3 361.9,85.0 362.3,85.8 362.2,86.8 361.9,87.5 361.5,88.3 361.4,88.8 361.3,89.8 360.9,90.7 360.4,91.1Z M352.4,127.5 351.4,127.3 350.9,127.1 349.9,126.9 348.9,127.0 347.9,127.1 346.9,127.0 346.4,126.6 345.9,126.0 345.5,125.3 345.2,124.8 344.9,124.3 344.4,123.6 343.9,122.9 343.4,122.3 343.0,121.8 342.7,121.3 342.4,120.8 341.9,119.8 341.8,119.3 341.6,118.3 341.6,117.3 341.9,116.3 342.0,115.8 342.1,114.8 341.9,113.8 341.9,113.3 341.9,112.8 342.2,111.8 342.5,111.3 342.9,110.5 343.2,109.8 343.4,109.3 343.7,108.3 343.9,107.5 344.1,106.8 344.4,106.0 344.8,105.3 345.1,104.8 345.4,104.3 345.9,103.6 346.4,103.1 347.4,102.8 348.4,103.1 348.9,103.4 349.5,103.8 350.4,104.3 350.9,104.5 351.8,104.8 352.4,105.0 353.1,105.3 353.9,105.8 354.4,106.2 354.8,106.8 355.1,107.3 355.4,108.1 355.7,108.8 356.0,109.3 356.4,110.0 356.8,110.8 357.1,111.3 357.6,111.8 358.4,112.2 359.4,112.1 360.3,111.8 360.8,111.3 361.2,110.8 361.8,110.3 362.4,110.0 363.4,109.8 363.9,109.7 364.9,109.4 365.7,109.3 366.4,109.2 367.4,109.2 368.4,109.0 368.9,108.8 369.7,108.3 370.4,107.8 370.9,107.7 371.5,107.8 372.4,108.1 373.2,108.3 373.9,108.4 374.9,108.6 375.4,108.8 376.4,109.3 376.9,109.6 377.4,110.0 377.9,110.4 378.5,110.8 379.3,111.3 379.9,111.5 380.9,111.7 381.8,111.8 382.4,111.9 383.4,112.1 384.3,112.3 384.9,112.4 385.9,112.5 386.9,112.6 387.6,112.8 388.4,113.3 388.9,113.8 389.3,114.3 389.7,114.8 390.1,115.3 390.6,115.8 391.1,116.3 391.5,116.8 391.9,117.5 392.1,118.3 391.9,119.2 391.5,119.8 390.9,120.3 390.4,120.7 389.9,120.9 388.9,121.0 388.3,120.8 387.4,120.4 386.9,120.2 385.9,120.1 385.3,120.3 384.9,120.8 384.4,121.4 383.9,121.9 382.9,122.3 382.4,122.4 381.4,122.5 380.9,122.9 380.4,123.6 380.0,124.3 379.5,124.8 378.9,125.1 377.9,125.3 376.9,125.0 376.4,124.8 375.4,124.5 374.4,124.4 373.4,124.4 372.4,124.4 371.4,124.4 370.4,124.5 369.4,124.5 368.4,124.5 367.4,124.5 366.4,124.4 365.9,124.1 365.4,123.8 364.9,123.3 364.2,122.8 363.4,122.6 362.4,122.6 361.4,122.5 360.4,122.3 359.9,122.2 358.9,122.0 357.9,121.9 356.9,121.9 355.9,121.9 355.3,122.3 354.9,123.3 354.7,123.8 354.4,124.3 353.9,125.1 353.5,125.8 353.3,126.3 352.9,127.0 352.4,127.5Z M360.9,82.9 359.9,83.0 359.4,82.6 359.2,81.8 359.3,80.8 359.3,79.8 358.9,79.0 358.4,78.3 358.0,77.8 357.7,77.3 357.4,76.3 357.3,75.8 357.1,74.8 356.9,74.0 356.8,73.3 356.9,72.8 357.2,71.8 357.4,71.1 357.6,70.3 357.9,69.3 358.0,68.8 358.2,67.8 358.4,67.1 358.9,66.3 359.3,65.8 359.8,65.3 360.4,64.8 360.9,64.5 361.9,64.5 362.4,64.8 363.0,65.3 363.4,65.9 363.7,66.8 363.8,67.8 363.9,68.4 364.2,69.3 364.5,69.8 364.8,70.8 364.9,71.5 364.9,72.3 365.0,73.3 365.0,74.3 364.9,74.9 364.7,75.8 364.4,76.6 364.2,77.3 364.2,78.3 364.2,79.3 364.1,80.3 363.8,80.8 363.3,81.3 362.7,81.8 362.1,82.3 361.4,82.7 360.9,82.9Z M349.9,125.9 348.9,125.9 347.9,125.9 347.4,125.7 346.9,125.3 346.4,124.8 345.9,124.2 345.4,123.4 345.0,122.8 344.5,122.3 344.0,121.8 343.5,121.3 343.1,120.8 342.8,120.3 342.4,119.4 342.2,118.8 342.2,117.8 342.4,117.0 342.6,116.3 342.8,115.3 342.7,114.3 342.6,113.3 342.9,112.3 343.2,111.8 343.7,111.3 344.0,110.8 344.3,109.8 344.4,108.8 344.4,108.3 344.7,107.3 344.9,106.7 345.4,105.9 345.9,105.3 346.4,104.8 346.8,104.3 347.4,104.0 348.3,104.3 348.8,104.8 349.4,105.2 349.9,105.4 350.9,105.6 351.6,105.8 352.4,106.2 352.9,106.5 353.4,106.9 353.9,107.6 354.3,108.3 354.6,108.8 354.9,109.3 355.4,110.0 355.8,110.8 356.1,111.3 356.4,112.0 356.9,112.8 357.4,113.2 358.4,113.3 359.4,113.1 360.4,112.9 360.9,112.7 361.4,112.3 361.9,111.8 362.4,111.3 363.1,110.8 363.9,110.4 364.4,110.2 365.4,110.0 366.4,109.8 367.4,109.8 367.9,109.8 368.9,109.6 369.8,109.3 370.4,108.9 370.9,108.7 371.9,108.7 372.7,108.8 373.4,108.9 374.4,109.1 375.0,109.3 375.9,109.7 376.4,110.0 376.9,110.4 377.4,110.8 378.0,111.3 378.7,111.8 379.4,112.2 379.9,112.4 380.9,112.6 381.9,112.7 382.9,112.8 383.4,112.9 384.4,113.0 385.4,113.1 386.4,113.2 386.9,113.3 387.9,113.8 388.4,114.3 388.8,114.8 389.2,115.3 389.6,115.8 390.0,116.3 390.5,116.8 390.9,117.4 391.2,118.3 390.9,119.3 390.4,119.7 389.9,120.0 388.9,120.0 388.4,119.8 387.4,119.4 386.9,119.2 386.0,118.8 385.4,118.7 384.8,118.8 384.3,119.3 383.9,120.0 383.4,120.8 382.9,121.1 381.9,121.1 380.9,120.9 380.0,121.3 379.7,121.8 379.4,122.8 379.3,123.3 378.9,124.0 378.4,124.4 377.4,124.4 376.9,124.2 375.9,123.9 375.4,123.7 374.4,123.6 373.4,123.6 372.4,123.4 371.4,123.4 370.4,123.5 369.4,123.6 368.4,123.5 367.4,123.4 366.9,123.2 366.4,122.7 365.9,121.8 365.4,121.3 364.9,121.1 363.9,121.2 362.9,121.3 362.4,121.3 361.9,121.3 360.9,121.0 360.2,120.8 359.4,120.4 358.9,119.9 358.9,119.6 359.1,118.8 359.1,117.8 358.8,117.3 358.3,116.8 357.4,116.3 356.6,116.8 356.4,117.3 356.3,118.3 356.0,119.3 355.5,119.8 354.9,120.1 354.3,120.3 353.4,120.8 353.2,121.3 353.3,122.3 353.4,122.8 353.4,123.3 353.0,124.3 352.5,124.8 351.9,125.3 351.4,125.5 350.4,125.8 349.9,125.9Z M360.9,81.9 360.4,81.7 360.1,80.8 360.1,79.8 359.9,79.3 359.4,78.5 358.9,78.0 358.4,77.4 358.1,76.8 357.9,76.3 357.6,75.3 357.4,74.3 357.3,73.8 357.3,72.8 357.4,72.3 357.7,71.3 357.9,70.7 358.2,69.8 358.4,69.0 358.6,68.3 358.9,67.6 359.4,66.8 359.8,66.3 360.3,65.8 360.9,65.3 361.4,65.1 362.0,65.3 362.6,65.8 362.9,66.6 362.9,67.3 362.9,67.8 362.9,68.3 363.3,69.3 363.6,69.8 363.9,70.4 364.2,71.3 364.3,72.3 364.3,73.3 364.4,74.3 364.3,75.3 364.0,76.3 363.8,76.8 363.6,77.8 363.6,78.8 363.5,79.8 363.3,80.3 362.9,80.8 362.2,81.3 361.4,81.8 360.9,81.9Z M350.9,124.4 349.9,124.7 348.9,124.7 347.9,124.3 347.4,124.0 346.9,123.6 346.4,123.1 345.9,122.6 345.4,122.1 344.9,121.7 344.3,121.3 343.7,120.8 343.3,120.3 342.9,119.5 342.7,118.8 342.7,117.8 342.9,117.2 343.2,116.3 343.4,115.7 343.4,114.8 343.4,114.3 343.3,113.3 343.5,112.8 343.9,112.3 344.4,111.8 344.9,111.2 345.3,110.3 345.3,109.3 345.3,108.3 345.4,107.7 345.9,106.9 346.4,106.6 347.2,106.8 347.9,107.2 348.4,107.4 348.9,107.3 349.9,106.8 350.4,106.6 351.4,106.7 351.9,106.9 352.6,107.3 353.1,107.8 353.5,108.3 353.9,109.0 354.4,109.7 354.8,110.3 355.1,110.8 355.4,111.6 355.5,112.3 355.6,113.3 355.7,114.3 355.8,115.3 355.7,116.3 355.6,117.3 355.4,118.3 355.2,118.8 354.7,119.3 353.9,119.7 353.4,119.9 352.6,120.3 352.2,120.8 352.1,121.8 352.2,122.8 351.9,123.6 351.4,124.1 350.9,124.4Z M377.9,123.4 376.9,123.4 376.4,123.2 375.4,123.1 374.4,123.0 373.4,122.9 372.9,122.8 371.9,122.7 370.9,122.7 370.2,122.8 369.4,122.8 368.9,122.8 367.9,122.4 367.4,121.9 367.1,121.3 366.8,120.8 366.3,120.3 365.4,119.8 364.9,119.7 364.1,119.8 363.4,120.0 362.4,120.1 361.6,119.8 361.1,119.3 360.8,118.8 360.4,118.1 360.0,117.3 359.6,116.8 359.3,116.3 358.9,115.8 358.5,114.8 358.9,114.3 359.9,113.9 360.4,113.7 361.3,113.3 361.9,112.9 362.4,112.4 362.9,111.9 363.4,111.5 363.9,111.1 364.6,110.8 365.4,110.5 366.4,110.4 367.4,110.4 368.4,110.4 369.4,110.3 369.9,110.3 370.9,109.9 371.4,109.6 372.4,109.4 373.4,109.4 374.4,109.6 374.9,109.8 375.8,110.3 376.4,110.7 376.9,111.2 377.4,111.6 377.9,112.0 378.4,112.4 379.2,112.8 379.9,113.0 380.9,113.2 381.4,113.3 382.4,113.5 383.4,113.6 384.4,113.7 385.4,113.8 385.9,113.8 386.9,114.0 387.5,114.3 388.0,114.8 388.4,115.4 388.9,116.1 389.4,116.7 389.9,117.3 390.2,117.8 390.1,118.8 389.4,119.1 388.4,119.0 387.9,118.8 386.9,118.3 386.4,118.0 385.9,117.7 384.9,117.6 384.3,117.8 383.8,118.3 383.4,118.9 382.9,119.6 382.4,119.9 381.6,119.8 380.9,119.5 379.9,119.6 379.4,120.1 379.0,120.8 378.7,121.3 378.5,122.3 378.3,122.8 377.9,123.4Z M361.9,80.5 361.2,80.3 360.9,79.8 360.5,78.8 360.1,78.3 359.6,77.8 359.0,77.3 358.6,76.8 358.4,76.3 358.1,75.3 357.9,74.6 357.7,73.8 357.7,72.8 357.9,71.9 358.0,71.3 358.4,70.3 358.5,69.8 358.9,68.9 359.3,68.3 359.7,67.8 360.2,67.3 360.7,66.8 361.3,66.3 361.5,66.3 361.8,67.3 361.8,68.3 362.1,68.8 362.4,69.3 362.9,69.9 363.4,70.7 363.6,71.3 363.7,72.3 363.7,73.3 363.8,74.3 363.7,75.3 363.4,76.3 363.2,76.8 363.0,77.8 362.9,78.8 362.9,79.3 362.4,80.1 361.9,80.5Z M349.9,123.5 348.9,123.5 348.4,123.3 347.5,122.8 346.9,122.3 346.4,122.0 345.9,121.7 345.3,121.3 344.4,120.8 343.9,120.3 343.5,119.8 343.3,119.3 343.1,118.3 343.4,117.3 343.6,116.8 343.9,115.8 344.0,115.3 344.0,114.3 344.2,113.3 344.5,112.8 345.0,112.3 345.4,111.8 345.9,111.0 346.2,110.3 346.4,109.8 346.9,109.0 347.9,108.9 348.9,109.0 349.5,108.8 350.1,108.3 350.7,107.8 351.4,107.7 351.9,107.9 352.5,108.3 352.9,108.8 353.4,109.4 353.9,110.1 354.4,110.8 354.6,111.3 354.7,112.3 354.6,113.3 354.7,114.3 354.9,114.9 355.1,115.8 355.1,116.8 355.0,117.8 354.8,118.3 354.4,118.8 353.5,119.3 352.9,119.5 352.2,119.8 351.5,120.3 351.3,120.8 351.1,121.8 350.9,122.8 350.4,123.3 349.9,123.5Z M375.9,122.4 374.9,122.4 373.9,122.3 373.4,122.3 372.4,122.1 371.4,122.1 370.4,122.2 369.4,122.1 368.6,121.8 368.2,121.3 367.9,120.8 367.4,120.0 366.9,119.5 366.4,119.2 365.9,118.8 365.3,118.3 364.6,117.8 363.9,117.7 363.4,117.8 362.4,118.2 361.4,117.8 360.9,117.3 360.5,116.8 360.2,116.3 359.9,115.3 360.4,114.6 360.9,114.3 361.8,113.8 362.4,113.3 362.9,112.8 363.4,112.3 363.9,111.9 364.4,111.6 364.9,111.3 365.9,111.0 366.9,111.0 367.9,111.1 368.9,111.1 369.9,111.3 370.4,111.3 370.9,111.3 371.6,110.8 372.1,110.3 372.9,110.0 373.9,110.1 374.6,110.3 375.4,110.8 375.9,111.3 376.4,111.7 376.9,112.1 377.4,112.5 377.9,112.8 378.8,113.3 379.4,113.5 380.3,113.8 380.9,114.0 381.8,114.3 382.4,114.5 383.4,114.6 384.4,114.6 385.4,114.5 386.4,114.7 386.9,114.9 387.4,115.6 387.7,116.3 388.0,116.8 387.9,117.5 387.4,117.3 386.5,116.8 385.9,116.6 384.9,116.5 384.0,116.8 383.4,117.3 383.0,117.8 382.5,118.3 381.9,118.5 381.4,118.3 380.6,117.8 380.0,117.8 379.5,118.3 379.2,118.8 378.9,119.3 378.4,120.2 378.1,120.8 377.7,121.3 377.4,121.8 376.4,122.3 375.9,122.4Z M361.9,78.1 360.9,77.8 360.4,77.5 359.9,77.2 359.3,76.8 358.9,76.2 358.5,75.3 358.4,74.8 358.2,73.8 358.1,72.8 358.2,71.8 358.4,71.2 358.7,70.3 359.0,69.8 359.4,69.2 359.9,68.8 360.7,68.8 361.4,69.2 361.9,69.6 362.4,70.1 362.9,70.8 363.1,71.3 363.2,72.3 363.1,73.3 363.1,74.3 363.0,75.3 362.9,75.9 362.5,76.8 362.3,77.3 361.9,78.1Z M349.4,122.4 348.6,122.3 347.9,122.0 347.4,121.7 346.5,121.3 345.9,121.1 345.3,120.8 344.4,120.3 343.9,119.8 343.7,119.3 343.6,118.3 343.8,117.3 344.0,116.8 344.4,115.8 344.5,115.3 344.6,114.3 344.9,113.5 345.4,112.9 345.9,112.3 346.2,111.8 346.5,111.3 346.9,110.8 347.4,110.3 348.4,110.1 349.4,110.1 350.4,110.0 351.3,109.8 351.9,109.7 352.4,109.9 353.0,110.3 353.5,110.8 353.9,111.5 353.9,112.3 353.9,112.8 353.9,113.8 354.0,114.3 354.4,115.1 354.6,115.8 354.7,116.8 354.5,117.8 354.3,118.3 353.6,118.8 352.9,119.1 352.0,119.3 351.4,119.5 350.9,120.0 350.4,120.8 350.3,121.3 349.9,122.1 349.4,122.4Z M375.4,121.8 374.4,121.9 373.7,121.8 372.9,121.6 371.9,121.6 370.9,121.6 369.9,121.6 369.3,121.3 368.8,120.8 368.4,120.2 367.9,119.5 367.4,118.9 366.9,118.5 366.4,118.0 365.9,117.5 365.4,117.0 364.9,116.7 363.9,116.6 363.3,116.8 362.4,117.0 361.6,116.8 361.1,116.3 361.0,115.3 361.5,114.8 362.2,114.3 362.9,113.8 363.4,113.3 363.9,112.9 364.4,112.6 364.9,112.3 365.9,111.8 366.4,111.8 366.9,111.9 367.9,112.1 368.9,112.0 369.9,112.1 370.9,112.2 371.9,111.9 372.4,111.4 372.9,110.9 373.4,110.7 373.9,110.8 374.5,111.3 374.9,112.3 375.2,112.8 375.9,112.9 376.9,113.2 377.4,113.5 378.0,113.8 378.9,114.3 379.4,114.6 379.7,115.3 379.4,115.8 379.0,116.8 378.9,117.3 378.6,118.3 378.4,118.9 378.0,119.8 377.6,120.3 377.2,120.8 376.6,121.3 375.9,121.7 375.4,121.8Z M360.9,76.4 360.0,76.3 359.4,75.8 359.1,75.3 358.9,74.8 358.6,73.8 358.5,72.8 358.6,71.8 358.9,70.8 359.1,70.3 359.5,69.8 360.4,69.5 361.2,69.8 361.9,70.3 362.3,70.8 362.6,71.3 362.7,72.3 362.5,73.3 362.3,73.8 362.0,74.8 361.9,75.3 361.4,76.1 360.9,76.4Z M348.9,121.1 347.9,121.1 346.9,120.8 346.4,120.7 345.4,120.4 344.9,120.2 344.4,119.8 344.0,118.8 344.1,117.8 344.4,117.0 344.7,116.3 344.9,115.8 345.2,114.8 345.4,114.2 345.9,113.5 346.4,112.8 346.7,112.3 347.0,111.8 347.4,111.3 348.4,110.9 349.4,110.9 350.4,111.1 351.4,111.3 351.9,111.4 352.6,111.8 352.9,112.8 352.9,113.3 353.3,114.3 353.7,114.8 354.0,115.3 354.3,116.3 354.3,117.3 353.9,118.1 353.4,118.5 352.4,118.8 351.9,118.8 350.9,119.1 350.4,119.5 349.9,120.1 349.4,120.8 348.9,121.1Z M375.4,121.3 374.4,121.4 373.6,121.3 372.9,121.1 371.9,121.0 370.9,121.0 369.9,120.9 369.4,120.5 368.9,119.8 368.6,119.3 368.3,118.8 367.9,118.2 367.4,117.4 367.1,116.8 367.4,116.0 367.9,115.3 368.1,114.8 368.4,113.9 368.8,113.3 369.4,112.9 370.4,112.9 371.4,113.0 372.4,113.2 372.8,113.8 372.9,114.7 373.0,115.3 373.9,115.4 374.4,115.1 374.9,114.8 375.9,114.3 376.4,114.3 376.9,114.4 377.5,114.8 377.9,115.3 378.1,116.3 378.1,117.3 378.0,118.3 377.9,118.8 377.4,119.8 377.0,120.3 376.4,120.8 375.9,121.1 375.4,121.3Z M360.4,74.8 359.9,74.8 359.4,74.3 358.9,73.3 358.9,72.8 358.9,71.8 359.0,71.3 359.4,70.6 359.9,70.2 360.9,70.2 361.4,70.5 361.9,71.0 362.2,71.8 362.0,72.8 361.8,73.3 361.4,73.9 360.9,74.5 360.4,74.8Z M348.9,119.9 347.9,120.2 346.9,120.2 345.9,120.1 345.1,119.8 344.6,119.3 344.4,118.8 344.4,118.2 344.8,117.3 345.0,116.8 345.4,116.0 345.8,115.3 346.2,114.8 346.7,114.3 347.0,113.8 347.3,112.8 347.6,112.3 348.1,111.8 348.9,111.6 349.9,111.8 350.4,112.0 350.9,112.3 351.4,112.8 351.9,113.5 352.4,114.2 352.9,114.7 353.4,115.2 353.8,115.8 353.9,116.3 353.9,117.3 353.7,117.8 352.9,118.3 352.4,118.4 351.4,118.4 350.4,118.5 349.9,118.9 349.4,119.4 348.9,119.9Z M375.4,120.9 374.4,121.0 373.5,120.8 372.9,120.5 372.4,120.3 371.4,120.2 370.4,120.2 369.8,119.8 369.4,119.3 369.1,118.3 369.4,117.5 369.9,117.0 370.1,116.3 369.7,115.8 369.3,115.3 369.2,114.3 369.6,113.8 370.4,113.6 371.2,113.8 371.7,114.3 371.6,115.3 371.4,115.9 371.0,116.8 371.4,117.4 372.4,117.7 372.9,117.3 373.5,116.8 374.2,116.3 374.9,115.8 375.4,115.6 376.4,115.5 376.9,115.9 377.4,116.8 377.5,117.3 377.5,118.3 377.4,118.8 376.9,119.7 376.4,120.3 375.9,120.6 375.4,120.9Z" fill="none" stroke="#111" stroke-width="0.85" stroke-linejoin="round" clip-path="url(#cC2)" />
<rect x="338.6" y="125.5" width="18.399999999999977" height="3.0" fill="#222" stroke="none" stroke-width="0" />
<rect x="358" y="126" width="34" height="2.5" fill="#444" stroke="none" stroke-width="0" />
<text x="0.8" y="12.6" font-size="14.5" font-weight="bold" text-anchor="start" fill="#111" stroke="#111" stroke-width="0.35" font-family='"Liberation Sans", sans-serif' >A</text>
<text x="209" y="14" font-size="14.3" font-weight="bold" text-anchor="start" fill="#111" stroke="#111" stroke-width="0.35" font-family='"Liberation Sans", sans-serif' >C</text>
<text x="3" y="169" font-size="14.5" font-weight="bold" text-anchor="start" fill="#111" stroke="#111" stroke-width="0.35" font-family='"Liberation Sans", sans-serif' >B</text>
<text x="239.3" y="168.8" font-size="13.8" font-weight="bold" text-anchor="start" fill="#111" stroke="#111" stroke-width="0.35" font-family='"Liberation Sans", sans-serif' >D</text>
<text x="1.8" y="379.6" font-size="14.2" font-weight="bold" text-anchor="start" fill="#111" stroke="#111" stroke-width="0.35" font-family='"Liberation Sans", sans-serif' >E</text>
<text x="23.8" y="30" font-size="13.6" font-weight="bold" text-anchor="start" fill="#111" stroke="#111" stroke-width="0.35" font-family='"Liberation Sans", sans-serif' >WT</text>
<text x="106" y="30" font-size="13" font-weight="bold" text-anchor="start" fill="#111" stroke="#111" stroke-width="0.35" font-family='"Liberation Sans", sans-serif' >Hoxb4-YFP</text>
<rect x="21" y="34.5" width="75.4" height="73.5" fill="none" stroke="#999" stroke-width="1" />
<rect x="102" y="34.5" width="75.5" height="73.5" fill="none" stroke="#999" stroke-width="1" />
<text transform="translate(11,78.5) rotate(-90)" font-size="11" font-weight="bold" text-anchor="middle" fill="#111" stroke="#111" stroke-width="0.35" font-family='"Liberation Sans", sans-serif'>cKit (APC)</text>
<polygon points="2,41 6,34.5 10,41" fill="#111"/>
<line x1="4.2" y1="40.5" x2="2.8" y2="43.8" stroke="#222" stroke-width="1.4" />
<line x1="6.5" y1="114.2" x2="6.5" y2="121" stroke="#111" stroke-width="1.8" />
<line x1="21.3" y1="124.1" x2="54" y2="124.1" stroke="#111" stroke-width="1.8" />
<text x="74" y="128.8" font-size="13" font-weight="bold" text-anchor="start" fill="#111" stroke="#111" stroke-width="0.35" font-family='"Liberation Sans", sans-serif' >Sca1 (PE)</text>
<line x1="142.7" y1="124.4" x2="166.3" y2="124.4" stroke="#111" stroke-width="2.2" />
<polygon points="165.3,119.15 176.3,124.4 165.3,129.65" fill="#111"/>
<rect x="22.6" y="48.2" width="20.5" height="21.0" fill="none" stroke="#3a3a3a" stroke-width="0.9" />
<rect x="52.4" y="48.2" width="28.9" height="19.799999999999997" fill="none" stroke="#3a3a3a" stroke-width="0.9" />
<rect x="22.6" y="90.2" width="20.5" height="17.799999999999997" fill="none" stroke="#3a3a3a" stroke-width="0.9" />
<rect x="59" y="89.5" width="25.5" height="18.5" fill="none" stroke="#3a3a3a" stroke-width="0.9" />
<text x="25.8" y="44.6" font-size="11.4" font-weight="bold" text-anchor="start" fill="#111" stroke="#111" stroke-width="0.35" font-family='"Liberation Sans", sans-serif' >R1</text>
<text x="67.8" y="44.6" font-size="11.4" font-weight="bold" text-anchor="start" fill="#111" stroke="#111" stroke-width="0.35" font-family='"Liberation Sans", sans-serif' >R2</text>
<text x="60.6" y="60.6" font-size="11.2" font-weight="bold" text-anchor="start" fill="#111" stroke="#111" stroke-width="0.35" font-family='"Liberation Sans", sans-serif' >1.29</text>
<text x="26.8" y="105.4" font-size="11.4" font-weight="bold" text-anchor="start" fill="#111" stroke="#111" stroke-width="0.35" font-family='"Liberation Sans", sans-serif' >R3</text>
<text x="65.2" y="105.4" font-size="11.4" font-weight="bold" text-anchor="start" fill="#111" stroke="#111" stroke-width="0.35" font-family='"Liberation Sans", sans-serif' >R4</text>
<rect x="104" y="47" width="20.5" height="20.5" fill="none" stroke="#3a3a3a" stroke-width="0.9" />
<rect x="134.5" y="48" width="29.5" height="19.5" fill="none" stroke="#3a3a3a" stroke-width="0.9" />
<rect x="104" y="89" width="21" height="18.5" fill="none" stroke="#3a3a3a" stroke-width="0.9" />
<rect x="141" y="89" width="24.5" height="18.5" fill="none" stroke="#3a3a3a" stroke-width="0.9" />
<text x="118.8" y="44.4" font-size="11.2" font-weight="bold" text-anchor="start" fill="#111" stroke="#111" stroke-width="0.35" font-family='"Liberation Sans", sans-serif' >R1</text>
<text x="160.8" y="44.4" font-size="11.4" font-weight="bold" text-anchor="start" fill="#111" stroke="#111" stroke-width="0.35" font-family='"Liberation Sans", sans-serif' >R2</text>
<text x="141.6" y="58" font-size="11.2" font-weight="bold" text-anchor="start" fill="#111" stroke="#111" stroke-width="0.35" font-family='"Liberation Sans", sans-serif' >1.25</text>
<text x="119.2" y="104.5" font-size="11.6" font-weight="bold" text-anchor="start" fill="#111" stroke="#111" stroke-width="0.35" font-family='"Liberation Sans", sans-serif' >R3</text>
<text x="155.8" y="105.4" font-size="11.6" font-weight="bold" text-anchor="start" fill="#111" stroke="#111" stroke-width="0.35" font-family='"Liberation Sans", sans-serif' >R4</text>
<rect x="239" y="34.5" width="72" height="65.5" fill="none" stroke="#999" stroke-width="1" />
<text transform="translate(227.6,64.3) rotate(-90)" font-size="11.5" font-weight="bold" text-anchor="middle" fill="#111" stroke="#111" stroke-width="0.35" font-family='"Liberation Sans", sans-serif'>Lin+ 7AAD+</text>
<line x1="238.7" y1="113.8" x2="254.6" y2="113.8" stroke="#111" stroke-width="2.6" />
<text x="263.5" y="120" font-size="13.4" font-weight="bold" text-anchor="start" fill="#111" stroke="#111" stroke-width="0.35" font-family='"Liberation Sans", sans-serif' >FSC</text>
<line x1="297.8" y1="114.5" x2="304" y2="114.5" stroke="#111" stroke-width="2.6" />
<polygon points="303,109.0 314,114.5 303,120.0" fill="#111"/>
<line x1="244" y1="85.5" x2="311" y2="85.5" stroke="#666" stroke-width="1" />
<line x1="244" y1="85.5" x2="244" y2="100" stroke="#666" stroke-width="1" />
<text x="270.3" y="95.3" font-size="7.8" font-weight="normal" text-anchor="start" fill="#111"  font-family='"Liberation Serif", serif' >3.15</text>
<line x1="299.6" y1="92.8" x2="321.5" y2="92.8" stroke="#111" stroke-width="2.1" />
<polygon points="320.5,88.0 331,92.8 320.5,97.6" fill="#111"/>
<rect x="338.4" y="59.3" width="75.20000000000005" height="69.39999999999999" fill="none" stroke="#999" stroke-width="1" />
<rect x="346" y="59.3" width="67.60000000000002" height="37.900000000000006" fill="none" stroke="#666" stroke-width="1" />
<text x="400.7" y="65.6" font-size="6.8" font-weight="normal" text-anchor="start" fill="#333"  font-family='"Liberation Serif", serif' >22.7</text>
<text transform="translate(331,71.8) rotate(-90)" font-size="11" font-weight="bold" text-anchor="middle" fill="#111" stroke="#111" stroke-width="0.35" font-family='"Liberation Sans", sans-serif'>Sca1+</text>
<line x1="336.6" y1="145" x2="353" y2="145" stroke="#111" stroke-width="2.6" />
<text x="364" y="150" font-size="13.4" font-weight="bold" text-anchor="start" fill="#111" stroke="#111" stroke-width="0.35" font-family='"Liberation Sans", sans-serif' >FSC</text>
<line x1="399.5" y1="145.5" x2="404.3" y2="145.5" stroke="#111" stroke-width="2.6" />
<polygon points="403.3,140.5 412.8,145.5 403.3,150.5" fill="#111"/>
<line x1="394" y1="74.1" x2="415.5" y2="74.1" stroke="#111" stroke-width="2.2" />
<polygon points="414.5,68.85 425,74.1 414.5,79.35" fill="#111"/>
<rect x="438.5" y="33" width="73.89999999999998" height="68.6" fill="none" stroke="#999" stroke-width="1" />
<text transform="translate(433.3,48.3) rotate(-90)" font-size="11" font-weight="bold" text-anchor="middle" fill="#111" stroke="#111" stroke-width="0.35" font-family='"Liberation Sans", sans-serif'>% cells</text>
<line x1="432.8" y1="116.6" x2="445.4" y2="116.6" stroke="#111" stroke-width="2.6" />
<text x="454.4" y="122.7" font-size="13" font-weight="bold" text-anchor="start" fill="#111" stroke="#111" stroke-width="0.35" font-family='"Liberation Sans", sans-serif' >YFP</text>
<line x1="487.7" y1="117" x2="499" y2="117" stroke="#111" stroke-width="2.6" />
<polygon points="498,112.0 508,117 498,122.0" fill="#111"/>
<rect x="45.5" y="173.3" width="75.1" height="74.89999999999998" fill="none" stroke="#999" stroke-width="1" />
<rect x="125.1" y="173.2" width="75.30000000000001" height="75.60000000000002" fill="none" stroke="#999" stroke-width="1" />
<rect x="46" y="252.6" width="75" height="76.20000000000002" fill="none" stroke="#999" stroke-width="1" />
<rect x="125.5" y="252.5" width="74.19999999999999" height="75.80000000000001" fill="none" stroke="#999" stroke-width="1" />
<text x="101.4" y="186" font-size="12.5" font-weight="bold" text-anchor="start" fill="#111" stroke="#111" stroke-width="0.35" font-family='"Liberation Sans", sans-serif' >R1</text>
<text x="170.6" y="186" font-size="12.7" font-weight="bold" text-anchor="start" fill="#111" stroke="#111" stroke-width="0.35" font-family='"Liberation Sans", sans-serif' >R2</text>
<text x="170.6" y="201.5" font-size="13.1" font-weight="bold" text-anchor="start" fill="#111" stroke="#111" stroke-width="0.35" font-family='"Liberation Sans", sans-serif' >LSK</text>
<text x="102.5" y="265" font-size="12.6" font-weight="bold" text-anchor="start" fill="#111" stroke="#111" stroke-width="0.35" font-family='"Liberation Sans", sans-serif' >R3</text>
<text x="170.8" y="264.8" font-size="12.6" font-weight="bold" text-anchor="start" fill="#111" stroke="#111" stroke-width="0.35" font-family='"Liberation Sans", sans-serif' >R4</text>
<line x1="45.6" y1="345.3" x2="61" y2="345.3" stroke="#111" stroke-width="2.4" />
<text x="89.5" y="352.5" font-size="13.2" font-weight="bold" text-anchor="start" fill="#111" stroke="#111" stroke-width="0.35" font-family='"Liberation Sans", sans-serif' >Hoxb4-YFP</text>
<line x1="168.5" y1="345.6" x2="192" y2="345.6" stroke="#111" stroke-width="2.4" />
<polygon points="191,340.6 203,345.6 191,350.6" fill="#111"/>
<line x1="268.8" y1="178.8" x2="268.8" y2="299.3" stroke="#999" stroke-width="1" />
<line x1="268.8" y1="299.3" x2="427.7" y2="299.3" stroke="#999" stroke-width="1" />
<line x1="268.8" y1="178.8" x2="427.7" y2="178.8" stroke="#bbb" stroke-width="1" />
<line x1="427.7" y1="178.8" x2="427.7" y2="299.3" stroke="#bbb" stroke-width="1" />
<text transform="translate(251,236.6) rotate(-90)" font-size="13.6" font-weight="normal" text-anchor="middle" fill="#111"  font-family='"Liberation Sans", sans-serif'>% reconstitution</text>
<text x="338.8" y="328" font-size="15.8" font-weight="normal" text-anchor="start" fill="#111"  font-family='"Liberation Sans", sans-serif' >YFP</text>
<line x1="309.6" y1="311.8" x2="320" y2="311.8" stroke="#111" stroke-width="2.6" />
<line x1="314.8" y1="306.9" x2="314.8" y2="316.6" stroke="#111" stroke-width="2.6" />
<line x1="388.8" y1="314.2" x2="393.9" y2="314.2" stroke="#111" stroke-width="3" />
<rect x="35.3" y="387" width="79.2" height="80.5" fill="none" stroke="#888" stroke-width="1" />
<line x1="35.3" y1="387" x2="35.3" y2="467.5" stroke="#333" stroke-width="1.2" />
<line x1="35.3" y1="467.5" x2="114.5" y2="467.5" stroke="#333" stroke-width="1.1" />
<rect x="123.75" y="387" width="80.0" height="80" fill="none" stroke="#888" stroke-width="1" />
<line x1="123.75" y1="387" x2="123.75" y2="467" stroke="#333" stroke-width="1.2" />
<line x1="123.75" y1="467" x2="203.75" y2="467" stroke="#333" stroke-width="1.1" />
<rect x="214.5" y="387" width="79.75" height="79.5" fill="none" stroke="#888" stroke-width="1" />
<line x1="214.5" y1="387" x2="214.5" y2="466.5" stroke="#333" stroke-width="1.2" />
<line x1="214.5" y1="466.5" x2="294.25" y2="466.5" stroke="#333" stroke-width="1.1" />
<rect x="305" y="385" width="79.5" height="80" fill="none" stroke="#888" stroke-width="1" />
<line x1="305" y1="385" x2="305" y2="465" stroke="#333" stroke-width="1.2" />
<line x1="305" y1="465" x2="384.5" y2="465" stroke="#333" stroke-width="1.1" />
<text x="82.5" y="400" font-size="12.7" font-weight="bold" text-anchor="start" fill="#111" stroke="#111" stroke-width="0.35" font-family='"Liberation Sans", sans-serif' >1 wk</text>
<text x="172.5" y="399.5" font-size="13.2" font-weight="bold" text-anchor="start" fill="#111" stroke="#111" stroke-width="0.35" font-family='"Liberation Sans", sans-serif' >4 wk</text>
<text x="252.5" y="399.5" font-size="13.3" font-weight="bold" text-anchor="start" fill="#111" stroke="#111" stroke-width="0.35" font-family='"Liberation Sans", sans-serif' >8 mth</text>
<text x="340.5" y="399.5" font-size="13.6" font-weight="bold" text-anchor="start" fill="#111" stroke="#111" stroke-width="0.35" font-family='"Liberation Sans", sans-serif' >16 mth</text>
<text x="161.1" y="492.9" font-size="10" font-weight="bold" text-anchor="start" fill="#111" stroke="#111" stroke-width="0.35" font-family='"Liberation Sans", sans-serif' >Hoxb4-YFP in LSK fraction</text>
<line x1="33.5" y1="485.2" x2="135.8" y2="485.2" stroke="#111" stroke-width="1.8" />
<line x1="311.2" y1="483.75" x2="378.75" y2="483.75" stroke="#111" stroke-width="2.4" />
<polygon points="377.75,478.75 388.75,483.75 377.75,488.75" fill="#111"/>
<path d="M45.8,241.2 L48.7,230.2 L52.6,216.0 L55.8,200.3 L58.2,183.0 L59.7,179.9 L61.2,185.0 L62.9,203.4 L64.4,223.9 L65.7,241.2 L66.8,247.5" fill="none" stroke="#b4b4b4" stroke-width="1.3" stroke-linejoin="round" />
<path d="M125.6,217.6 L128.2,208.5 L130.0,197.7 L131.8,183.1 L133.6,176.8 L134.9,186.8 L136.3,201.3 L138.1,219.4 L140.0,234.0 L141.8,241.2 L143.6,244.8 L147.2,244.8 L149.9,245.7 L152.7,247.6 L156.0,248.5" fill="none" stroke="#b4b4b4" stroke-width="1.3" stroke-linejoin="round" />
<path d="M126.1,269.2 L127.7,259.1 L130.2,267.2 L133.2,279.3 L135.2,295.4 L137.2,309.5 L139.2,313.5 L141.3,314.6 L143.3,320.6 L145.3,324.6 L148.3,327.3 L155.0,328.0" fill="none" stroke="#b4b4b4" stroke-width="1.3" stroke-linejoin="round" />
<path d="M45.3,245.9 L46.4,242.0 L47.9,241.2 L49.5,239.6 L51.1,230.2 L53.4,219.2 L55.8,208.2 L56.9,200.3 L57.8,187.7 L58.9,183.0 L60.2,178.3 L61.3,183.0 L62.6,190.9 L63.7,200.3 L64.9,211.3 L66.3,225.5 L67.9,238.0 L69.5,242.8 L71.5,245.9 L74.7,247.8 L78.0,248.2" fill="none" stroke="#1a1a1a" stroke-width="1.3" stroke-linejoin="round" />
<path d="M125.6,244.8 L128.2,243.0 L130.9,241.2 L133.6,242.1 L136.3,234.0 L138.1,226.7 L139.6,223.1 L140.9,210.4 L141.8,192.2 L143.2,179.5 L144.1,177.7 L145.0,183.1 L145.9,201.3 L147.2,228.5 L148.7,234.0 L149.9,239.4 L151.8,244.8 L154.5,247.6 L158.1,248.5" fill="none" stroke="#1a1a1a" stroke-width="1.3" stroke-linejoin="round" />
<path d="M46.3,275.8 L47.2,263.1 L49.1,258.6 L50.3,256.8 L51.4,261.3 L52.7,266.8 L55.4,281.3 L58.1,292.2 L59.9,303.1 L61.8,314.0 L63.6,323.0 L65.4,326.7 L69.9,328.1 L74.0,328.6" fill="none" stroke="#1a1a1a" stroke-width="1.3" stroke-linejoin="round" />
<path d="M126.1,276.3 L127.1,257.1 L128.5,265.2 L129.8,263.1 L130.8,271.2 L132.2,275.2 L134.2,285.3 L135.8,295.4 L136.8,311.5 L138.2,321.6 L140.2,323.6 L142.3,324.6 L144.3,326.7 L148.3,327.7 L152.0,328.1" fill="none" stroke="#1a1a1a" stroke-width="1.3" stroke-linejoin="round" />
<path d="M36.4,467.0 L36.4,465.5 L41.6,460.4 L45.0,455.3 L47.6,448.4 L49.3,440.0 L51.0,428.0 L52.7,420.0 L54.4,418.0 L55.6,422.0 L56.6,432.0 L57.8,447.0 L60.4,458.7 L63.8,463.8 L69.0,465.5 L69.0,467.0" fill="#8a8a8a" stroke="none" stroke-width="0" stroke-linejoin="round" />
<path d="M124.6,466.5 L124.6,464.6 L128.8,462.1 L132.3,458.6 L134.8,453.5 L137.1,448.4 L138.8,438.1 L140.0,427.8 L141.2,412.4 L142.2,402.1 L143.2,398.7 L144.3,402.1 L145.3,415.8 L146.3,433.0 L147.7,450.1 L149.7,458.6 L152.8,463.8 L158.0,465.5 L158.0,466.5" fill="#8a8a8a" stroke="none" stroke-width="0" stroke-linejoin="round" />
<path d="M220.0,466.0 L220.0,465.0 L224.0,460.0 L226.5,452.0 L228.2,443.6 L229.9,426.8 L231.6,410.0 L233.2,418.5 L234.9,435.2 L237.4,452.0 L240.8,460.0 L245.0,465.0 L245.0,466.0" fill="#8a8a8a" stroke="none" stroke-width="0" stroke-linejoin="round" />
<path d="M310.0,464.5 L310.0,463.0 L313.9,458.4 L317.2,450.1 L318.9,438.5 L320.5,417.0 L321.7,407.1 L322.7,412.1 L323.8,427.0 L325.5,441.9 L327.1,450.1 L329.6,456.7 L332.9,460.0 L336.0,463.0 L336.0,464.5" fill="#8a8a8a" stroke="none" stroke-width="0" stroke-linejoin="round" />
<path d="M35.8,463.8 L38.1,455.3 L40.7,455.3 L43.3,453.6 L45.0,448.4 L46.7,441.6 L48.0,431.3 L50.1,427.8 L51.9,424.4 L53.2,410.7 L54.3,395.3 L55.0,392.7 L56.0,405.6 L57.0,427.8 L58.4,445.0 L60.4,457.0 L63.8,462.1 L69.0,465.5" fill="none" stroke="#4040c8" stroke-width="1.25" stroke-linejoin="round" opacity="0.85"/>
<path d="M35.8,460.4 L38.1,451.8 L40.7,448.4 L43.3,443.3 L45.0,446.7 L47.0,441.6 L48.8,427.8 L50.1,424.4 L51.9,410.7 L53.2,409.0 L54.4,402.1 L55.6,410.7 L57.0,427.8 L58.7,446.7 L61.3,458.7 L65.6,463.8" fill="none" stroke="#cc4455" stroke-width="1.25" stroke-linejoin="round" opacity="0.85"/>
<path d="M36.1,431.3 L37.3,426.1 L39.0,419.3 L40.7,409.0 L42.4,405.6 L43.6,397.0 L44.5,392.7 L45.3,398.7 L46.4,407.3 L47.6,410.7 L48.8,422.7 L50.1,436.4 L51.9,446.7 L53.6,453.6 L56.1,457.0 L59.6,460.4 L63.8,463.8 L69.0,465.5 L77.6,466.6" fill="none" stroke="#111" stroke-width="1.15" stroke-linejoin="round" />
<path d="M124.3,462.1 L127.1,458.6 L129.7,456.9 L132.3,453.5 L134.8,450.1 L136.6,443.2 L138.4,436.0 L139.6,425.0 L140.9,408.0 L142.0,396.0 L142.8,393.0 L144.0,398.0 L145.3,410.0 L146.5,425.0 L147.8,440.0 L149.5,447.0 L151.0,455.0 L153.0,462.0 L158.0,465.5" fill="none" stroke="#4040c8" stroke-width="1.25" stroke-linejoin="round" opacity="0.85"/>
<path d="M124.3,463.8 L127.1,460.3 L130.6,456.9 L133.1,450.1 L135.4,441.5 L137.4,438.1 L139.1,427.8 L140.5,410.7 L141.7,397.0 L142.5,392.2 L143.9,395.3 L145.1,405.5 L146.3,419.2 L147.3,436.4 L148.5,446.6 L149.7,450.1 L150.8,458.6 L152.8,462.9 L158.0,465.5" fill="none" stroke="#cc4455" stroke-width="1.25" stroke-linejoin="round" opacity="0.85"/>
<path d="M124.6,429.5 L126.3,426.1 L128.0,419.2 L129.7,409.0 L131.4,403.8 L132.6,397.0 L134.0,392.2 L135.0,400.4 L136.0,407.3 L137.4,419.2 L139.1,434.7 L140.8,446.6 L142.5,453.5 L145.1,457.8 L148.5,461.2 L152.8,464.1 L158.0,465.5 L166.0,466.5" fill="none" stroke="#111" stroke-width="1.15" stroke-linejoin="round" />
<path d="M215.0,463.2 L225.0,457.0 L228.5,447.0 L230.5,434.5 L232.5,415.0 L233.8,400.0 L234.5,392.5 L236.0,400.0 L237.5,415.0 L239.0,426.8 L242.4,440.2 L245.0,452.0 L247.5,461.0 L249.0,465.0" fill="none" stroke="#4040c8" stroke-width="1.25" stroke-linejoin="round" opacity="0.85"/>
<path d="M215.0,462.0 L220.0,460.0 L224.0,458.6 L228.2,448.6 L230.7,435.2 L232.7,405.0 L233.7,392.5 L235.3,406.0 L236.5,400.0 L238.3,391.7 L239.4,418.5 L241.6,435.2 L244.1,443.6 L245.8,448.6 L247.5,452.0 L249.1,462.0 L250.0,466.0" fill="none" stroke="#cc4455" stroke-width="1.25" stroke-linejoin="round" opacity="0.85"/>
<path d="M215.0,430.0 L216.5,425.0 L218.5,415.0 L220.7,406.8 L222.5,398.0 L224.4,391.7 L225.5,397.0 L226.5,406.0 L227.3,418.0 L228.2,435.2 L230.0,444.0 L232.4,452.0 L235.8,458.6 L240.8,462.0 L247.5,465.5 L252.0,466.3" fill="none" stroke="#111" stroke-width="1.15" stroke-linejoin="round" />
<path d="M305.5,462.0 L315.0,458.0 L320.5,456.0 L323.0,443.5 L324.7,427.0 L326.3,413.8 L328.0,417.0 L329.6,422.0 L331.3,417.0 L332.9,403.8 L334.6,390.6 L335.7,403.8 L337.1,425.3 L338.4,441.9 L339.5,456.7 L340.4,462.0" fill="none" stroke="#4040c8" stroke-width="1.25" stroke-linejoin="round" opacity="0.85"/>
<path d="M305.5,460.9 L310.0,459.0 L315.6,456.7 L319.5,453.0 L321.4,441.9 L323.0,417.0 L324.2,400.5 L325.2,391.4 L326.3,400.5 L328.0,417.0 L329.6,427.0 L331.3,433.6 L332.4,440.2 L333.4,438.5 L334.6,441.9 L336.2,450.1 L337.9,456.7 L339.0,460.9 L340.0,464.0" fill="none" stroke="#cc4455" stroke-width="1.25" stroke-linejoin="round" opacity="0.85"/>
<path d="M305.5,430.0 L306.5,428.6 L308.1,417.0 L309.8,407.0 L311.4,400.5 L313.1,393.9 L314.4,390.3 L315.6,395.6 L316.4,405.5 L318.0,417.0 L319.2,427.0 L320.2,433.6 L321.5,442.0 L323.0,450.0 L324.7,453.4 L327.1,456.7 L330.4,459.2 L335.4,461.7 L342.0,463.5" fill="none" stroke="#111" stroke-width="1.15" stroke-linejoin="round" />
<path d="M321.5,440.0 L323.8,433.6 L325.5,420.4 L327.1,408.8 L328.5,415.4 L329.6,425.3 L331.3,432.0 L332.9,438.5" fill="none" stroke="#7a2a8a" stroke-width="1.2" stroke-linejoin="round" />
<line x1="351.25" y1="413.25" x2="337.5" y2="432.5" stroke="#111" stroke-width="1" />
<polygon points="333.5,438 335.5,429 341,433.5" fill="#111"/>
<path d="M138.5,436.0 L140.0,425.0 L141.2,405.0 L142.3,394.0 L143.5,398.0 L144.8,410.0 L146.0,428.0 L147.5,445.0" fill="none" stroke="#7a2a8a" stroke-width="1.1" stroke-linejoin="round" opacity="0.8"/>
<path d="M231.0,432.0 L232.5,412.0 L233.7,395.0 L235.0,393.0 L236.5,404.0 L238.0,420.0 L240.0,434.0" fill="none" stroke="#7a2a8a" stroke-width="1.1" stroke-linejoin="round" opacity="0.8"/>
<path d="M49.0,428.0 L51.0,424.0 L52.5,412.0 L53.8,398.0 L55.0,393.0 L56.0,404.0 L57.0,425.0" fill="none" stroke="#3030a0" stroke-width="1.1" stroke-linejoin="round" opacity="0.7"/>
<path d="M438.8,53.3 L439.9,42.2 L441.0,48.8 L443.3,35.1 L445.0,42.2 L446.1,38.9 L447.7,51.0 L449.9,71.0 L451.7,69.9 L453.2,64.4 L454.4,71.0 L455.5,63.2 L456.6,67.7 L457.7,91.0 L459.9,95.4 L463.2,98.7 L467.7,101.0 L513.0,101.6" fill="none" stroke="#888" stroke-width="1.1" stroke-linejoin="round" />
<line x1="438.8" y1="80" x2="451.7" y2="80" stroke="#555" stroke-width="1" />
<line x1="451.7" y1="78" x2="451.7" y2="82" stroke="#888" stroke-width="0.8" />
<line x1="453" y1="72.6" x2="486.5" y2="72.6" stroke="#555" stroke-width="1" />
<line x1="453" y1="70.5" x2="453" y2="74.5" stroke="#888" stroke-width="0.8" />
<line x1="486.5" y1="70.5" x2="486.5" y2="74.5" stroke="#888" stroke-width="0.8" />
<text x="439.2" y="79" font-size="7.4" font-weight="normal" text-anchor="start" fill="#111"  font-family='"Liberation Serif", serif' >74.3</text>
<text x="463.8" y="71.3" font-size="7.4" font-weight="normal" text-anchor="start" fill="#111"  font-family='"Liberation Serif", serif' >19.4</text>
<polygon points="304.8,191.5 306.40000000000003,193.7 304.8,195.89999999999998 303.2,193.7" fill="#1d1d6b"/>
<polygon points="304.8,206.0 306.40000000000003,208.2 304.8,210.39999999999998 303.2,208.2" fill="#1d1d6b"/>
<polygon points="304.8,211.4 306.40000000000003,213.6 304.8,215.79999999999998 303.2,213.6" fill="#1d1d6b"/>
<polygon points="304.8,216.70000000000002 306.40000000000003,218.9 304.8,221.1 303.2,218.9" fill="#1d1d6b"/>
<polygon points="304.8,251.8 306.40000000000003,254 304.8,256.2 303.2,254" fill="#1d1d6b"/>
<polygon points="304.8,254.0 306.40000000000003,256.2 304.8,258.4 303.2,256.2" fill="#1d1d6b"/>
<polygon points="304.8,257.3 306.40000000000003,259.5 304.8,261.7 303.2,259.5" fill="#1d1d6b"/>
<polygon points="304.8,271.8 306.40000000000003,274 304.8,276.2 303.2,274" fill="#1d1d6b"/>
<polygon points="304.8,274.8 306.40000000000003,277 304.8,279.2 303.2,277" fill="#1d1d6b"/>
<polygon points="304.8,291.3 306.40000000000003,293.5 304.8,295.7 303.2,293.5" fill="#1d1d6b"/>
<polygon points="304.8,293.8 306.40000000000003,296 304.8,298.2 303.2,296" fill="#1d1d6b"/>
<polygon points="304.8,295.8 306.40000000000003,298 304.8,300.2 303.2,298" fill="#1d1d6b"/>
<polygon points="374.9,297.0 376.5,299.2 374.9,301.4 373.29999999999995,299.2" fill="#1d1d6b"/>
<polygon points="376.8,297.0 378.40000000000003,299.2 376.8,301.4 375.2,299.2" fill="#1d1d6b"/>
<polygon points="378.6,297.0 380.20000000000005,299.2 378.6,301.4 377.0,299.2" fill="#1d1d6b"/>
<polygon points="382,297.0 383.6,299.2 382,301.4 380.4,299.2" fill="#1d1d6b"/>
<polygon points="385.5,297.0 387.1,299.2 385.5,301.4 383.9,299.2" fill="#1d1d6b"/>
<polygon points="387.7,297.0 389.3,299.2 387.7,301.4 386.09999999999997,299.2" fill="#1d1d6b"/>
<polygon points="389.7,297.0 391.3,299.2 389.7,301.4 388.09999999999997,299.2" fill="#1d1d6b"/>
<polygon points="392.7,297.0 394.3,299.2 392.7,301.4 391.09999999999997,299.2" fill="#1d1d6b"/>
<polygon points="399.9,297.0 401.5,299.2 399.9,301.4 398.29999999999995,299.2" fill="#1d1d6b"/>
<polygon points="403.1,297.0 404.70000000000005,299.2 403.1,301.4 401.5,299.2" fill="#1d1d6b"/>
<polygon points="406.8,297.0 408.40000000000003,299.2 406.8,301.4 405.2,299.2" fill="#1d1d6b"/>
<polygon points="410.5,297.0 412.1,299.2 410.5,301.4 408.9,299.2" fill="#1d1d6b"/>
<polygon points="396.6,292.40000000000003 398.20000000000005,294.6 396.6,296.8 395.0,294.6" fill="#1d1d6b"/>
<text transform="translate(265.3,302.6) scale(0.64,1)" font-size="9.3" text-anchor="end" fill="#333" font-family='"Liberation Sans", sans-serif'>0</text>
<line x1="266" y1="299.3" x2="268.8" y2="299.3" stroke="#999" stroke-width="0.8" />
<text transform="translate(265.3,282.6) scale(0.64,1)" font-size="9.3" text-anchor="end" fill="#333" font-family='"Liberation Sans", sans-serif'>10</text>
<line x1="266" y1="279.3" x2="268.8" y2="279.3" stroke="#999" stroke-width="0.8" />
<text transform="translate(265.3,262.6) scale(0.64,1)" font-size="9.3" text-anchor="end" fill="#333" font-family='"Liberation Sans", sans-serif'>20</text>
<line x1="266" y1="259.3" x2="268.8" y2="259.3" stroke="#999" stroke-width="0.8" />
<text transform="translate(265.3,242.60000000000002) scale(0.64,1)" font-size="9.3" text-anchor="end" fill="#333" font-family='"Liberation Sans", sans-serif'>30</text>
<line x1="266" y1="239.3" x2="268.8" y2="239.3" stroke="#999" stroke-width="0.8" />
<text transform="translate(265.3,222.60000000000002) scale(0.64,1)" font-size="9.3" text-anchor="end" fill="#333" font-family='"Liberation Sans", sans-serif'>40</text>
<line x1="266" y1="219.3" x2="268.8" y2="219.3" stroke="#999" stroke-width="0.8" />
<text transform="translate(265.3,202.60000000000002) scale(0.64,1)" font-size="9.3" text-anchor="end" fill="#333" font-family='"Liberation Sans", sans-serif'>50</text>
<line x1="266" y1="199.3" x2="268.8" y2="199.3" stroke="#999" stroke-width="0.8" />
<text transform="translate(265.3,182.60000000000002) scale(0.64,1)" font-size="9.3" text-anchor="end" fill="#333" font-family='"Liberation Sans", sans-serif'>60</text>
<line x1="266" y1="179.3" x2="268.8" y2="179.3" stroke="#999" stroke-width="0.8" />
<line x1="338.6" y1="479.2" x2="349" y2="479.2" stroke="#bbb" stroke-width="0.9" stroke-dasharray="1,0.8"/>
<text x="13.5" y="37.5" font-size="3.6" font-weight="normal" text-anchor="start" fill="#999" font-family='"Liberation Sans", sans-serif'>10<tspan font-size="2.52" dy="-1.44">4</tspan></text>
<text x="17.7" y="52.400000000000006" font-size="3.8" font-weight="normal" text-anchor="start" fill="#999"  font-family='"Liberation Sans", sans-serif' >3</text>
<line x1="19.5" y1="51.2" x2="21" y2="51.2" stroke="#999" stroke-width="0.6" />
<text x="17.7" y="71.5" font-size="3.8" font-weight="normal" text-anchor="start" fill="#999"  font-family='"Liberation Sans", sans-serif' >2</text>
<line x1="19.5" y1="70.3" x2="21" y2="70.3" stroke="#999" stroke-width="0.6" />
<text x="17.7" y="90.5" font-size="3.8" font-weight="normal" text-anchor="start" fill="#999"  font-family='"Liberation Sans", sans-serif' >1</text>
<line x1="19.5" y1="89.3" x2="21" y2="89.3" stroke="#999" stroke-width="0.6" />
<text x="17.7" y="108.7" font-size="3.8" font-weight="normal" text-anchor="start" fill="#999"  font-family='"Liberation Sans", sans-serif' >0</text>
<line x1="19.5" y1="107.5" x2="21" y2="107.5" stroke="#999" stroke-width="0.6" />
<text x="19" y="116" font-size="4" font-weight="normal" text-anchor="start" fill="#999" font-family='"Liberation Sans", sans-serif'>10<tspan font-size="2.80" dy="-1.60">0</tspan></text>
<text x="36" y="116" font-size="4" font-weight="normal" text-anchor="start" fill="#999" font-family='"Liberation Sans", sans-serif'>10<tspan font-size="2.80" dy="-1.60">1</tspan></text>
<text x="94.5" y="37.5" font-size="3.6" font-weight="normal" text-anchor="start" fill="#999" font-family='"Liberation Sans", sans-serif'>10<tspan font-size="2.52" dy="-1.44">4</tspan></text>
<text x="98.7" y="52.400000000000006" font-size="3.8" font-weight="normal" text-anchor="start" fill="#999"  font-family='"Liberation Sans", sans-serif' >3</text>
<line x1="100.5" y1="51.2" x2="102" y2="51.2" stroke="#999" stroke-width="0.6" />
<text x="98.7" y="71.5" font-size="3.8" font-weight="normal" text-anchor="start" fill="#999"  font-family='"Liberation Sans", sans-serif' >2</text>
<line x1="100.5" y1="70.3" x2="102" y2="70.3" stroke="#999" stroke-width="0.6" />
<text x="98.7" y="90.5" font-size="3.8" font-weight="normal" text-anchor="start" fill="#999"  font-family='"Liberation Sans", sans-serif' >1</text>
<line x1="100.5" y1="89.3" x2="102" y2="89.3" stroke="#999" stroke-width="0.6" />
<text x="98.7" y="108.7" font-size="3.8" font-weight="normal" text-anchor="start" fill="#999"  font-family='"Liberation Sans", sans-serif' >0</text>
<line x1="100.5" y1="107.5" x2="102" y2="107.5" stroke="#999" stroke-width="0.6" />
<text x="100" y="116" font-size="4" font-weight="normal" text-anchor="start" fill="#999" font-family='"Liberation Sans", sans-serif'>10<tspan font-size="2.80" dy="-1.60">0</tspan></text>
<text x="117" y="116" font-size="4" font-weight="normal" text-anchor="start" fill="#999" font-family='"Liberation Sans", sans-serif'>10<tspan font-size="2.80" dy="-1.60">1</tspan></text>
<text x="140" y="116" font-size="4" font-weight="normal" text-anchor="start" fill="#bbb" font-family='"Liberation Sans", sans-serif'>10<tspan font-size="2.80" dy="-1.60"></tspan></text>
<text x="160" y="116" font-size="4" font-weight="normal" text-anchor="start" fill="#999" font-family='"Liberation Sans", sans-serif'>10<tspan font-size="2.80" dy="-1.60">3</tspan></text>
<text x="175" y="116" font-size="4" font-weight="normal" text-anchor="start" fill="#999" font-family='"Liberation Sans", sans-serif'>10<tspan font-size="2.80" dy="-1.60">4</tspan></text>
<text x="93" y="33.5" font-size="3.6" font-weight="normal" text-anchor="start" fill="#aaa" font-family='"Liberation Sans", sans-serif'>10<tspan font-size="2.52" dy="-1.44">4</tspan></text>
<text x="174" y="33.5" font-size="3.6" font-weight="normal" text-anchor="start" fill="#aaa" font-family='"Liberation Sans", sans-serif'>10<tspan font-size="2.52" dy="-1.44">4</tspan></text>
<text x="233.5" y="37.2" font-size="3.6" font-weight="normal" text-anchor="start" fill="#999" font-family='"Liberation Sans", sans-serif'>10<tspan font-size="2.52" dy="-1.44">4</tspan></text>
<line x1="237.5" y1="36" x2="239" y2="36" stroke="#999" stroke-width="0.6" />
<text x="233.5" y="53.2" font-size="3.6" font-weight="normal" text-anchor="start" fill="#999" font-family='"Liberation Sans", sans-serif'>10<tspan font-size="2.52" dy="-1.44">3</tspan></text>
<line x1="237.5" y1="52" x2="239" y2="52" stroke="#999" stroke-width="0.6" />
<text x="233.5" y="69.7" font-size="3.6" font-weight="normal" text-anchor="start" fill="#999" font-family='"Liberation Sans", sans-serif'>10<tspan font-size="2.52" dy="-1.44">2</tspan></text>
<line x1="237.5" y1="68.5" x2="239" y2="68.5" stroke="#999" stroke-width="0.6" />
<text x="233.5" y="85.7" font-size="3.6" font-weight="normal" text-anchor="start" fill="#999" font-family='"Liberation Sans", sans-serif'>10<tspan font-size="2.52" dy="-1.44">1</tspan></text>
<line x1="237.5" y1="84.5" x2="239" y2="84.5" stroke="#999" stroke-width="0.6" />
<text x="233.5" y="101.0" font-size="3.6" font-weight="normal" text-anchor="start" fill="#999" font-family='"Liberation Sans", sans-serif'>10<tspan font-size="2.52" dy="-1.44">0</tspan></text>
<line x1="237.5" y1="99.8" x2="239" y2="99.8" stroke="#999" stroke-width="0.6" />
<text x="239.6" y="107.5" font-size="4.2" font-weight="normal" text-anchor="middle" fill="#999"  font-family='"Liberation Sans", sans-serif' >0</text>
<line x1="239.6" y1="100" x2="239.6" y2="101.5" stroke="#999" stroke-width="0.6" />
<text x="253.5" y="107.5" font-size="4.2" font-weight="normal" text-anchor="middle" fill="#999"  font-family='"Liberation Sans", sans-serif' >200</text>
<line x1="253.5" y1="100" x2="253.5" y2="101.5" stroke="#999" stroke-width="0.6" />
<text x="267.5" y="107.5" font-size="4.2" font-weight="normal" text-anchor="middle" fill="#999"  font-family='"Liberation Sans", sans-serif' >400</text>
<line x1="267.5" y1="100" x2="267.5" y2="101.5" stroke="#999" stroke-width="0.6" />
<text x="281.5" y="107.5" font-size="4.2" font-weight="normal" text-anchor="middle" fill="#999"  font-family='"Liberation Sans", sans-serif' >600</text>
<line x1="281.5" y1="100" x2="281.5" y2="101.5" stroke="#999" stroke-width="0.6" />
<text x="295.4" y="107.5" font-size="4.2" font-weight="normal" text-anchor="middle" fill="#999"  font-family='"Liberation Sans", sans-serif' >800</text>
<line x1="295.4" y1="100" x2="295.4" y2="101.5" stroke="#999" stroke-width="0.6" />
<text x="308.8" y="107.5" font-size="4.2" font-weight="normal" text-anchor="middle" fill="#999"  font-family='"Liberation Sans", sans-serif' >1000</text>
<line x1="308.8" y1="100" x2="308.8" y2="101.5" stroke="#999" stroke-width="0.6" />
<text x="329.5" y="111.4" font-size="4.6" font-weight="normal" text-anchor="start" fill="#999" font-family='"Liberation Sans", sans-serif'>10<tspan font-size="3.22" dy="-1.84">1</tspan></text>
<text x="329.5" y="128.9" font-size="4.6" font-weight="normal" text-anchor="start" fill="#999" font-family='"Liberation Sans", sans-serif'>10<tspan font-size="3.22" dy="-1.84">0</tspan></text>
<text x="338.8" y="135" font-size="3.9" font-weight="normal" text-anchor="middle" fill="#aaa"  font-family='"Liberation Sans", sans-serif' >0</text>
<text x="353.5" y="135" font-size="3.9" font-weight="normal" text-anchor="middle" fill="#aaa"  font-family='"Liberation Sans", sans-serif' >200</text>
<text x="368.2" y="135" font-size="3.9" font-weight="normal" text-anchor="middle" fill="#aaa"  font-family='"Liberation Sans", sans-serif' >400</text>
<text x="383" y="135" font-size="3.9" font-weight="normal" text-anchor="middle" fill="#aaa"  font-family='"Liberation Sans", sans-serif' >600</text>
<text x="397.7" y="135" font-size="3.9" font-weight="normal" text-anchor="middle" fill="#aaa"  font-family='"Liberation Sans", sans-serif' >800</text>
<text x="412.4" y="135" font-size="3.9" font-weight="normal" text-anchor="middle" fill="#aaa"  font-family='"Liberation Sans", sans-serif' >1000</text>
<text x="435.5" y="108.5" font-size="4.2" font-weight="normal" text-anchor="start" fill="#999" font-family='"Liberation Sans", sans-serif'>10<tspan font-size="2.94" dy="-1.68">0</tspan></text>
<text x="454" y="108.5" font-size="4.2" font-weight="normal" text-anchor="start" fill="#999" font-family='"Liberation Sans", sans-serif'>10<tspan font-size="2.94" dy="-1.68">1</tspan></text>
<text x="472.2" y="108.5" font-size="4.2" font-weight="normal" text-anchor="start" fill="#999" font-family='"Liberation Sans", sans-serif'>10<tspan font-size="2.94" dy="-1.68">2</tspan></text>
<text x="491.2" y="108.5" font-size="4.2" font-weight="normal" text-anchor="start" fill="#999" font-family='"Liberation Sans", sans-serif'>10<tspan font-size="2.94" dy="-1.68">3</tspan></text>
<text x="509.4" y="108.5" font-size="4.2" font-weight="normal" text-anchor="start" fill="#999" font-family='"Liberation Sans", sans-serif'>10<tspan font-size="2.94" dy="-1.68">4</tspan></text>
<text x="436.5" y="85.8" font-size="3.6" font-weight="normal" text-anchor="end" fill="#999"  font-family='"Liberation Sans", sans-serif' >10</text>
<text x="436.5" y="102.5" font-size="3.6" font-weight="normal" text-anchor="end" fill="#999"  font-family='"Liberation Sans", sans-serif' >0</text>
<line x1="436.5" y1="84.3" x2="438.5" y2="84.3" stroke="#999" stroke-width="0.6" />
<text x="42.5" y="178.60000000000002" font-size="5.2" font-weight="normal" text-anchor="end" fill="#999"  font-family='"Liberation Sans", sans-serif' >100</text>
<line x1="43.0" y1="176.8" x2="45.5" y2="176.8" stroke="#888" stroke-width="0.7" />
<text x="42.5" y="192.84000000000003" font-size="5.2" font-weight="normal" text-anchor="end" fill="#999"  font-family='"Liberation Sans", sans-serif' >80</text>
<line x1="43.0" y1="191.04000000000002" x2="45.5" y2="191.04000000000002" stroke="#888" stroke-width="0.7" />
<text x="42.5" y="207.08" font-size="5.2" font-weight="normal" text-anchor="end" fill="#999"  font-family='"Liberation Sans", sans-serif' >60</text>
<line x1="43.0" y1="205.28" x2="45.5" y2="205.28" stroke="#888" stroke-width="0.7" />
<text x="42.5" y="221.32000000000002" font-size="5.2" font-weight="normal" text-anchor="end" fill="#999"  font-family='"Liberation Sans", sans-serif' >40</text>
<line x1="43.0" y1="219.52" x2="45.5" y2="219.52" stroke="#888" stroke-width="0.7" />
<text x="42.5" y="235.56" font-size="5.2" font-weight="normal" text-anchor="end" fill="#999"  font-family='"Liberation Sans", sans-serif' >20</text>
<line x1="43.0" y1="233.76" x2="45.5" y2="233.76" stroke="#888" stroke-width="0.7" />
<text x="42.5" y="249.8" font-size="5.2" font-weight="normal" text-anchor="end" fill="#999"  font-family='"Liberation Sans", sans-serif' >0</text>
<line x1="43.0" y1="248.0" x2="45.5" y2="248.0" stroke="#888" stroke-width="0.7" />
<line x1="44.3" y1="176.8" x2="45.5" y2="176.8" stroke="#aaa" stroke-width="0.5" />
<line x1="44.3" y1="179.64800000000002" x2="45.5" y2="179.64800000000002" stroke="#aaa" stroke-width="0.5" />
<line x1="44.3" y1="182.496" x2="45.5" y2="182.496" stroke="#aaa" stroke-width="0.5" />
<line x1="44.3" y1="185.34400000000002" x2="45.5" y2="185.34400000000002" stroke="#aaa" stroke-width="0.5" />
<line x1="44.3" y1="188.192" x2="45.5" y2="188.192" stroke="#aaa" stroke-width="0.5" />
<line x1="44.3" y1="191.04000000000002" x2="45.5" y2="191.04000000000002" stroke="#aaa" stroke-width="0.5" />
<line x1="44.3" y1="193.888" x2="45.5" y2="193.888" stroke="#aaa" stroke-width="0.5" />
<line x1="44.3" y1="196.73600000000002" x2="45.5" y2="196.73600000000002" stroke="#aaa" stroke-width="0.5" />
<line x1="44.3" y1="199.584" x2="45.5" y2="199.584" stroke="#aaa" stroke-width="0.5" />
<line x1="44.3" y1="202.43200000000002" x2="45.5" y2="202.43200000000002" stroke="#aaa" stroke-width="0.5" />
<line x1="44.3" y1="205.28" x2="45.5" y2="205.28" stroke="#aaa" stroke-width="0.5" />
<line x1="44.3" y1="208.12800000000001" x2="45.5" y2="208.12800000000001" stroke="#aaa" stroke-width="0.5" />
<line x1="44.3" y1="210.976" x2="45.5" y2="210.976" stroke="#aaa" stroke-width="0.5" />
<line x1="44.3" y1="213.824" x2="45.5" y2="213.824" stroke="#aaa" stroke-width="0.5" />
<line x1="44.3" y1="216.672" x2="45.5" y2="216.672" stroke="#aaa" stroke-width="0.5" />
<line x1="44.3" y1="219.52" x2="45.5" y2="219.52" stroke="#aaa" stroke-width="0.5" />
<line x1="44.3" y1="222.368" x2="45.5" y2="222.368" stroke="#aaa" stroke-width="0.5" />
<line x1="44.3" y1="225.216" x2="45.5" y2="225.216" stroke="#aaa" stroke-width="0.5" />
<line x1="44.3" y1="228.06400000000002" x2="45.5" y2="228.06400000000002" stroke="#aaa" stroke-width="0.5" />
<line x1="44.3" y1="230.912" x2="45.5" y2="230.912" stroke="#aaa" stroke-width="0.5" />
<line x1="44.3" y1="233.76" x2="45.5" y2="233.76" stroke="#aaa" stroke-width="0.5" />
<line x1="44.3" y1="236.608" x2="45.5" y2="236.608" stroke="#aaa" stroke-width="0.5" />
<line x1="44.3" y1="239.456" x2="45.5" y2="239.456" stroke="#aaa" stroke-width="0.5" />
<line x1="44.3" y1="242.304" x2="45.5" y2="242.304" stroke="#aaa" stroke-width="0.5" />
<line x1="44.3" y1="245.152" x2="45.5" y2="245.152" stroke="#aaa" stroke-width="0.5" />
<line x1="44.3" y1="248.0" x2="45.5" y2="248.0" stroke="#aaa" stroke-width="0.5" />
<text x="43" y="258.0" font-size="5.2" font-weight="normal" text-anchor="end" fill="#999"  font-family='"Liberation Sans", sans-serif' >100</text>
<line x1="43.5" y1="256.2" x2="46" y2="256.2" stroke="#888" stroke-width="0.7" />
<text x="43" y="272.46" font-size="5.2" font-weight="normal" text-anchor="end" fill="#999"  font-family='"Liberation Sans", sans-serif' >80</text>
<line x1="43.5" y1="270.65999999999997" x2="46" y2="270.65999999999997" stroke="#888" stroke-width="0.7" />
<text x="43" y="286.92" font-size="5.2" font-weight="normal" text-anchor="end" fill="#999"  font-family='"Liberation Sans", sans-serif' >60</text>
<line x1="43.5" y1="285.12" x2="46" y2="285.12" stroke="#888" stroke-width="0.7" />
<text x="43" y="301.38" font-size="5.2" font-weight="normal" text-anchor="end" fill="#999"  font-family='"Liberation Sans", sans-serif' >40</text>
<line x1="43.5" y1="299.58" x2="46" y2="299.58" stroke="#888" stroke-width="0.7" />
<text x="43" y="315.84000000000003" font-size="5.2" font-weight="normal" text-anchor="end" fill="#999"  font-family='"Liberation Sans", sans-serif' >20</text>
<line x1="43.5" y1="314.04" x2="46" y2="314.04" stroke="#888" stroke-width="0.7" />
<text x="43" y="330.3" font-size="5.2" font-weight="normal" text-anchor="end" fill="#999"  font-family='"Liberation Sans", sans-serif' >0</text>
<line x1="43.5" y1="328.5" x2="46" y2="328.5" stroke="#888" stroke-width="0.7" />
<line x1="44.8" y1="256.2" x2="46" y2="256.2" stroke="#aaa" stroke-width="0.5" />
<line x1="44.8" y1="259.092" x2="46" y2="259.092" stroke="#aaa" stroke-width="0.5" />
<line x1="44.8" y1="261.984" x2="46" y2="261.984" stroke="#aaa" stroke-width="0.5" />
<line x1="44.8" y1="264.876" x2="46" y2="264.876" stroke="#aaa" stroke-width="0.5" />
<line x1="44.8" y1="267.768" x2="46" y2="267.768" stroke="#aaa" stroke-width="0.5" />
<line x1="44.8" y1="270.65999999999997" x2="46" y2="270.65999999999997" stroke="#aaa" stroke-width="0.5" />
<line x1="44.8" y1="273.552" x2="46" y2="273.552" stroke="#aaa" stroke-width="0.5" />
<line x1="44.8" y1="276.444" x2="46" y2="276.444" stroke="#aaa" stroke-width="0.5" />
<line x1="44.8" y1="279.336" x2="46" y2="279.336" stroke="#aaa" stroke-width="0.5" />
<line x1="44.8" y1="282.228" x2="46" y2="282.228" stroke="#aaa" stroke-width="0.5" />
<line x1="44.8" y1="285.12" x2="46" y2="285.12" stroke="#aaa" stroke-width="0.5" />
<line x1="44.8" y1="288.012" x2="46" y2="288.012" stroke="#aaa" stroke-width="0.5" />
<line x1="44.8" y1="290.904" x2="46" y2="290.904" stroke="#aaa" stroke-width="0.5" />
<line x1="44.8" y1="293.796" x2="46" y2="293.796" stroke="#aaa" stroke-width="0.5" />
<line x1="44.8" y1="296.688" x2="46" y2="296.688" stroke="#aaa" stroke-width="0.5" />
<line x1="44.8" y1="299.58" x2="46" y2="299.58" stroke="#aaa" stroke-width="0.5" />
<line x1="44.8" y1="302.472" x2="46" y2="302.472" stroke="#aaa" stroke-width="0.5" />
<line x1="44.8" y1="305.364" x2="46" y2="305.364" stroke="#aaa" stroke-width="0.5" />
<line x1="44.8" y1="308.256" x2="46" y2="308.256" stroke="#aaa" stroke-width="0.5" />
<line x1="44.8" y1="311.148" x2="46" y2="311.148" stroke="#aaa" stroke-width="0.5" />
<line x1="44.8" y1="314.04" x2="46" y2="314.04" stroke="#aaa" stroke-width="0.5" />
<line x1="44.8" y1="316.932" x2="46" y2="316.932" stroke="#aaa" stroke-width="0.5" />
<line x1="44.8" y1="319.824" x2="46" y2="319.824" stroke="#aaa" stroke-width="0.5" />
<line x1="44.8" y1="322.716" x2="46" y2="322.716" stroke="#aaa" stroke-width="0.5" />
<line x1="44.8" y1="325.608" x2="46" y2="325.608" stroke="#aaa" stroke-width="0.5" />
<line x1="44.8" y1="328.5" x2="46" y2="328.5" stroke="#aaa" stroke-width="0.5" />
<text x="42.5" y="335.2" font-size="4.6" font-weight="normal" text-anchor="start" fill="#aaa" font-family='"Liberation Sans", sans-serif'>10<tspan font-size="3.22" dy="-1.84">0</tspan></text>
<line x1="46.0" y1="328.5" x2="46.0" y2="330.5" stroke="#999" stroke-width="0.6" />
<line x1="51.64431241869965" y1="328.5" x2="51.64431241869965" y2="329.7" stroke="#aaa" stroke-width="0.5" />
<line x1="54.94602352599367" y1="328.5" x2="54.94602352599367" y2="329.7" stroke="#aaa" stroke-width="0.5" />
<line x1="57.2886248373993" y1="328.5" x2="57.2886248373993" y2="329.7" stroke="#aaa" stroke-width="0.5" />
<line x1="59.10568758130035" y1="328.5" x2="59.10568758130035" y2="329.7" stroke="#aaa" stroke-width="0.5" />
<line x1="60.59033594469332" y1="328.5" x2="60.59033594469332" y2="329.7" stroke="#aaa" stroke-width="0.5" />
<line x1="61.84558825026731" y1="328.5" x2="61.84558825026731" y2="329.7" stroke="#aaa" stroke-width="0.5" />
<line x1="62.93293725609894" y1="328.5" x2="62.93293725609894" y2="329.7" stroke="#aaa" stroke-width="0.5" />
<line x1="63.89204705198734" y1="328.5" x2="63.89204705198734" y2="329.7" stroke="#aaa" stroke-width="0.5" />
<text x="61.25" y="335.2" font-size="4.6" font-weight="normal" text-anchor="start" fill="#aaa" font-family='"Liberation Sans", sans-serif'>10<tspan font-size="3.22" dy="-1.84">1</tspan></text>
<line x1="64.75" y1="328.5" x2="64.75" y2="330.5" stroke="#999" stroke-width="0.6" />
<line x1="70.39431241869964" y1="328.5" x2="70.39431241869964" y2="329.7" stroke="#aaa" stroke-width="0.5" />
<line x1="73.69602352599367" y1="328.5" x2="73.69602352599367" y2="329.7" stroke="#aaa" stroke-width="0.5" />
<line x1="76.0386248373993" y1="328.5" x2="76.0386248373993" y2="329.7" stroke="#aaa" stroke-width="0.5" />
<line x1="77.85568758130036" y1="328.5" x2="77.85568758130036" y2="329.7" stroke="#aaa" stroke-width="0.5" />
<line x1="79.34033594469332" y1="328.5" x2="79.34033594469332" y2="329.7" stroke="#aaa" stroke-width="0.5" />
<line x1="80.59558825026731" y1="328.5" x2="80.59558825026731" y2="329.7" stroke="#aaa" stroke-width="0.5" />
<line x1="81.68293725609894" y1="328.5" x2="81.68293725609894" y2="329.7" stroke="#aaa" stroke-width="0.5" />
<line x1="82.64204705198733" y1="328.5" x2="82.64204705198733" y2="329.7" stroke="#aaa" stroke-width="0.5" />
<text x="80.0" y="335.2" font-size="4.6" font-weight="normal" text-anchor="start" fill="#aaa" font-family='"Liberation Sans", sans-serif'>10<tspan font-size="3.22" dy="-1.84">2</tspan></text>
<line x1="83.5" y1="328.5" x2="83.5" y2="330.5" stroke="#999" stroke-width="0.6" />
<line x1="89.14431241869964" y1="328.5" x2="89.14431241869964" y2="329.7" stroke="#aaa" stroke-width="0.5" />
<line x1="92.44602352599367" y1="328.5" x2="92.44602352599367" y2="329.7" stroke="#aaa" stroke-width="0.5" />
<line x1="94.7886248373993" y1="328.5" x2="94.7886248373993" y2="329.7" stroke="#aaa" stroke-width="0.5" />
<line x1="96.60568758130036" y1="328.5" x2="96.60568758130036" y2="329.7" stroke="#aaa" stroke-width="0.5" />
<line x1="98.09033594469332" y1="328.5" x2="98.09033594469332" y2="329.7" stroke="#aaa" stroke-width="0.5" />
<line x1="99.34558825026731" y1="328.5" x2="99.34558825026731" y2="329.7" stroke="#aaa" stroke-width="0.5" />
<line x1="100.43293725609894" y1="328.5" x2="100.43293725609894" y2="329.7" stroke="#aaa" stroke-width="0.5" />
<line x1="101.39204705198733" y1="328.5" x2="101.39204705198733" y2="329.7" stroke="#aaa" stroke-width="0.5" />
<text x="98.75" y="335.2" font-size="4.6" font-weight="normal" text-anchor="start" fill="#aaa" font-family='"Liberation Sans", sans-serif'>10<tspan font-size="3.22" dy="-1.84">3</tspan></text>
<line x1="102.25" y1="328.5" x2="102.25" y2="330.5" stroke="#999" stroke-width="0.6" />
<line x1="107.89431241869964" y1="328.5" x2="107.89431241869964" y2="329.7" stroke="#aaa" stroke-width="0.5" />
<line x1="111.19602352599367" y1="328.5" x2="111.19602352599367" y2="329.7" stroke="#aaa" stroke-width="0.5" />
<line x1="113.5386248373993" y1="328.5" x2="113.5386248373993" y2="329.7" stroke="#aaa" stroke-width="0.5" />
<line x1="115.35568758130036" y1="328.5" x2="115.35568758130036" y2="329.7" stroke="#aaa" stroke-width="0.5" />
<line x1="116.84033594469332" y1="328.5" x2="116.84033594469332" y2="329.7" stroke="#aaa" stroke-width="0.5" />
<line x1="118.09558825026731" y1="328.5" x2="118.09558825026731" y2="329.7" stroke="#aaa" stroke-width="0.5" />
<line x1="119.18293725609894" y1="328.5" x2="119.18293725609894" y2="329.7" stroke="#aaa" stroke-width="0.5" />
<line x1="120.14204705198733" y1="328.5" x2="120.14204705198733" y2="329.7" stroke="#aaa" stroke-width="0.5" />
<text x="117.5" y="335.2" font-size="4.6" font-weight="normal" text-anchor="start" fill="#aaa" font-family='"Liberation Sans", sans-serif'>10<tspan font-size="3.22" dy="-1.84">4</tspan></text>
<line x1="121.0" y1="328.5" x2="121.0" y2="330.5" stroke="#999" stroke-width="0.6" />
<text x="122.0" y="335.2" font-size="4.6" font-weight="normal" text-anchor="start" fill="#aaa" font-family='"Liberation Sans", sans-serif'>10<tspan font-size="3.22" dy="-1.84">0</tspan></text>
<line x1="125.5" y1="328.5" x2="125.5" y2="330.5" stroke="#999" stroke-width="0.6" />
<line x1="131.08410641956684" y1="328.5" x2="131.08410641956684" y2="329.7" stroke="#aaa" stroke-width="0.5" />
<line x1="134.35059927504975" y1="328.5" x2="134.35059927504975" y2="329.7" stroke="#aaa" stroke-width="0.5" />
<line x1="136.6682128391337" y1="328.5" x2="136.6682128391337" y2="329.7" stroke="#aaa" stroke-width="0.5" />
<line x1="138.46589358043315" y1="328.5" x2="138.46589358043315" y2="329.7" stroke="#aaa" stroke-width="0.5" />
<line x1="139.93470569461658" y1="328.5" x2="139.93470569461658" y2="329.7" stroke="#aaa" stroke-width="0.5" />
<line x1="141.17656864226447" y1="328.5" x2="141.17656864226447" y2="329.7" stroke="#aaa" stroke-width="0.5" />
<line x1="142.25231925870054" y1="328.5" x2="142.25231925870054" y2="329.7" stroke="#aaa" stroke-width="0.5" />
<line x1="143.20119855009946" y1="328.5" x2="143.20119855009946" y2="329.7" stroke="#aaa" stroke-width="0.5" />
<text x="140.55" y="335.2" font-size="4.6" font-weight="normal" text-anchor="start" fill="#aaa" font-family='"Liberation Sans", sans-serif'>10<tspan font-size="3.22" dy="-1.84">1</tspan></text>
<line x1="144.05" y1="328.5" x2="144.05" y2="330.5" stroke="#999" stroke-width="0.6" />
<line x1="149.63410641956685" y1="328.5" x2="149.63410641956685" y2="329.7" stroke="#aaa" stroke-width="0.5" />
<line x1="152.90059927504976" y1="328.5" x2="152.90059927504976" y2="329.7" stroke="#aaa" stroke-width="0.5" />
<line x1="155.2182128391337" y1="328.5" x2="155.2182128391337" y2="329.7" stroke="#aaa" stroke-width="0.5" />
<line x1="157.01589358043316" y1="328.5" x2="157.01589358043316" y2="329.7" stroke="#aaa" stroke-width="0.5" />
<line x1="158.4847056946166" y1="328.5" x2="158.4847056946166" y2="329.7" stroke="#aaa" stroke-width="0.5" />
<line x1="159.72656864226448" y1="328.5" x2="159.72656864226448" y2="329.7" stroke="#aaa" stroke-width="0.5" />
<line x1="160.80231925870055" y1="328.5" x2="160.80231925870055" y2="329.7" stroke="#aaa" stroke-width="0.5" />
<line x1="161.75119855009947" y1="328.5" x2="161.75119855009947" y2="329.7" stroke="#aaa" stroke-width="0.5" />
<text x="159.1" y="335.2" font-size="4.6" font-weight="normal" text-anchor="start" fill="#aaa" font-family='"Liberation Sans", sans-serif'>10<tspan font-size="3.22" dy="-1.84">2</tspan></text>
<line x1="162.6" y1="328.5" x2="162.6" y2="330.5" stroke="#999" stroke-width="0.6" />
<line x1="168.18410641956683" y1="328.5" x2="168.18410641956683" y2="329.7" stroke="#aaa" stroke-width="0.5" />
<line x1="171.45059927504974" y1="328.5" x2="171.45059927504974" y2="329.7" stroke="#aaa" stroke-width="0.5" />
<line x1="173.7682128391337" y1="328.5" x2="173.7682128391337" y2="329.7" stroke="#aaa" stroke-width="0.5" />
<line x1="175.56589358043314" y1="328.5" x2="175.56589358043314" y2="329.7" stroke="#aaa" stroke-width="0.5" />
<line x1="177.03470569461658" y1="328.5" x2="177.03470569461658" y2="329.7" stroke="#aaa" stroke-width="0.5" />
<line x1="178.27656864226446" y1="328.5" x2="178.27656864226446" y2="329.7" stroke="#aaa" stroke-width="0.5" />
<line x1="179.35231925870053" y1="328.5" x2="179.35231925870053" y2="329.7" stroke="#aaa" stroke-width="0.5" />
<line x1="180.30119855009946" y1="328.5" x2="180.30119855009946" y2="329.7" stroke="#aaa" stroke-width="0.5" />
<text x="177.64999999999998" y="335.2" font-size="4.6" font-weight="normal" text-anchor="start" fill="#aaa" font-family='"Liberation Sans", sans-serif'>10<tspan font-size="3.22" dy="-1.84">3</tspan></text>
<line x1="181.14999999999998" y1="328.5" x2="181.14999999999998" y2="330.5" stroke="#999" stroke-width="0.6" />
<line x1="186.7341064195668" y1="328.5" x2="186.7341064195668" y2="329.7" stroke="#aaa" stroke-width="0.5" />
<line x1="190.00059927504972" y1="328.5" x2="190.00059927504972" y2="329.7" stroke="#aaa" stroke-width="0.5" />
<line x1="192.31821283913368" y1="328.5" x2="192.31821283913368" y2="329.7" stroke="#aaa" stroke-width="0.5" />
<line x1="194.11589358043312" y1="328.5" x2="194.11589358043312" y2="329.7" stroke="#aaa" stroke-width="0.5" />
<line x1="195.58470569461656" y1="328.5" x2="195.58470569461656" y2="329.7" stroke="#aaa" stroke-width="0.5" />
<line x1="196.82656864226445" y1="328.5" x2="196.82656864226445" y2="329.7" stroke="#aaa" stroke-width="0.5" />
<line x1="197.90231925870052" y1="328.5" x2="197.90231925870052" y2="329.7" stroke="#aaa" stroke-width="0.5" />
<line x1="198.85119855009944" y1="328.5" x2="198.85119855009944" y2="329.7" stroke="#aaa" stroke-width="0.5" />
<text x="196.2" y="335.2" font-size="4.6" font-weight="normal" text-anchor="start" fill="#aaa" font-family='"Liberation Sans", sans-serif'>10<tspan font-size="3.22" dy="-1.84">4</tspan></text>
<line x1="199.7" y1="328.5" x2="199.7" y2="330.5" stroke="#999" stroke-width="0.6" />
<text x="31.2" y="394.6" font-size="7.6" font-weight="normal" text-anchor="end" fill="#222"  font-family='"Liberation Serif", serif' >100</text>
<line x1="31.8" y1="392.0" x2="35.3" y2="392.0" stroke="#444" stroke-width="0.7" />
<text x="31.2" y="409.70000000000005" font-size="7.6" font-weight="normal" text-anchor="end" fill="#222"  font-family='"Liberation Serif", serif' >80</text>
<line x1="31.8" y1="407.1" x2="35.3" y2="407.1" stroke="#444" stroke-width="0.7" />
<text x="31.2" y="424.8" font-size="7.6" font-weight="normal" text-anchor="end" fill="#222"  font-family='"Liberation Serif", serif' >60</text>
<line x1="31.8" y1="422.2" x2="35.3" y2="422.2" stroke="#444" stroke-width="0.7" />
<text x="31.2" y="439.90000000000003" font-size="7.6" font-weight="normal" text-anchor="end" fill="#222"  font-family='"Liberation Serif", serif' >40</text>
<line x1="31.8" y1="437.3" x2="35.3" y2="437.3" stroke="#444" stroke-width="0.7" />
<text x="31.2" y="455.0" font-size="7.6" font-weight="normal" text-anchor="end" fill="#222"  font-family='"Liberation Serif", serif' >20</text>
<line x1="31.8" y1="452.4" x2="35.3" y2="452.4" stroke="#444" stroke-width="0.7" />
<text x="31.2" y="470.1" font-size="7.6" font-weight="normal" text-anchor="end" fill="#222"  font-family='"Liberation Serif", serif' >0</text>
<line x1="31.8" y1="467.5" x2="35.3" y2="467.5" stroke="#444" stroke-width="0.7" />
<text transform="translate(18.3,427.5) rotate(-90)" font-size="7.2" font-weight="normal" text-anchor="middle" fill="#333"  font-family='"Liberation Serif", serif'>% of Max</text>
<text x="30.499999999999996" y="479.0" font-size="7.8" font-weight="normal" text-anchor="start" fill="#222" font-family='"Liberation Serif", serif'>10<tspan font-size="5.46" dy="-3.12">0</tspan></text>
<text x="50.3" y="479.0" font-size="7.8" font-weight="normal" text-anchor="start" fill="#222" font-family='"Liberation Serif", serif'>10<tspan font-size="5.46" dy="-3.12">1</tspan></text>
<text x="70.10000000000001" y="479.0" font-size="7.8" font-weight="normal" text-anchor="start" fill="#222" font-family='"Liberation Serif", serif'>10<tspan font-size="5.46" dy="-3.12">2</tspan></text>
<text x="89.9" y="479.0" font-size="7.8" font-weight="normal" text-anchor="start" fill="#222" font-family='"Liberation Serif", serif'>10<tspan font-size="5.46" dy="-3.12">3</tspan></text>
<text x="109.7" y="479.0" font-size="7.8" font-weight="normal" text-anchor="start" fill="#222" font-family='"Liberation Serif", serif'>10<tspan font-size="5.46" dy="-3.12">4</tspan></text>
<text x="122.85" y="478.8" font-size="7.8" font-weight="normal" text-anchor="start" fill="#222" font-family='"Liberation Serif", serif'>0<tspan font-size="5.46" dy="-3.12">0</tspan></text>
<text x="138.95" y="478.8" font-size="7.8" font-weight="normal" text-anchor="start" fill="#222" font-family='"Liberation Serif", serif'>10<tspan font-size="5.46" dy="-3.12">1</tspan></text>
<text x="158.95" y="478.8" font-size="7.8" font-weight="normal" text-anchor="start" fill="#222" font-family='"Liberation Serif", serif'>10<tspan font-size="5.46" dy="-3.12">2</tspan></text>
<text x="178.95" y="478.8" font-size="7.8" font-weight="normal" text-anchor="start" fill="#222" font-family='"Liberation Serif", serif'>10<tspan font-size="5.46" dy="-3.12">3</tspan></text>
<text x="198.95" y="478.8" font-size="7.8" font-weight="normal" text-anchor="start" fill="#222" font-family='"Liberation Serif", serif'>10<tspan font-size="5.46" dy="-3.12">4</tspan></text>
<text x="213.6" y="478.8" font-size="7.8" font-weight="normal" text-anchor="start" fill="#222" font-family='"Liberation Serif", serif'>0<tspan font-size="5.46" dy="-3.12">0</tspan></text>
<text x="229.6375" y="478.8" font-size="7.8" font-weight="normal" text-anchor="start" fill="#222" font-family='"Liberation Serif", serif'>10<tspan font-size="5.46" dy="-3.12">1</tspan></text>
<text x="249.575" y="478.8" font-size="7.8" font-weight="normal" text-anchor="start" fill="#222" font-family='"Liberation Serif", serif'>10<tspan font-size="5.46" dy="-3.12">2</tspan></text>
<text x="269.5125" y="478.8" font-size="7.8" font-weight="normal" text-anchor="start" fill="#222" font-family='"Liberation Serif", serif'>10<tspan font-size="5.46" dy="-3.12">3</tspan></text>
<text x="289.45" y="478.8" font-size="7.8" font-weight="normal" text-anchor="start" fill="#222" font-family='"Liberation Serif", serif'>10<tspan font-size="5.46" dy="-3.12">4</tspan></text>
<text x="304.1" y="478.8" font-size="7.8" font-weight="normal" text-anchor="start" fill="#222" font-family='"Liberation Serif", serif'>0<tspan font-size="5.46" dy="-3.12">0</tspan></text>
<text x="320.075" y="478.8" font-size="7.8" font-weight="normal" text-anchor="start" fill="#222" font-family='"Liberation Serif", serif'>10<tspan font-size="5.46" dy="-3.12">1</tspan></text>
<text x="339.95" y="478.8" font-size="7.8" font-weight="normal" text-anchor="start" fill="#222" font-family='"Liberation Serif", serif'>10<tspan font-size="5.46" dy="-3.12">2</tspan></text>
<text x="359.825" y="478.8" font-size="7.8" font-weight="normal" text-anchor="start" fill="#222" font-family='"Liberation Serif", serif'>10<tspan font-size="5.46" dy="-3.12">3</tspan></text>
<text x="379.7" y="478.8" font-size="7.8" font-weight="normal" text-anchor="start" fill="#222" font-family='"Liberation Serif", serif'>10<tspan font-size="5.46" dy="-3.12">4</tspan></text>
</svg></body></html>
